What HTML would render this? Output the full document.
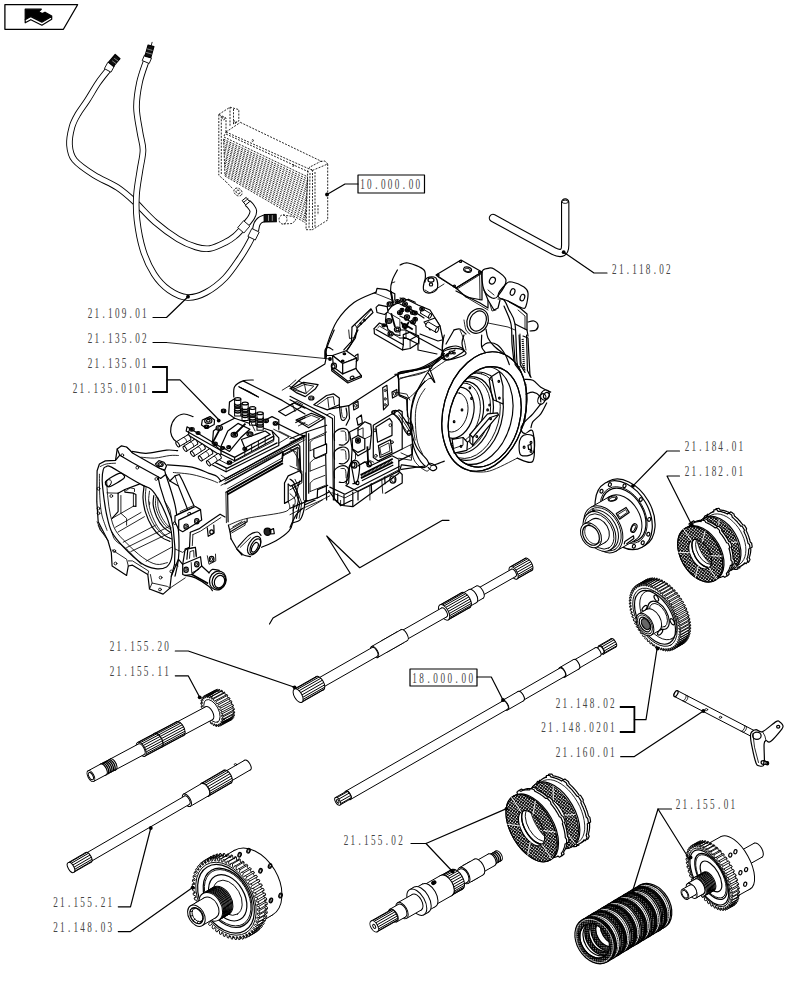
<!DOCTYPE html>
<html><head><meta charset="utf-8"><title>Transmission parts diagram</title>
<style>
html,body{margin:0;padding:0;background:#fff;}
body{width:812px;height:1000px;overflow:hidden;}
svg{display:block;}
.l{fill:none;stroke:#000;stroke-width:1.2;stroke-linecap:round;stroke-linejoin:round;}
.t{fill:none;stroke:#000;stroke-width:0.85;stroke-linecap:round;stroke-linejoin:round;}
.w{fill:#fff;stroke:#000;stroke-width:1.2;stroke-linecap:round;stroke-linejoin:round;}
.wt{fill:#fff;stroke:#000;stroke-width:0.7;stroke-linejoin:round;}
.b{fill:none;stroke:#000;stroke-width:1.8;stroke-linecap:square;stroke-linejoin:miter;}
.d{fill:none;stroke:#111;stroke-width:0.9;stroke-dasharray:2 1.3;}
.lab{font-family:"Liberation Serif","DejaVu Serif",serif;font-size:14.8px;fill:#444;}
</style></head><body>
<svg width="812" height="1000" viewBox="0 0 812 1000">
<rect width="812" height="1000" fill="#fff"/>
<g id="badge">
<polygon class="l" points="4.9,4.7 77.6,4.7 63.4,29.3 4.9,29.3" style="stroke-width:1.3"/>
<polygon class="l" points="25.2,9.2 41.3,9.2 38.6,11.8 42.3,13.6 45,12.2 51.7,16 41.9,21.6 30.8,16 25.2,19.7" style="fill:#000"/>
<polygon class="w" points="25.2,19.7 30.8,16.6 41.9,22.2 51.7,16.6 51.7,19.3 41.9,25.2 30.8,19.7 25.2,22.8" />
</g>
<g id="hoses">
<path d="M108 70C106.3 72.2 101.4 78 98 83C94.6 88 90.8 94.8 87.5 100C84.2 105.2 80.6 109.5 78 114C75.4 118.5 73.4 121.8 72 127C70.6 132.2 69.1 139.5 69.5 145C69.9 150.5 70.4 155 74.5 160C78.6 165 86.8 170.4 94 175C101.2 179.6 110.7 183 117.5 187.5C124.3 192 128.8 196.2 135 202C141.2 207.8 147.8 215.8 155 222C162.2 228.2 171.2 234.8 178 239C184.8 243.2 190.7 245.4 196 247C201.3 248.6 205 249.3 210 248.5C215 247.7 221.8 244.1 226 242C230.2 239.9 232.5 238 235 236C237.5 234 240 231 241 230" fill="none" stroke="#000" stroke-width="6.6" stroke-linecap="butt"/><path d="M108 70C106.3 72.2 101.4 78 98 83C94.6 88 90.8 94.8 87.5 100C84.2 105.2 80.6 109.5 78 114C75.4 118.5 73.4 121.8 72 127C70.6 132.2 69.1 139.5 69.5 145C69.9 150.5 70.4 155 74.5 160C78.6 165 86.8 170.4 94 175C101.2 179.6 110.7 183 117.5 187.5C124.3 192 128.8 196.2 135 202C141.2 207.8 147.8 215.8 155 222C162.2 228.2 171.2 234.8 178 239C184.8 243.2 190.7 245.4 196 247C201.3 248.6 205 249.3 210 248.5C215 247.7 221.8 244.1 226 242C230.2 239.9 232.5 238 235 236C237.5 234 240 231 241 230" fill="none" stroke="#fff" stroke-width="4.8" stroke-linecap="butt"/>
<path d="M145.9 62C144.8 65.4 141.1 74.9 139.5 82.5C137.9 90.1 136.4 99.2 136.5 107.5C136.6 115.8 138.9 125.4 140 132.5C141.1 139.6 143 143.8 143 150C143 156.2 141.1 162.5 140 170C138.9 177.5 137 186.7 136.5 195C136 203.3 135.9 210.8 137 220C138.1 229.2 140.2 241 143 250C145.8 259 149.7 267.3 154 274C158.3 280.7 163.4 286.1 169 290C174.6 293.9 181.3 297.1 187.5 297.5C193.7 297.9 199.8 295.8 206 292.5C212.2 289.2 219.3 283.8 225 278C230.7 272.2 236.2 263.5 240 258C243.8 252.5 246.1 248.3 248 245C249.9 241.7 251 239.3 251.6 238.2" fill="none" stroke="#000" stroke-width="6.6" stroke-linecap="butt"/><path d="M145.9 62C144.8 65.4 141.1 74.9 139.5 82.5C137.9 90.1 136.4 99.2 136.5 107.5C136.6 115.8 138.9 125.4 140 132.5C141.1 139.6 143 143.8 143 150C143 156.2 141.1 162.5 140 170C138.9 177.5 137 186.7 136.5 195C136 203.3 135.9 210.8 137 220C138.1 229.2 140.2 241 143 250C145.8 259 149.7 267.3 154 274C158.3 280.7 163.4 286.1 169 290C174.6 293.9 181.3 297.1 187.5 297.5C193.7 297.9 199.8 295.8 206 292.5C212.2 289.2 219.3 283.8 225 278C230.7 272.2 236.2 263.5 240 258C243.8 252.5 246.1 248.3 248 245C249.9 241.7 251 239.3 251.6 238.2" fill="none" stroke="#fff" stroke-width="4.8" stroke-linecap="butt"/>
<polygon points="111,72.2 114.5,65.8 107.9,62.2 104.4,68.6" fill="#fff" stroke="#000" stroke-width="0.9" stroke-linejoin="round"/>
<polygon points="113.4,66.4 120,58.7 115.2,54.5 108.6,62.2" fill="#111" stroke="#000" stroke-width="1.2" stroke-linejoin="round"/>
<line class="t" x1="112.5" y1="61" x2="116" y2="63.5" style="stroke:#999"/>
<line class="t" x1="114.5" y1="58.5" x2="118" y2="61" style="stroke:#999"/>
<polygon points="149.2,63.5 151.5,58.1 144.5,55.1 142.2,60.5" fill="#fff" stroke="#000" stroke-width="0.9" stroke-linejoin="round"/>
<polygon points="150.8,57.7 153.9,46.6 148.1,45 145,56.1" fill="#111" stroke="#000" stroke-width="1.2" stroke-linejoin="round"/>
<line class="t" x1="146.5" y1="52.5" x2="151.5" y2="54" style="stroke:#999"/>
<line class="t" x1="147.5" y1="49" x2="152" y2="50.3" style="stroke:#999"/>
<line class="t" x1="151.2" y1="45.5" x2="152.1" y2="42.3" />
<path d="M246.7 223.4C247.5 222.3 250.4 219.1 251.5 217C252.6 214.9 253.5 212.8 253.3 211C253.1 209.2 251.5 207.4 250.5 206C249.5 204.6 247.8 203.3 247.2 202.8" fill="none" stroke="#000" stroke-width="7.6" stroke-linecap="butt"/><path d="M246.7 223.4C247.5 222.3 250.4 219.1 251.5 217C252.6 214.9 253.5 212.8 253.3 211C253.1 209.2 251.5 207.4 250.5 206C249.5 204.6 247.8 203.3 247.2 202.8" fill="none" stroke="#fff" stroke-width="5.6" stroke-linecap="butt"/>
<polygon points="243.9,233 249.8,226.1 243.6,220.7 237.7,227.6" fill="#fff" stroke="#000" stroke-width="0.9" stroke-linejoin="round"/>
<polygon points="249.6,201.7 246.2,197.4 242.2,200.6 245.6,204.9" fill="#fff" stroke="#000" stroke-width="1.0" stroke-linejoin="round"/>
<line class="t" x1="243.6" y1="202.3" x2="248" y2="198.8" />
<path d="M255.5 230.3C255.8 229.2 256.2 225.7 257 224C257.8 222.3 258.7 221.2 260 220.2C261.3 219.2 264.2 218.4 265 218" fill="none" stroke="#000" stroke-width="7.2" stroke-linecap="butt"/><path d="M255.5 230.3C255.8 229.2 256.2 225.7 257 224C257.8 222.3 258.7 221.2 260 220.2C261.3 219.2 264.2 218.4 265 218" fill="none" stroke="#fff" stroke-width="5.2" stroke-linecap="butt"/>
<polygon points="255.3,240 259.2,232.1 251.8,228.5 247.9,236.4" fill="#fff" stroke="#000" stroke-width="0.9" stroke-linejoin="round"/>
<polygon points="264.3,221.9 276.3,221.7 276.1,214.3 264.1,214.5" fill="#111" stroke="#000" stroke-width="1.2" stroke-linejoin="round"/>
<line class="t" x1="268.5" y1="215.5" x2="268.5" y2="220.5" style="stroke:#aaa"/>
<line class="t" x1="272.3" y1="215.5" x2="272.3" y2="220.5" style="stroke:#aaa"/>
</g>
<g id="cooler">
<polyline class="d" points="218.8,114.4 230,107.2 238.8,109.6 238.8,121 233,124" />
<polyline class="d" points="218.8,114.4 218.8,175.2 226,181.7" />
<polyline class="d" points="221.3,116 221.3,174" />
<polyline class="d" points="230,107.2 230,126" />
<polyline class="d" points="233.5,109 233.5,124" />
<polyline class="d" points="226,132 226,118 218.8,114.4" />
<circle class="d" cx="223.5" cy="118.5" r="1.3" />
<circle class="d" cx="235" cy="122" r="1.3" />
<polyline class="d" points="226,132 312.5,170.4" />
<polyline class="d" points="226,134 310,172.5" />
<polyline class="d" points="240.4,122.4 322,161.6" />
<polyline class="d" points="226,132 240.4,122.4" />
<polyline class="d" points="224,136 226,132" />
<circle class="d" cx="252.5" cy="140.5" r="0.9" />
<circle class="d" cx="293" cy="165.5" r="0.9" />
<line class="d" x1="223.6" y1="139.2" x2="307.7" y2="179.2" stroke-dashoffset="0.00"/>
<line class="d" x1="223.7" y1="141" x2="307.6" y2="181.4" stroke-dashoffset="0.50"/>
<line class="d" x1="223.7" y1="142.9" x2="307.4" y2="183.5" stroke-dashoffset="1.00"/>
<line class="d" x1="223.8" y1="144.7" x2="307.3" y2="185.7" stroke-dashoffset="1.50"/>
<line class="d" x1="223.9" y1="146.6" x2="307.2" y2="187.9" stroke-dashoffset="2.00"/>
<line class="d" x1="223.9" y1="148.4" x2="307" y2="190" stroke-dashoffset="2.50"/>
<line class="d" x1="224" y1="150.2" x2="306.9" y2="192.2" stroke-dashoffset="3.00"/>
<line class="d" x1="224.1" y1="152.1" x2="306.8" y2="194.4" stroke-dashoffset="0.25"/>
<line class="d" x1="224.2" y1="153.9" x2="306.6" y2="196.5" stroke-dashoffset="0.75"/>
<line class="d" x1="224.2" y1="155.8" x2="306.5" y2="198.7" stroke-dashoffset="1.25"/>
<line class="d" x1="224.3" y1="157.6" x2="306.4" y2="200.8" stroke-dashoffset="1.75"/>
<line class="d" x1="224.4" y1="159.4" x2="306.2" y2="203" stroke-dashoffset="2.25"/>
<line class="d" x1="224.4" y1="161.3" x2="306.1" y2="205.2" stroke-dashoffset="2.75"/>
<line class="d" x1="224.5" y1="163.1" x2="305.9" y2="207.3" stroke-dashoffset="0.00"/>
<line class="d" x1="224.6" y1="165" x2="305.8" y2="209.5" stroke-dashoffset="0.50"/>
<line class="d" x1="224.7" y1="166.8" x2="305.7" y2="211.7" stroke-dashoffset="1.00"/>
<line class="d" x1="224.7" y1="168.6" x2="305.5" y2="213.8" stroke-dashoffset="1.50"/>
<line class="d" x1="224.8" y1="170.5" x2="305.4" y2="216" stroke-dashoffset="2.00"/>
<line class="d" x1="224.9" y1="172.3" x2="305.3" y2="218.2" stroke-dashoffset="2.50"/>
<line class="d" x1="224.9" y1="174.2" x2="305.1" y2="220.3" stroke-dashoffset="3.00"/>
<line class="d" x1="225" y1="176" x2="305" y2="222.5" stroke-dashoffset="0.25"/>
<polyline class="d" points="223.6,139.2 225,176" />
<polyline class="d" points="307.7,179.2 305,222.5" />
<polyline class="d" points="224,137 308,177" />
<polyline class="d" points="312.5,170.4 327.7,164 327.7,220 312.5,229.7 312.5,170.4" />
<polyline class="d" points="307.7,170.4 306,229.7 312.5,229.7" />
<polyline class="d" points="310,173 309,228" />
<polyline class="d" points="315,172 315,227" />
<polyline class="d" points="320.5,161.5 325,161 327.7,164" />
<polyline class="d" points="312.5,170.4 309,167.5 320.5,161.5" />
<polyline class="d" points="318,205 318,215" />
<ellipse class="d" cx="238" cy="192" rx="4.5" ry="3.5" transform="rotate(40 238 192)" />
<ellipse class="d" cx="238" cy="192" rx="2.2" ry="1.7" transform="rotate(40 238 192)" />
<polyline class="d" points="226,181.7 233,189" />
<ellipse class="d" cx="283" cy="219.5" rx="4" ry="4.6" />
<polyline class="d" points="283,215 293,216.5 296,220 292,223.5 283,224" />
</g>
<g id="tube">
<path d="M493 218 L553.5 251 Q565.2 257 565.2 245 L565.2 202.5" fill="none" stroke="#000" stroke-width="8.4" stroke-linecap="round"/>
<path d="M493 218 L553.5 251 Q565.2 257 565.2 245 L565.2 202.5" fill="none" stroke="#fff" stroke-width="6.2" stroke-linecap="round"/>
<ellipse class="t" cx="565.2" cy="201.8" rx="3.2" ry="1.6" />
</g>
<g id="housing">
<polyline class="l" points="225,479 304.9,435.4" />
<polyline class="t" points="225,481 304.9,437.7" />
<polyline class="l" points="225,484.1 282.8,452.1 283.7,455.5" />
<polyline class="b" points="227.6,491.5 282,460.9" />
<polyline class="t" points="227.6,488.7 282,458.1" />
<polyline class="l" points="227.6,491.5 228.1,521.8" />
<polyline class="t" points="225.9,492.1 226.4,522.7" />
<polyline class="l" points="282,458.1 282.8,452.1 298.1,444.5 299.8,446.2 300.7,472.5" />
<polyline class="t" points="283.7,455.5 297.3,448.4 298.1,470.8" />
<polyline class="t" points="293,450.4 298.4,458.9 299.1,469.1" />
<polyline class="l" points="284.5,483 288.2,475.9 299.8,470.8 301.8,474.5 301.5,481 290.5,486.1 288.2,484.1" />
<polyline class="l" points="284.5,483 284.5,503.4 288.2,501.4 288.2,484.1" />
<polyline class="t" points="288.2,501.4 295,497.2 299.8,481" />
<polyline class="l" points="292.2,486.1 296.4,494.6 299.8,503.1 296.4,518.4" />
<polyline class="t" points="293.9,485.3 298.4,494.3 301.8,503.1 299.1,518.4" />
<polyline class="t" points="295,479.3 298.1,486.1 299.8,481" />
<path class="t" d="M228.4 525.2C231.5 524.1 237.5 520.7 247.1 518.4C256.7 516.1 279.3 514.1 286.2 511.3C293.1 508.4 287.9 503 288.2 501.4" />
<path class="l" d="M261.6 547.3C264 546.2 271.5 543.5 276 540.8C280.5 538.2 286 534.2 288.8 531.2C291.5 528.1 291.9 527 292.7 522.7C293.4 518.3 293.2 507.8 293.3 504.8" />
<path class="l" d="M293.3 522.7C294.4 522.2 298.1 521.9 299.8 520.1C301.5 518.3 302.7 514.7 303.5 511.6C304.4 508.5 304.7 503.1 304.9 501.4" />
<polyline class="l" points="230.1,532 247.1,521.8 247.1,518.7" />
<polyline class="t" points="230.1,529.5 245.1,521 245.1,525.2 231.8,532.9" />
<polyline class="t" points="232.7,526.9 242,521.5" />
<polyline class="l" points="228.4,525.2 230.1,532 231,538.8" />
<polyline class="l" points="231,538.8 236.9,549 242,555" />
<ellipse class="w" cx="254.2" cy="545.6" rx="5.5" ry="10" transform="rotate(28 254.2 545.6)" />
<ellipse class="l" cx="255.3" cy="546.3" rx="4.2" ry="8.2" transform="rotate(28 255.3 546.3)" />
<ellipse class="l" cx="254.9" cy="547.3" rx="2.6" ry="5.2" transform="rotate(28 254.9 547.3)" />
<path class="l" d="M237.8 547.3C239.6 545.3 245.5 538 248.8 535.4C252.1 532.9 255.3 532 257.3 532C259.3 532 260.4 534.8 261 535.4" />
<path class="l" d="M236.9 549C238 550 241.4 553.7 243.7 555C246 556.2 249.4 556.4 250.5 556.7" />
<polyline class="t" points="240.3,547.3 250.5,537.4" />
<ellipse class="l" cx="267.5" cy="531.7" rx="3.4" ry="3.6" style="fill:#222"/>
<polygon class="l" points="269.5,530.3 273.5,528.6 274.3,533.7 270.9,534" />
<clipPath id="c2r"><rect x="290" y="500" width="200" height="120"/></clipPath><g clip-path="url(#c2r)">
<polyline class="l" points="304.9,435.4 304.9,501.4 313.4,497.2 327,489.5 327,430" />
<polyline class="l" points="308.3,438.5 308.3,494.6 316.8,489.8 316.8,495.5" />
<polyline class="t" points="310,440.2 310,492.1 325.3,484.1 325.3,433.4" />
<polyline class="l" points="329.6,430 329.6,489.5 327,489.5" />
<path class="l" d="M304.9 504.8C307.5 503.5 316.5 499.7 320.2 497.2C323.9 494.6 325.9 490.8 327 489.5" />
<polyline class="t" points="305.8,509.9 320.2,501.4 325.3,498" />
<polyline class="t" points="310,448.7 325.3,440.2 325.3,444.5 310,453.5" />
<polyline class="t" points="314.3,447 314.3,450.7 325.3,444.5" />
<polyline class="t" points="310,466.6 325.3,458.1 325.3,462.3 310,471.3" />
<polyline class="t" points="314.3,464.9 314.3,468.6 325.3,462.3" />
<polyline class="t" points="310,483.6 325.3,475.1 325.3,479.3 310,488.3" />
<polyline class="t" points="314.3,481.9 314.3,485.6 325.3,479.3" />
<polygon class="l" points="313.4,450.4 320.2,447 327,447 327,452.1 320.2,455.5 313.4,455.5" />
<polyline class="l" points="329.6,489.5 337.2,484.4 344,482.7 360,474.2" />
<polyline class="l" points="327,494.6 337.2,501.4 340.6,505.7 360,496.3" />
<polyline class="t" points="337.2,486.1 337.2,501.4" />
<polyline class="t" points="340.6,498 340.6,505.7" />
<polyline class="t" points="344,482.7 344.9,497.2 350.8,494.6 350.8,486.1" />
<polyline class="b" points="329.6,486.1 338.1,481" />
<polyline class="t" points="333.8,440.2 344,435.1 344,479.3 333.8,484.4" />
<polygon class="l" points="336.4,443.6 342.3,440.5 342.3,452.1 336.4,455.5" />
<polygon class="l" points="336.4,460.6 342.3,457.5 342.3,469.1 336.4,472.5" />
<polyline class="l" points="350,455.5 355.9,458.9 356.8,481 351.7,482.7" />
<polyline class="t" points="351.7,460.6 354.2,472.5 352.5,481" />
<ellipse class="l" cx="355.1" cy="464" rx="2.5" ry="3" />
</g>
<path class="l" d="M193 416.6C191.4 416.1 186.6 413.7 183.6 414C180.6 414.3 177.2 416 175.1 418.3C173 420.5 171.4 424.6 170.9 427.6C170.3 430.6 170.7 433.7 171.7 436.1C172.7 438.5 174.7 440.8 176.8 442.1C178.9 443.3 183.2 443.5 184.5 443.8" />
<path class="l" d="M233.8 397C233.9 395.3 233 389.5 234.6 386.8C236.2 384.1 240 382 243.1 380.9C246.2 379.7 251.6 380.1 253.3 380" />
<polyline class="t" points="238.9,386.8 258.4,397 249.9,391.9 240.6,387.7" />
<polyline class="l" points="243.1,380.9 282.2,400.4 305,414" />
<polyline class="l" points="258.4,397 238.9,386.8" />
<polyline class="l" points="278.8,411.5 294.1,403 305,408.1" />
<polyline class="l" points="278.8,411.5 285.6,415.7 300.9,407.2" />
<polyline class="t" points="292.4,403.8 295,411.5" />
<polyline class="t" points="282.2,390.2 289,386 305,393.6" />
<polyline class="t" points="289,386 295.8,380" />
<polyline class="l" points="295.8,422.5 305,417.7" />
<polyline class="t" points="298.4,425.9 305,422.5" />
<polyline class="l" points="219.3,482 305,436.1" />
<polyline class="t" points="221,485.4 305,439.8" />
<polyline class="l" points="226.1,492.2 282.2,460.8 283.1,454.8 297.5,447.2 299.2,448.9 300.1,471.8" />
<polyline class="b" points="227.8,494.2 282.2,463.6" />
<polyline class="l" points="275.4,422.5 299.2,434.4 305,436.1" />
<polyline class="t" points="273.7,429.3 289,437 278.8,443.2" />
<polyline class="t" points="278.8,431 295.8,439.5" />
<polyline class="l" points="212.5,465 226.1,471.8 278.8,445.5 278.8,437.8 272,431" />
<polyline class="l" points="213.4,461.6 227,468.4 277.1,442.9" />
<polyline class="t" points="219.3,459.9 228.7,464.7 273.7,441.2 273.7,436.1" />
<polyline class="t" points="226.1,468.4 226.1,471.8" />
<polyline class="t" points="221,475.2 227.8,479.5 282.2,451.4" />
<polygon class="w" points="221,425.1 234.6,418.3 272,431 273.7,436.1 234.6,457.4 221,450.6 212.5,442.9 213.4,431" />
<polygon class="l" points="227.8,431 238,423.4 249.9,429.3 240.6,437.8 229.5,451.4 221,446.3" />
<polyline class="l" points="234.6,457.4 234.6,460.8 273.7,439.5 273.7,436.1" />
<polyline class="l" points="221,450.6 221,454 234.6,460.8" />
<polygon class="l" points="241.4,439.5 265.2,431 270.3,434.4 244.8,448" />
<polyline class="t" points="244.8,448 244.8,454.8" />
<polyline class="t" points="251.6,444.6 251.6,451.4" />
<polyline class="t" points="258.4,440.9 258.4,447.7" />
<polyline class="t" points="265.2,437.1 265.2,443.9" />
<ellipse class="w" cx="208.3" cy="420.8" rx="3.6" ry="2.7" />
<ellipse class="l" cx="208.3" cy="420.8" rx="1.8" ry="1.4" />
<ellipse class="w" cx="219.3" cy="427.9" rx="3.2" ry="2.4" />
<ellipse class="l" cx="219.3" cy="427.9" rx="1.6" ry="1.3" />
<ellipse class="w" cx="234.3" cy="434.7" rx="3.2" ry="2.4" />
<ellipse class="l" cx="234.3" cy="434.7" rx="1.6" ry="1.3" />
<ellipse class="w" cx="249.9" cy="434.1" rx="3" ry="2.2" />
<ellipse class="l" cx="249.9" cy="434.1" rx="1.5" ry="1.2" />
<ellipse class="w" cx="206.6" cy="426.8" rx="2.2" ry="1.7" />
<ellipse class="l" cx="206.6" cy="426.8" rx="1.1" ry="0.9" />
<ellipse class="w" cx="228.7" cy="447.2" rx="2" ry="1.5" />
<ellipse class="l" cx="228.7" cy="447.2" rx="1" ry="0.8" />
<ellipse class="w" cx="244.8" cy="448.9" rx="2" ry="1.5" />
<ellipse class="l" cx="244.8" cy="448.9" rx="1" ry="0.8" />
<ellipse class="w" cx="191.8" cy="429.3" rx="2.4" ry="1.8" />
<ellipse class="l" cx="191.8" cy="429.3" rx="1.2" ry="1" />
<ellipse class="w" cx="198.1" cy="433" rx="2" ry="1.5" />
<ellipse class="l" cx="198.1" cy="433" rx="1" ry="0.8" />
<ellipse class="w" cx="215.1" cy="443.8" rx="2.2" ry="1.7" />
<ellipse class="l" cx="215.1" cy="443.8" rx="1.1" ry="0.9" />
<ellipse class="w" cx="222.7" cy="448" rx="2" ry="1.5" />
<ellipse class="l" cx="222.7" cy="448" rx="1" ry="0.8" />
<ellipse class="w" cx="229.5" cy="462.5" rx="2.2" ry="1.7" />
<ellipse class="l" cx="229.5" cy="462.5" rx="1.1" ry="0.9" />
<ellipse class="w" cx="266.1" cy="420.8" rx="2.4" ry="1.8" />
<ellipse class="l" cx="266.1" cy="420.8" rx="1.2" ry="1" />
<ellipse class="w" cx="275.4" cy="423.4" rx="2.2" ry="1.7" />
<ellipse class="l" cx="275.4" cy="423.4" rx="1.1" ry="0.9" />
<ellipse class="w" cx="223.6" cy="410.9" rx="2.2" ry="1.7" />
<ellipse class="l" cx="223.6" cy="410.9" rx="1.1" ry="0.9" />
<polyline class="b" points="219.3,430.2 212.5,442.9" />
<polyline class="b" points="234.3,434.7 244.8,424.2" />
<polygon class="l" points="202.3,420 201.5,425.1 206.6,428.5 214.2,424.5 214.5,420 210,416.6" />
<polygon class="l" points="187,426.8 221,447.2 221,450.6 186.2,431" />
<polyline class="l" points="188.7,431 188.7,435.3 219.3,454.8 221,454" />
<ellipse cx="189" cy="437.5" rx="2.9" ry="1.3" transform="rotate(59.2 189 437.5)" fill="#fff" stroke="#000" stroke-width="1.0" stroke-linejoin="round" stroke-linecap="round"/>
<polygon points="179.1,446.7 190.5,439.9 187.6,435 176.2,441.8" fill="#fff" stroke="none"/>
<line x1="179.1" y1="446.7" x2="190.5" y2="439.9" stroke="#000" stroke-width="1.0" stroke-linejoin="round" stroke-linecap="round"/>
<line x1="176.2" y1="441.8" x2="187.6" y2="435" stroke="#000" stroke-width="1.0" stroke-linejoin="round" stroke-linecap="round"/>
<ellipse cx="177.7" cy="444.3" rx="2.9" ry="1.3" transform="rotate(59.2 177.7 444.3)" fill="#fff" stroke="#000" stroke-width="1.0" stroke-linejoin="round" stroke-linecap="round"/>
<polyline class="t" points="186.2,442.5 186.5,442 186.6,441.3 186.3,440.3 185.8,439.3 185.2,438.4 184.4,437.8 183.7,437.5 183.2,437.5" />
<ellipse cx="195.8" cy="441.9" rx="2.9" ry="1.3" transform="rotate(57.4 195.8 441.9)" fill="#fff" stroke="#000" stroke-width="1.0" stroke-linejoin="round" stroke-linecap="round"/>
<polygon points="186.5,451.3 197.4,444.3 194.3,439.5 183.4,446.4" fill="#fff" stroke="none"/>
<line x1="186.5" y1="451.3" x2="197.4" y2="444.3" stroke="#000" stroke-width="1.0" stroke-linejoin="round" stroke-linecap="round"/>
<line x1="183.4" y1="446.4" x2="194.3" y2="439.5" stroke="#000" stroke-width="1.0" stroke-linejoin="round" stroke-linecap="round"/>
<ellipse cx="185" cy="448.9" rx="2.9" ry="1.3" transform="rotate(57.4 185 448.9)" fill="#fff" stroke="#000" stroke-width="1.0" stroke-linejoin="round" stroke-linecap="round"/>
<polyline class="t" points="193.3,447 193.6,446.5 193.6,445.8 193.4,444.8 192.9,443.8 192.2,442.9 191.5,442.3 190.8,442 190.2,442" />
<ellipse cx="203.3" cy="446.6" rx="2.9" ry="1.3" transform="rotate(56.7 203.3 446.6)" fill="#fff" stroke="#000" stroke-width="1.0" stroke-linejoin="round" stroke-linecap="round"/>
<polygon points="194,456.2 204.9,449.1 201.7,444.2 190.9,451.4" fill="#fff" stroke="none"/>
<line x1="194" y1="456.2" x2="204.9" y2="449.1" stroke="#000" stroke-width="1.0" stroke-linejoin="round" stroke-linecap="round"/>
<line x1="190.9" y1="451.4" x2="201.7" y2="444.2" stroke="#000" stroke-width="1.0" stroke-linejoin="round" stroke-linecap="round"/>
<ellipse cx="192.4" cy="453.8" rx="2.9" ry="1.3" transform="rotate(56.7 192.4 453.8)" fill="#fff" stroke="#000" stroke-width="1.0" stroke-linejoin="round" stroke-linecap="round"/>
<polyline class="t" points="200.8,451.8 201.1,451.4 201.1,450.6 200.8,449.7 200.4,448.7 199.7,447.8 199,447.1 198.3,446.8 197.7,446.9" />
<ellipse cx="210.8" cy="451.4" rx="2.9" ry="1.3" transform="rotate(55.9 210.8 451.4)" fill="#fff" stroke="#000" stroke-width="1.0" stroke-linejoin="round" stroke-linecap="round"/>
<polygon points="201.9,460.9 212.4,453.8 209.2,449 198.6,456.2" fill="#fff" stroke="none"/>
<line x1="201.9" y1="460.9" x2="212.4" y2="453.8" stroke="#000" stroke-width="1.0" stroke-linejoin="round" stroke-linecap="round"/>
<line x1="198.6" y1="456.2" x2="209.2" y2="449" stroke="#000" stroke-width="1.0" stroke-linejoin="round" stroke-linecap="round"/>
<ellipse cx="200.3" cy="458.5" rx="2.9" ry="1.3" transform="rotate(55.9 200.3 458.5)" fill="#fff" stroke="#000" stroke-width="1.0" stroke-linejoin="round" stroke-linecap="round"/>
<polyline class="t" points="208.4,456.6 208.7,456.1 208.7,455.4 208.5,454.4 208,453.4 207.3,452.5 206.6,451.9 205.9,451.6 205.4,451.7" />
<ellipse cx="219.3" cy="456.2" rx="2.9" ry="1.3" transform="rotate(56.7 219.3 456.2)" fill="#fff" stroke="#000" stroke-width="1.0" stroke-linejoin="round" stroke-linecap="round"/>
<polygon points="210,465.7 220.9,458.6 217.7,453.7 206.8,460.9" fill="#fff" stroke="none"/>
<line x1="210" y1="465.7" x2="220.9" y2="458.6" stroke="#000" stroke-width="1.0" stroke-linejoin="round" stroke-linecap="round"/>
<line x1="206.8" y1="460.9" x2="217.7" y2="453.7" stroke="#000" stroke-width="1.0" stroke-linejoin="round" stroke-linecap="round"/>
<ellipse cx="208.4" cy="463.3" rx="2.9" ry="1.3" transform="rotate(56.7 208.4 463.3)" fill="#fff" stroke="#000" stroke-width="1.0" stroke-linejoin="round" stroke-linecap="round"/>
<polyline class="t" points="216.7,461.4 217,460.9 217.1,460.2 216.8,459.2 216.3,458.2 215.7,457.3 214.9,456.7 214.3,456.3 213.7,456.4" />
<rect x="234.6" y="399" width="6.2" height="17" fill="#fff" stroke="#000" stroke-width="1"/>
<ellipse class="w" cx="237.7" cy="399" rx="3.1" ry="1.4" />
<path d="M234.6 403.8 A3.1 1.4 0 0 0 240.8 403.8" class="l" style="stroke-width:1.5"/>
<path d="M234.6 405.8 A3.1 1.4 0 0 0 240.8 405.8" class="l" style="stroke-width:1.5"/>
<path d="M234.6 409.6 A3.1 1.4 0 0 0 240.8 409.6" class="l" style="stroke-width:1.5"/>
<path d="M234.6 411.6 A3.1 1.4 0 0 0 240.8 411.6" class="l" style="stroke-width:1.5"/>
<rect x="234.6" y="406.5" width="6.2" height="2.6" fill="#111"/>
<rect x="242" y="403.5" width="6.2" height="17" fill="#fff" stroke="#000" stroke-width="1"/>
<ellipse class="w" cx="245.1" cy="403.5" rx="3.1" ry="1.4" />
<path d="M242 408.2 A3.1 1.4 0 0 0 248.2 408.2" class="l" style="stroke-width:1.5"/>
<path d="M242 410.3 A3.1 1.4 0 0 0 248.2 410.3" class="l" style="stroke-width:1.5"/>
<path d="M242 414 A3.1 1.4 0 0 0 248.2 414" class="l" style="stroke-width:1.5"/>
<path d="M242 416 A3.1 1.4 0 0 0 248.2 416" class="l" style="stroke-width:1.5"/>
<rect x="242" y="410.9" width="6.2" height="2.6" fill="#111"/>
<rect x="249.5" y="408.1" width="6.2" height="17" fill="#fff" stroke="#000" stroke-width="1"/>
<ellipse class="w" cx="252.6" cy="408.1" rx="3.1" ry="1.4" />
<path d="M249.5 412.8 A3.1 1.4 0 0 0 255.7 412.8" class="l" style="stroke-width:1.5"/>
<path d="M249.5 414.9 A3.1 1.4 0 0 0 255.7 414.9" class="l" style="stroke-width:1.5"/>
<path d="M249.5 418.6 A3.1 1.4 0 0 0 255.7 418.6" class="l" style="stroke-width:1.5"/>
<path d="M249.5 420.6 A3.1 1.4 0 0 0 255.7 420.6" class="l" style="stroke-width:1.5"/>
<rect x="249.5" y="415.5" width="6.2" height="2.6" fill="#111"/>
<rect x="257" y="413.2" width="6.2" height="17" fill="#fff" stroke="#000" stroke-width="1"/>
<ellipse class="w" cx="260.1" cy="413.2" rx="3.1" ry="1.4" />
<path d="M257 417.9 A3.1 1.4 0 0 0 263.2 417.9" class="l" style="stroke-width:1.5"/>
<path d="M257 420 A3.1 1.4 0 0 0 263.2 420" class="l" style="stroke-width:1.5"/>
<path d="M257 423.7 A3.1 1.4 0 0 0 263.2 423.7" class="l" style="stroke-width:1.5"/>
<path d="M257 425.7 A3.1 1.4 0 0 0 263.2 425.7" class="l" style="stroke-width:1.5"/>
<rect x="257" y="420.6" width="6.2" height="2.6" fill="#111"/>
<polyline class="l" points="229.5,402.1 228.7,414 234.6,418.3" />
<polyline class="l" points="229.5,402.1 234.6,398.7" />
<polyline class="l" points="265.2,420 272,416.6 278.8,420 278.8,429.3" />
<polyline class="t" points="249.9,420 255,431" />
<polyline class="l" points="290,388.7 298.5,381 301.9,377.9 324.9,364 326.6,355.5 332.5,355.5" />
<polyline class="t" points="298.5,381 306.2,384.7" />
<polyline class="l" points="329.1,409.1 348.7,405.7 397.1,374.5 425,367.7" />
<polyline class="l" points="348.7,405.7 349.5,418.4 346.1,425.2" />
<polyline class="l" points="397.1,374.5 398.8,379.3 398.8,394.6 407.3,398 407.3,409.9" />
<polyline class="t" points="398.8,379.3 409,375.9 425,371.7" />
<path class="l" d="M326.6 355.5C326.6 354.4 325.3 353 326.6 348.7C327.8 344.5 332.9 333.1 334.2 330" />
<path class="l" d="M346.1 351.3C346.8 350.3 348.4 348.8 350.4 345.3C352.3 341.8 356.7 332.6 358 330" />
<polyline class="t" points="348.7,330 349.5,338.5 353.8,337.7 357.2,330" />
<polygon class="w" points="332.5,355.5 346.1,350.7 356.6,358.1 342.7,363.5" />
<polygon class="w" points="332.5,355.5 342.7,363.5 342.7,373.9 333.4,367.1" />
<polygon class="w" points="342.7,363.5 356.6,358.1 356,368.4 342.7,373.9" />
<ellipse class="l" cx="344.4" cy="353.8" rx="1.3" ry="0.9" style="fill:#000"/>
<ellipse class="l" cx="342.7" cy="360.9" rx="1.3" ry="0.9" style="fill:#000"/>
<ellipse class="w" cx="333.9" cy="366" rx="2.6" ry="2.8" />
<ellipse class="l" cx="333.4" cy="366.4" rx="1.6" ry="1.8" />
<polyline class="l" points="355.5,355.5 358,354.1 358,359.8 356.3,361.5" />
<polyline class="l" points="331.7,368.8 347.8,381.3 361.4,375.6 357.2,370.5 356,368.4" />
<polyline class="l" points="331.7,368.8 331.7,370.8 347.8,383 361.4,377.3 361.4,375.6" />
<ellipse class="l" cx="352.1" cy="377.6" rx="2" ry="1.4" transform="rotate(-20 352.1 377.6)" />
<polygon class="l" points="290.9,388.7 303.6,382.4 318.1,384.7 315.5,388.7 305.3,396.6 296.8,392.9" />
<polygon class="t" points="293.4,389.5 304.5,384.4 313.8,386.1 306.2,393.2" />
<polyline class="t" points="304.5,384.4 306.2,393.2" />
<polygon class="l" points="313.8,404.8 326.6,395.5 333.4,393.8 339.3,398 339.3,404.8 327.4,409.9" />
<polyline class="t" points="317.2,405.1 327.7,397.7 333.4,396.6 334.5,404.8" />
<polyline class="t" points="327.7,397.7 328.8,407.4" />
<ellipse class="l" cx="311.3" cy="398" rx="2.6" ry="2" />
<ellipse class="t" cx="311.3" cy="398" rx="1.4" ry="1" />
<path class="l" d="M339.3 404.8C339.6 407.1 340.2 415.9 341 418.4C341.9 421 343.4 420.7 344.4 420.1C345.4 419.5 346.7 417 347 415C347.2 413 346.2 409.3 346.1 408.2" />
<path class="t" d="M341 406.5C341.2 408.2 341.7 414.9 342.4 416.7C343 418.5 344.3 417.4 344.7 417.6" />
<polyline class="l" points="290,396.3 326.6,415 332.5,418.4 333.4,500" />
<polyline class="l" points="290,399.7 324.9,417.6 326.6,500" />
<polyline class="t" points="326.6,415 330,413.3 334.5,415.9 334.5,500" />
<polyline class="l" points="290,438.8 306.2,432 326.6,425.2" />
<polyline class="l" points="306.2,432 306.2,500" />
<polyline class="l" points="308.7,433.7 308.7,493.2" />
<polyline class="t" points="290,442.2 303.6,436.3 303.6,500" />
<polygon class="l" points="296,420.1 311.3,413.3 324,418.4 308.7,427.8" />
<polygon class="t" points="298.5,420.4 311.3,415.3 319.8,418.7 308.7,425.2" />
<polyline class="t" points="290,404.8 296.8,401.4 302.8,404.8" />
<polyline class="t" points="308.7,440.5 326.6,432" />
<polyline class="t" points="310.1,450.7 310.1,442.2 313.8,438.8 324.9,434.6" />
<polyline class="t" points="310.1,450.7 324.9,444.8" />
<polyline class="t" points="310.1,471.1 310.1,462.6 313.8,459.2 324.9,455" />
<polyline class="t" points="310.1,471.1 324.9,465.2" />
<polyline class="t" points="310.1,491.5 310.1,483 313.8,479.6 324.9,475.4" />
<polyline class="t" points="310.1,491.5 324.9,485.6" />
<polygon class="w" points="313.8,449 326.6,443.9 326.6,453.3 315.5,458.4 313.8,456.7" />
<polyline class="t" points="290,466 301.9,471.1 301.9,483 290,489.8" />
<polyline class="t" points="290,449 296.8,452.4 296.8,466" />
<path class="l" d="M334.5 440.5C334.5 439.2 333.5 434.8 334.5 432.9C335.6 430.9 338.9 429.2 341 428.6C343.1 428 345.7 428.7 347 429.5C348.2 430.2 348.4 431 348.7 432.9C348.9 434.7 349.4 438.5 348.7 440.5C347.9 442.5 346 444 344.4 444.8C342.8 445.5 340.2 444.8 339.3 444.8" />
<path class="t" d="M341 431.2C341.7 431.3 344.4 430.4 345.3 432C346.1 433.6 346 439.1 346.1 440.5" />
<path class="l" d="M334.5 459.2C334.5 457.9 333.5 453.5 334.5 451.6C335.6 449.6 338.9 447.9 341 447.3C343.1 446.7 345.7 447.4 347 448.2C348.2 448.9 348.4 449.7 348.7 451.6C348.9 453.4 349.4 457.2 348.7 459.2C347.9 461.2 346 462.7 344.4 463.5C342.8 464.2 340.2 463.5 339.3 463.5" />
<path class="t" d="M341 449.9C341.7 450 344.4 449.1 345.3 450.7C346.1 452.3 346 457.8 346.1 459.2" />
<path class="l" d="M334.5 477.9C334.5 476.6 333.5 472.2 334.5 470.3C335.6 468.3 338.9 466.6 341 466C343.1 465.4 345.7 466.1 347 466.9C348.2 467.6 348.4 468.4 348.7 470.3C348.9 472.1 349.4 475.9 348.7 477.9C347.9 479.9 346 481.5 344.4 482.2C342.8 482.9 340.2 482.2 339.3 482.2" />
<path class="t" d="M341 468.6C341.7 468.7 344.4 467.8 345.3 469.4C346.1 471 346 476.5 346.1 477.9" />
<polygon class="l" points="353.2,404 358,401.4 358.3,407.4 353.8,409.9" />
<ellipse class="t" cx="355.8" cy="405.7" rx="1.2" ry="1.5" />
<polygon class="l" points="382.7,387.8 386.9,385.3 388.3,404.8 383.5,409.9" />
<ellipse class="t" cx="385.2" cy="390.4" rx="1" ry="1.3" />
<ellipse class="t" cx="385.2" cy="398.9" rx="1" ry="1.3" />
<ellipse class="t" cx="385.2" cy="404.8" rx="1" ry="1.3" />
<polygon class="l" points="392,392.1 396.8,389.5 397.1,395.5 392.5,398" />
<ellipse class="t" cx="394.6" cy="393.8" rx="1.2" ry="1.5" />
<polygon class="l" points="356.6,418.4 361.4,415 362.3,422.7 358,425.2" />
<polygon class="l" points="349.5,432 358,427.8 364.8,421.8 370.8,424.4 371.6,432 369.9,449 358,455.8 352.1,449" />
<polygon class="l" points="352.1,438.8 358,435.4 364.8,438.8 364.8,449 358,452.4 352.6,449" />
<polyline class="l" points="358,427.8 358,435.4" />
<polyline class="t" points="358,430.3 363.1,427.8 363.1,437.1" />
<ellipse class="l" cx="358" cy="440.5" rx="2.4" ry="2.6" />
<ellipse class="l" cx="358" cy="440.5" rx="1.2" ry="1.3" style="fill:#000"/>
<polyline class="t" points="364.8,438.8 371.6,435.4" />
<polyline class="b" points="367.4,447.3 368.2,464.3" />
<polyline class="l" points="352.1,449 351.2,464.3 354.6,483 358,484.7" />
<polyline class="t" points="355.5,452.4 355.5,459.2 352.1,461.8" />
<ellipse class="l" cx="354.3" cy="465.2" rx="2.6" ry="3" />
<ellipse class="l" cx="369.1" cy="464.3" rx="2.2" ry="2.6" />
<polyline class="l" points="358,466 364.8,461.8 369.9,466 392,455.8 398.8,459.2" />
<polyline class="l" points="349.5,466 348.7,483 346.1,485.6" />
<polygon class="l" points="373.3,425.2 388.6,415.9 398.8,409.9 402.2,411.6 402.2,449 378.4,460.9 373.3,457.5" />
<polygon class="l" points="375.9,426.9 389.5,418.4 392,421.8 392,435.4 377.6,442.2" />
<polygon class="l" points="378.4,445.6 390.3,439.7 392,452.4 380.1,457.5" />
<polygon class="t" points="380.1,447.3 388.9,442.9 390,451 381.5,455" />
<ellipse class="t" cx="375" cy="430.3" rx="1.3" ry="1.5" />
<ellipse class="t" cx="375.9" cy="455.8" rx="1.3" ry="1.5" />
<ellipse class="t" cx="392" cy="442.2" rx="1.3" ry="1.5" />
<ellipse class="t" cx="390.3" cy="425.2" rx="1.3" ry="1.5" />
<path class="l" d="M392 412.5C392.3 413.7 396.5 415.1 398.8 418.4C401.1 421.7 403.9 429.5 405.6 432C407.3 434.6 408.2 434 409 433.7C409.9 433.4 411.6 432.9 410.7 430.3C409.9 427.8 406.2 421.7 403.9 418.4C401.6 415.1 399.1 411.7 397.1 410.8C395.1 409.8 391.7 411.2 392 412.5Z" />
<polyline class="t" points="394.6,415 400.5,421.8 406.5,431.2" />
<polyline class="t" points="398.8,415 404.2,422.7 409,430.3" />
<ellipse class="l" cx="393.4" cy="412.5" rx="1.6" ry="1.6" />
<ellipse class="l" cx="409" cy="432.9" rx="1.8" ry="2.2" />
<path class="l" d="M405.6 421.8C406.7 422.4 411.4 423.5 412.4 425.2C413.4 426.9 411.7 430.9 411.6 432" />
<polyline class="b" points="361.4,474.5 392,459.2" />
<polyline class="b" points="361.7,477.9 392.3,462.6" />
<polyline class="l" points="362.3,480.5 392.9,465.2" />
<line x1="361.4" y1="476.5" x2="392.3" y2="461.2" stroke="#000" stroke-width="3.2" stroke-dasharray="0.8 0.7"/>
<polyline class="l" points="346.1,485.6 358,491.5 398.8,471.1 398.8,460.9" />
<polyline class="l" points="358,491.5 358,500" />
<polyline class="t" points="369.9,486.1 369.9,500" />
<polyline class="t" points="381.8,479.9 382.7,493.2" />
<polyline class="l" points="398.8,471.1 402.2,474.5 402.2,483 385.2,493.2" />
<ellipse class="l" cx="392.9" cy="479.6" rx="3" ry="3.6" />
<ellipse class="t" cx="393.4" cy="479.9" rx="1.8" ry="2.2" />
<polyline class="l" points="398.8,460.9 412.4,454.1 412.4,438.8" />
<polyline class="t" points="402.2,449 412.4,443.9" />
<polyline class="l" points="401.4,469.4 425,466" />
<polyline class="t" points="407.3,409.9 409,425.2" />
<path class="l" d="M425 381C423.5 383 418 388.7 415.8 392.9C413.6 397.2 412.4 401.1 411.6 406.5C410.8 411.9 410.8 418.7 411 425.2C411.3 431.7 411.9 439.9 413.3 445.6C414.6 451.3 417.3 455.8 419.2 459.2C421.2 462.6 424 464.9 425 466" />
<path class="t" d="M425 388.7C424 390.2 420.7 394.5 419.2 398C417.7 401.5 416.4 405.4 415.8 409.9C415.2 414.4 415.2 419.8 415.5 425.2C415.8 430.6 416.3 437.4 417.5 442.2C418.7 447 421.8 452.1 422.6 454.1" />
<path class="l" d="M325.1 358.4C325.4 356.1 325.2 351 327.1 344.8C329.1 338.6 332.5 328 337 321C341.5 314 347.5 307.5 354 302.6C360.5 297.8 372.4 293.9 376.1 292.1" />
<polyline class="l" points="376.1,292.1 377,288.4 386.3,289.6 394.8,293.8 394.8,299.8" />
<polyline class="t" points="374.4,293 391.4,299.8" />
<path class="l" d="M325.1 358.4C325.1 357 324.5 351.7 325.1 349.9C325.7 348.1 327.2 347.4 328.5 347.4C329.8 347.4 332 349.5 332.8 349.9" />
<path class="l" d="M393.4 302.3C393 300.3 390.8 294.1 390.6 290.4C390.4 286.7 391.1 283.6 392.3 280.2C393.4 276.8 396.5 271.7 397.4 270" />
<polyline class="b" points="391.1,292.1 392.8,304" />
<polyline class="t" points="392.3,282.8 394.8,281.9" />
<polyline class="l" points="343.8,349.9 351.5,341.4 352,327 371,308.8 373,312.5 357.1,328.1 355.4,338 347.2,349.9" />
<polyline class="t" points="352,327 354.9,324.4 357.1,328.1" />
<ellipse class="l" cx="364.5" cy="320.2" rx="0.8" ry="0.8" />
<ellipse class="l" cx="360.8" cy="323.6" rx="0.8" ry="0.8" />
<polyline class="t" points="356.6,327 371,310" />
<polyline class="l" points="374.1,328.7 379.5,323 387.2,326.4" />
<polyline class="l" points="374.1,328.7 374.4,333.8 402.5,349.9 403.3,344.8 376.1,329.5" />
<polyline class="l" points="402.5,349.9 410.1,348.5 418.6,343.1 418.6,335.5" />
<polyline class="l" points="403.3,344.8 403.3,334.6 410.1,332.1 417.8,335.5 410.1,339.7 403.3,337.2" />
<polyline class="t" points="410.1,339.7 410.1,348.5" />
<polyline class="t" points="377.8,327.8 379.5,326.1 399.9,338" />
<polyline class="l" points="385.5,321 386.3,312.5 391.4,306.6 395.7,304 408.4,299.2 415.2,302.3" />
<polygon class="w" points="376.1,307.4 378.7,304.9 387.2,306.6 388,311.7 384.6,314.5 377,312.5" />
<polyline class="t" points="387.2,306.6 394.8,304" />
<polyline class="l" points="385.5,321 388,329.5 394.8,334.6 399.9,335.5" />
<polyline class="t" points="388,312.5 399.9,319.3 399.9,335.5" />
<ellipse class="w" cx="389.7" cy="304" rx="2.6" ry="2.2" />
<ellipse class="l" cx="389.7" cy="304" rx="1.3" ry="1.1" />
<ellipse class="w" cx="397.4" cy="301.5" rx="2.4" ry="2" />
<ellipse class="l" cx="397.4" cy="301.5" rx="1.2" ry="1" style="fill:#000"/>
<ellipse class="w" cx="405" cy="304" rx="2.4" ry="2" />
<ellipse class="l" cx="405" cy="304" rx="1.2" ry="1" style="fill:#000"/>
<ellipse class="w" cx="399.9" cy="312.5" rx="2.4" ry="2" />
<ellipse class="l" cx="399.9" cy="312.5" rx="1.2" ry="1" style="fill:#000"/>
<ellipse class="w" cx="407.6" cy="310" rx="2.2" ry="1.9" />
<ellipse class="l" cx="407.6" cy="310" rx="1.1" ry="0.9" style="fill:#000"/>
<ellipse class="w" cx="388.9" cy="321" rx="2.8" ry="2.4" />
<ellipse class="l" cx="388.9" cy="321" rx="1.4" ry="1.2" />
<ellipse class="w" cx="390.6" cy="333.8" rx="2.6" ry="2.2" />
<ellipse class="l" cx="390.6" cy="333.8" rx="1.3" ry="1.1" />
<ellipse class="w" cx="397.4" cy="329.5" rx="3" ry="2.5" />
<ellipse class="l" cx="397.4" cy="329.5" rx="1.5" ry="1.3" />
<ellipse class="w" cx="405" cy="326.1" rx="2.6" ry="2.2" />
<ellipse class="l" cx="405" cy="326.1" rx="1.3" ry="1.1" />
<ellipse class="w" cx="412.7" cy="312.5" rx="2.2" ry="1.9" />
<ellipse class="l" cx="412.7" cy="312.5" rx="1.1" ry="0.9" style="fill:#000"/>
<ellipse class="w" cx="415.2" cy="319.3" rx="2.2" ry="1.9" />
<ellipse class="l" cx="415.2" cy="319.3" rx="1.1" ry="0.9" style="fill:#000"/>
<ellipse class="w" cx="406.7" cy="318.5" rx="2" ry="1.7" />
<ellipse class="l" cx="406.7" cy="318.5" rx="1" ry="0.8" style="fill:#000"/>
<ellipse class="w" cx="383.8" cy="325.3" rx="1.8" ry="1.5" />
<ellipse class="l" cx="383.8" cy="325.3" rx="0.9" ry="0.8" style="fill:#000"/>
<polyline class="b" points="401.6,322.7 405,328.7 408.4,322.7" />
<polyline class="b" points="391.4,314.2 394.8,326.1" />
<path class="l" d="M398.2 372.9C403.3 371.9 420.9 369.9 428.8 366.9C436.7 363.9 441.4 357.8 445.8 355C450.2 352.2 453.5 350.8 455 349.9" />
<polyline class="l" points="428.8,366.9 432.2,375.4 434.8,382.2" />
<path class="t" d="M430.5 371.2C431.9 370.2 435.9 367.3 439 365.2C442.1 363.1 447.5 359.5 449.2 358.4" />
<polyline class="l" points="398.2,372.9 399.1,395.8 406.7,399.2 407.6,416.2" />
<path class="t" d="M407.6 399.2C408.8 398.1 411.7 395.8 415.2 392.4C418.7 389 425.5 380.5 428.8 378.8C432.1 377.1 433.8 381.6 434.8 382.2" />
<path class="t" d="M407.6 416.2C408.3 417.3 410.5 419 411.8 423C413.1 427 414.6 437.2 415.2 440" />
<path class="l" d="M400 265C401.3 264.7 404 262.2 408 263C412 263.8 421.2 266.8 424 270C426.8 273.2 424.8 280 425 282" />
<polygon class="w" points="436,275 461,260 482,272 456,288" />
<polyline class="t" points="438,277 457,289 481,274" />
<ellipse class="l" cx="467.6" cy="269.6" rx="4" ry="2.6" transform="rotate(15 467.6 269.6)" />
<ellipse class="t" cx="467.6" cy="270" rx="2.8" ry="1.7" transform="rotate(15 467.6 270)" />
<ellipse class="l" cx="438" cy="275" rx="1.1" ry="0.9" />
<ellipse class="l" cx="460.6" cy="261.6" rx="1.1" ry="0.9" />
<ellipse class="l" cx="454.4" cy="286" rx="1.1" ry="0.9" />
<ellipse class="l" cx="479.6" cy="272" rx="1.1" ry="0.9" />
<path class="l" d="M424 283C424.5 280.8 425.3 279 427 278C428.7 277 432.3 276.7 434 277C435.7 277.3 436.5 278 437 280C437.5 282 438.2 286.8 437 289C435.8 291.2 432.2 292.7 430 293C427.8 293.3 425 292.7 424 291C423 289.3 423.5 285.2 424 283Z" />
<ellipse class="l" cx="431" cy="280" rx="3" ry="2.2" />
<ellipse class="l" cx="431" cy="284.4" rx="1.6" ry="1.6" />
<polyline class="t" points="425,290 430,293 444,284" />
<polygon class="l" points="456,288 482,272 482,300 466,297" />
<polyline class="l" points="456,291 480,303 488,308 488,300" />
<polyline class="t" points="466,297 488,310" />
<polyline class="t" points="479.6,274 480,300" />
<path class="l" d="M482 272C482.7 268.4 486 268.9 488 268.4C490 267.9 491 267.1 494 269C497 270.9 505.3 275.5 506 280C506.7 284.5 500.3 293 498 296C495.7 299 494.3 299 492 298C489.7 297 485.7 294.3 484 290C482.3 285.7 481.3 275.6 482 272Z" />
<ellipse class="l" cx="492.4" cy="280.6" rx="2.8" ry="3.6" transform="rotate(25 492.4 280.6)" />
<path class="l" d="M498 296C497.7 293.2 503.7 286.3 506 284C508.3 281.7 509 281.5 512 282C515 282.5 521.3 285.2 524 287C526.7 288.8 527.7 289.8 528 293C528.3 296.2 527 303.5 526 306C525 308.5 525 308.8 522 308C519 307.2 512 303 508 301C504 299 498.3 298.8 498 296Z" />
<ellipse class="l" cx="512.6" cy="292" rx="2.2" ry="3.4" transform="rotate(20 512.6 292)" />
<ellipse class="l" cx="522.4" cy="297.6" rx="2.2" ry="3.4" transform="rotate(20 522.4 297.6)" />
<polyline class="l" points="484,290 488,300 494,310 498,308 500,300" />
<polyline class="t" points="490,304 492,311 496,310" />
<polyline class="t" points="488,290 494,295" />
<path class="l" d="M498 299C499 299.2 502.2 298.2 504 300C505.8 301.8 507.2 306 509 310C510.8 314 513.7 315.3 515 324C516.3 332.7 516.2 354.8 517 362C517.8 369.2 519.5 366.2 520 367" />
<path class="l" d="M504 306C505.2 309 509.7 317.7 511 324C512.3 330.3 511.5 337.7 512 344C512.5 350.3 513.7 359 514 362" />
<polyline class="l" points="508,301 520,308 527,314 527,330" />
<polyline class="l" points="515,324 527,330 528,336" />
<polyline class="t" points="518,310 525,316 525,329" />
<polyline class="t" points="520,334 521,362 525,370" />
<polyline class="l" points="523,336 528,338 530,376" />
<path class="l" d="M528 322C529 321.8 532.3 320.5 534 321C535.7 321.5 537.7 323.5 538 325C538.3 326.5 537.3 329 536 330C534.7 331 531 330.8 530 331" />
<ellipse class="w" cx="477.6" cy="321" rx="10.4" ry="12.6" transform="rotate(25 477.6 321)" />
<ellipse class="l" cx="478" cy="321" rx="8" ry="10.4" transform="rotate(25 478 321)" />
<path class="t" d="M464 320C464.3 321.7 465 327.7 466 330C467 332.3 469.3 333.3 470 334" />
<path class="l" d="M486 329C486.3 330.5 486.7 335.2 488 338C489.3 340.8 491.3 343.3 494 346C496.7 348.7 502.3 352.7 504 354" />
<polyline class="t" points="488,323 508,327 515,330" />
<path class="l" d="M454 330C455 329.8 458 328.3 460 329C462 329.7 465 333.2 466 334" />
<path class="t" d="M460 330C460.7 331.7 463 336.7 464 340C465 343.3 465.7 348.3 466 350" />
<polyline class="l" points="446,344 454,330" />
<path class="l" d="M400 372C403.3 371.3 414.7 369.7 420 368C425.3 366.3 428.2 364.2 432 362C435.8 359.8 441.2 356.2 443 355" />
<path class="t" d="M400 378C403.3 377.3 414.7 375.7 420 374C425.3 372.3 430 369 432 368" />
<polyline class="l" points="400,298 408,300 418,305 430,310 440,326 443,340 442,354" />
<polyline class="l" points="400,330 406,330 419,338 443,351" />
<polyline class="l" points="400,338 406,338 418,344 418,350 437,354" />
<polyline class="t" points="419,338 419,344" />
<polyline class="t" points="406,330 406,338" />
<polyline class="l" points="420,334 438,341 442,340" />
<polygon class="w" points="424,322 435,318 440,326 430,330" />
<ellipse cx="427.5" cy="324.4" rx="2.6" ry="1.3" transform="rotate(-59.5 427.5 324.4)" fill="#fff" stroke="#000" stroke-width="1.0" stroke-linejoin="round" stroke-linecap="round"/>
<polygon points="438.3,327.8 428.8,322.2 426.2,326.7 435.7,332.2" fill="#fff" stroke="none"/>
<line x1="438.3" y1="327.8" x2="428.8" y2="322.2" stroke="#000" stroke-width="1.0" stroke-linejoin="round" stroke-linecap="round"/>
<line x1="435.7" y1="332.2" x2="426.2" y2="326.7" stroke="#000" stroke-width="1.0" stroke-linejoin="round" stroke-linecap="round"/>
<ellipse cx="437" cy="330" rx="2.6" ry="1.3" transform="rotate(-59.5 437 330)" fill="#fff" stroke="#000" stroke-width="1.0" stroke-linejoin="round" stroke-linecap="round"/>
<ellipse cx="422.2" cy="311.4" rx="2.4" ry="1.2" transform="rotate(-59.5 422.2 311.4)" fill="#fff" stroke="#000" stroke-width="1.0" stroke-linejoin="round" stroke-linecap="round"/>
<polygon points="431.2,313.9 423.5,309.4 421,313.5 428.8,318.1" fill="#fff" stroke="none"/>
<line x1="431.2" y1="313.9" x2="423.5" y2="309.4" stroke="#000" stroke-width="1.0" stroke-linejoin="round" stroke-linecap="round"/>
<line x1="428.8" y1="318.1" x2="421" y2="313.5" stroke="#000" stroke-width="1.0" stroke-linejoin="round" stroke-linecap="round"/>
<ellipse cx="430" cy="316" rx="2.4" ry="1.2" transform="rotate(-59.5 430 316)" fill="#fff" stroke="#000" stroke-width="1.0" stroke-linejoin="round" stroke-linecap="round"/>
<ellipse class="w" cx="403" cy="300" rx="2.4" ry="1.9" />
<ellipse class="l" cx="403" cy="300" rx="1.1" ry="1" style="fill:#000"/>
<ellipse class="w" cx="409" cy="308" rx="2.2" ry="1.8" />
<ellipse class="l" cx="409" cy="308" rx="1" ry="0.9" style="fill:#000"/>
<ellipse class="w" cx="415" cy="313" rx="2.2" ry="1.8" />
<ellipse class="l" cx="415" cy="313" rx="1" ry="0.9" style="fill:#000"/>
<ellipse class="w" cx="422" cy="309" rx="2.2" ry="1.8" />
<ellipse class="l" cx="422" cy="309" rx="1" ry="0.9" style="fill:#000"/>
<ellipse class="w" cx="407" cy="317" rx="2.6" ry="2.1" />
<ellipse class="l" cx="407" cy="317" rx="1.2" ry="1" style="fill:#000"/>
<ellipse class="w" cx="402" cy="310" rx="2" ry="1.6" />
<ellipse class="l" cx="402" cy="310" rx="0.9" ry="0.8" style="fill:#000"/>
<ellipse class="w" cx="413" cy="322" rx="2.4" ry="1.9" />
<ellipse class="l" cx="413" cy="322" rx="1.1" ry="1" style="fill:#000"/>
<polyline class="l" points="400,304 412,310 424,318" />
<polyline class="l" points="400,316 408,320 416,326 416,334" />
<polyline class="b" points="404,324 412,329" />
<ellipse class="l" cx="451" cy="352.4" rx="2" ry="1.4" />
<ellipse class="l" cx="447" cy="356" rx="1.2" ry="1" />
<path class="l" d="M443 355C442.5 353.2 442.8 350.5 445 349C447.2 347.5 452.8 345.8 456 346C459.2 346.2 463.3 348.7 464 350C464.7 351.3 462.7 352.3 460 354C457.3 355.7 450.8 359.8 448 360C445.2 360.2 443.5 356.8 443 355Z" />
<path class="l" d="M444.3 353.7C442 356.2 435.1 362.1 430.5 368.5C425.9 374.9 420 384.6 416.7 392.1C413.4 399.7 411.7 407.6 410.8 413.8C409.8 420.1 410.2 424 411.2 429.6C412.1 435.2 414.1 442.4 416.7 447.3C419.2 452.2 424.1 456.1 426.5 459.1C429 462.2 428.5 465.1 431.5 465.4C434.4 465.8 442.1 461.8 444.3 461.1" />
<polyline class="l" points="428.5,373.4 434.4,382.3" />
<path class="l" d="M395 374.4C398.3 373.8 408.8 372.1 414.7 370.5C420.6 368.8 425.5 367.3 430.5 364.6C435.4 361.8 442 355.5 444.3 353.7" />
<polyline class="t" points="395,392.1 406.8,394.1 409.8,400" />
<path class="t" d="M431.5 465.4C430.6 466.4 429.3 471.7 426.5 471C423.7 470.2 417.3 465.4 414.7 461.1C412.1 456.8 411.4 448 410.8 445.3" />
<ellipse class="w" cx="484.3" cy="411.5" rx="60.8" ry="40.8" transform="rotate(-75 484.3 411.5)" />
<ellipse class="w" cx="484.7" cy="416.8" rx="51.1" ry="35.2" transform="rotate(-75 484.7 416.8)" />
<clipPath id="cring"><ellipse cx="484.7" cy="416.8" rx="51.1" ry="35.2" transform="rotate(-75 484.7 416.8)"/></clipPath><g clip-path="url(#cring)">
<ellipse class="l" cx="477.7" cy="415.3" rx="50" ry="34" transform="rotate(-75 477.7 415.3)" />
<ellipse class="l" cx="472.3" cy="416.2" rx="45" ry="29.7" transform="rotate(-75 472.3 416.2)" />
<ellipse class="t" cx="470.4" cy="415.8" rx="43.5" ry="28.7" transform="rotate(-75 470.4 415.8)" />
<ellipse class="l" cx="466.6" cy="415" rx="39" ry="25.7" transform="rotate(-75 466.6 415)" />
<ellipse class="t" cx="464.8" cy="414.6" rx="37.5" ry="24.8" transform="rotate(-75 464.8 414.6)" />
<ellipse class="l" cx="460.9" cy="413.8" rx="33" ry="21.8" transform="rotate(-75 460.9 413.8)" />
<ellipse class="t" cx="459.1" cy="413.4" rx="31" ry="20.5" transform="rotate(-75 459.1 413.4)" />
<ellipse class="l" cx="456.2" cy="412.8" rx="26" ry="17.2" transform="rotate(-75 456.2 412.8)" />
<ellipse class="t" cx="454.3" cy="412.4" rx="20" ry="13.2" transform="rotate(-75 454.3 412.4)" />
</g>
<polygon class="w" points="491.6,376.4 499.4,371.5 503,386.2 503,404 496.5,401 493.5,386.2" />
<polyline class="l" points="491.6,376.4 489.2,379.3 491.2,392.1 493.5,400 496.5,401" />
<ellipse class="l" cx="498.8" cy="381.3" rx="0.8" ry="1" />
<ellipse class="l" cx="499.4" cy="398.1" rx="0.8" ry="1" />
<polygon class="w" points="469.9,434.5 487.6,413.8 497.5,412.8 498.4,414.8 487.6,427.6 472.8,445.3 469.9,442.4" />
<polyline class="l" points="469.9,434.5 472.8,437.5 472.8,445.3" />
<polyline class="l" points="472.8,437.5 489.6,417.8 498.4,414.8" />
<ellipse class="l" cx="476.8" cy="436.5" rx="0.8" ry="1" />
<ellipse class="l" cx="490.6" cy="418.7" rx="0.8" ry="1" />
<polygon class="w" points="452.1,439.4 463,437.5 467.5,442.4 466.9,450.3 454.1,453.2" />
<polyline class="t" points="463,437.5 463,445.3 454.1,448.3" />
<ellipse class="l" cx="461" cy="446.3" rx="0.8" ry="1" />
<ellipse class="l" cx="469.9" cy="387.8" rx="0.8" ry="1" />
<ellipse class="l" cx="471.5" cy="398.4" rx="0.8" ry="1" />
<ellipse class="l" cx="462" cy="409.9" rx="0.8" ry="1" />
<ellipse class="l" cx="454.1" cy="421.7" rx="0.8" ry="1" />
<ellipse class="l" cx="489.6" cy="405" rx="0.8" ry="1" />
<ellipse class="l" cx="487.6" cy="409.9" rx="0.8" ry="1" />
<ellipse class="l" cx="484.3" cy="411.5" rx="60.8" ry="40.8" transform="rotate(-75 484.3 411.5)" />
<ellipse class="l" cx="484.7" cy="416.8" rx="51.1" ry="35.2" transform="rotate(-75 484.7 416.8)" />
<path class="l" d="M441.3 354.7C441.8 353.1 444.1 350.8 447.2 349.8C450.3 348.8 456.9 348.1 460 348.8C463.1 349.4 466.9 352.1 465.9 353.7C465 355.4 457.7 357.7 454.1 358.6C450.5 359.6 446.4 360.3 444.3 359.6C442.1 359 440.8 356.3 441.3 354.7Z" />
<ellipse class="l" cx="454.1" cy="353.1" rx="1.2" ry="0.9" />
<ellipse class="l" cx="447.8" cy="354.7" rx="1" ry="0.8" />
<path class="l" d="M444.3 359.6C443.9 357.5 442.3 350.9 442.3 346.8C442.3 342.7 443.9 337 444.3 335" />
<path class="l" d="M464 351.7C463.6 350.3 462 345.7 462 342.9C462 340.1 463.6 336.3 464 335" />
<path class="l" d="M481.7 346.8C482.7 346.2 485 343.2 487.6 342.9C490.2 342.6 494.5 342.9 497.5 344.9C500.4 346.8 503.4 351.4 505.3 354.7C507.3 358 508.6 362.9 509.3 364.6" />
<path class="l" d="M481.7 335C481.7 337 481 343.9 481.7 346.8C482.4 349.8 485 351.7 485.6 352.7" />
<polyline class="l" points="513.2,335 515.2,364.6 521.1,372.4" />
<polyline class="l" points="519.1,335 520.3,364.6 525,372.4" />
<line x1="522.7" y1="338.9" x2="524.1" y2="369.5" stroke="#000" stroke-width="2.2" stroke-dasharray="1 1"/>
<polyline class="l" points="526.6,335 527.4,370.5 531,377.4" />
<path class="l" d="M525 379.3C526.4 379.5 530.3 379 532.9 380.3C535.6 381.6 537.9 385.2 540.8 387.2C543.8 389.2 549 391.3 550.7 392.1" />
<path class="l" d="M526 394.1C527.2 393.8 530.6 391.8 532.9 392.1C535.2 392.5 538.5 394.4 539.8 396.1C541.1 397.7 540.6 401 540.8 402" />
<ellipse class="w" cx="545.1" cy="395.1" rx="4.2" ry="5.2" transform="rotate(25 545.1 395.1)" />
<ellipse class="l" cx="546.3" cy="395.7" rx="2.6" ry="3.4" transform="rotate(25 546.3 395.7)" />
<ellipse class="l" cx="541.8" cy="399" rx="3.6" ry="5.6" transform="rotate(25 541.8 399)" />
<path class="l" d="M540.8 404C539.5 405.6 535.9 410.5 532.9 413.8C530 417.1 525 421 523.1 423.7C521.1 426.3 520.8 427.9 521.1 429.6C521.4 431.2 523.1 433.2 525 433.5C527 433.9 531.6 427 532.9 431.6C534.2 436.1 535.6 456.7 532.9 461.1C530.3 465.5 519.8 458.6 517.2 458.2" />
<path class="l" d="M546.7 403C545.7 404.8 543.1 410.7 540.8 413.8C538.5 416.9 534.6 419.4 532.9 421.7C531.3 424 531.3 426.6 531 427.6" />
<path class="l" d="M521.1 437.5C522.4 435.7 524.9 434.5 527 434.5C529.2 434.5 532.9 434.3 533.9 437.5C534.9 440.6 535.1 450.3 532.9 453.2C530.8 456.2 523.4 456.5 521.1 455.2C518.8 453.9 519.1 448.3 519.1 445.3C519.1 442.4 519.8 439.3 521.1 437.5Z" />
<ellipse class="l" cx="531" cy="442.4" rx="0.9" ry="1.1" />
<ellipse class="l" cx="531" cy="451.3" rx="0.9" ry="1.1" />
<ellipse class="l" cx="524.1" cy="447.3" rx="0.9" ry="1.1" />
<polygon class="l" points="528,445.3 531,444.4 531.4,449.3 528.6,449.3" />
<path class="t" d="M526 384.3C525.9 389.8 526.3 410.2 525.4 417.8C524.6 425.3 521.8 427.6 521.1 429.6" />
<path class="t" d="M517.2 458.2C512.6 460.3 497.5 468.8 489.6 471C481.7 473.2 473.2 471.3 469.9 471.4" />
<polyline class="l" points="328.7,490.6 337.1,502.1 342.3,505.5 352.8,506.7 398.9,473.2 401.4,464.9" />
<polyline class="l" points="329.8,487.1 344.9,494.2 399.3,466.5" />
<polyline class="t" points="331.9,492.7 344.9,497.9 398.9,469.7" />
<polyline class="l" points="337.7,493.8 337.7,502.5" />
<polyline class="l" points="344,494.8 344,505.5" />
<polyline class="l" points="352.8,492.1 352.8,506.3" />
<polyline class="l" points="371.2,483.7 371.7,493.3" />
<polyline class="l" points="384.6,477 385.1,483.7" />
<path class="l" d="M346.1 483.7C346.7 480.7 348.3 469.4 349.7 465.5C351.1 461.6 352.8 460.4 354.5 460.3C356.1 460.1 359 461.4 359.5 464.9C360 468.3 358.5 478 357.4 481.2C356.3 484.3 353.6 483.3 352.8 483.7" />
<ellipse class="l" cx="352.8" cy="464.9" rx="2.2" ry="2.4" />
<ellipse class="l" cx="357.4" cy="482.9" rx="1.6" ry="1.8" />
<polyline class="t" points="359.1,464.9 369.6,460.3 373.8,462.3" />
<path class="l" d="M290 508.4C292.4 507.4 300.1 503.9 304.7 502.1C309.2 500.4 313.2 499.6 317.2 497.9C321.2 496.3 326.8 493.1 328.7 492.1" />
<path class="t" d="M290 514.7C292.1 513.6 298 510.5 302.6 508.4C307.1 506.3 312.7 504.2 317.2 502.1C321.8 500 327.7 496.9 329.8 495.8" />
<polyline class="t" points="305.7,502.1 305.7,472.8" />
<polyline class="l" points="317.2,497.9 317.6,489.6 327.7,485.4" />
<path class="l" d="M290 527.3C291 525.2 294.2 517.8 296.3 514.7C298.4 511.5 301.5 509.5 302.6 508.4" />
<path class="l" d="M290 479.1C290.7 479.8 292.8 480.1 294.2 483.3C295.6 486.4 298 493.8 298.4 497.9C298.7 502.1 296.6 506.7 296.3 508.4" />
<path class="t" d="M290 493.8C290.9 494.8 294.7 497.2 295.2 500C295.8 502.8 293.5 508.8 293.1 510.5" />
<path class="l" d="M402 464.9C405.7 465.3 419.5 467.8 424 467.6C428.5 467.3 427.5 463.8 429.2 463.4C431 462.9 433.3 464 434.5 464.9C435.7 465.7 436.9 467.6 436.6 468.6C436.2 469.6 433.8 470.9 432.4 470.7C431 470.5 428.9 468.1 428.2 467.6" />
<polyline class="t" points="398.9,458.2 411.4,460.3 412.5,443.5" />
<polyline class="t" points="401,452.9 410.4,457.1" />
<polygon class="w" points="117.2,449 121.5,445.8 126.6,447 130,450.1 132.5,453 158,467.4 164.8,470.8 165.7,474.5 160.6,478.5 158,476.8 160,486.1 164.8,501.4 171.3,518.4 173.3,528.6 175,549 174.5,564.3 171.3,576.2 169.9,588.1 163.1,594.1 149.5,589 147.8,574.5 132.5,565.2 128.3,566 126.6,575.4 112.1,566 111.3,552.4 107.9,540.5 98.2,521.8 96.8,501.4 97.1,470.8 99.4,464 105.3,460.9 115.5,460.3" />
<polyline class="l" points="115.5,460.3 119.8,455.2 131.7,462.3 158,476.8" />
<polyline class="l" points="119.8,455.2 117.2,449" />
<polyline class="t" points="126.6,447 132.5,453" />
<path class="l" d="M103.3 469.4C102.6 471.9 102.1 476.2 102.2 481C102.4 485.8 103.2 492.3 103.9 498C104.7 503.7 105.4 509.3 106.7 515C108 520.7 109 526.7 111.8 532C114.6 537.3 118.6 541.8 123.5 547C128.4 552.1 135.7 559.3 141 562.9C146.3 566.5 151.2 567.9 155.5 568.6C159.7 569.2 163.9 568.4 166.5 566.9C169.1 565.3 170.3 562.5 171.3 559.2C172.3 555.9 172.5 551.8 172.5 547.3C172.5 542.8 172.1 536.8 171.3 532C170.4 527.2 169 522.9 167.4 518.4C165.7 513.9 163.4 508.8 161.4 504.8C159.4 500.8 157.3 497.3 155.5 494.6C153.6 491.9 152.8 490.4 150.4 488.7C147.9 487 145.4 486.8 141 484.4C136.6 482.1 129.1 477.5 124 474.5C118.9 471.6 113.4 467.9 110.4 466.6C107.4 465.2 107.3 466.1 106.2 466.6C105 467 103.9 467 103.3 469.4Z" />
<path class="t" d="M106.7 481C106.9 483.8 107.2 492.3 107.9 498C108.5 503.7 109.1 509.6 110.4 515C111.7 520.4 112.8 525.6 115.5 530.3C118.2 535 122 538.5 126.6 543.1C131.1 547.6 137.7 554 142.7 557.5C147.7 561 152.2 563.5 156.3 564.3C160.4 565.2 165.5 562.9 167.4 562.6" />
<path class="l" d="M106.2 481C108.2 479 116.1 474.4 118.9 473.4C121.7 472.3 122.4 473.7 123.2 474.5C123.9 475.4 125.8 476.5 123.7 478.5C121.5 480.4 113.2 485.3 110.4 486.4C107.6 487.6 107.4 486.2 106.7 485.3C106 484.3 104.1 483 106.2 481Z" />
<ellipse class="t" cx="108.4" cy="483" rx="2.6" ry="3.6" transform="rotate(30 108.4 483)" />
<circle class="t" cx="122.3" cy="455.2" r="1.4" />
<circle class="t" cx="137.3" cy="467.7" r="1.4" />
<circle class="t" cx="156.3" cy="479" r="1.4" />
<circle class="t" cx="98.5" cy="488.7" r="1.4" />
<circle class="t" cx="98.5" cy="508.5" r="1.4" />
<circle class="t" cx="98.5" cy="513.3" r="1.4" />
<circle class="t" cx="111.3" cy="496" r="1.4" />
<circle class="t" cx="114.3" cy="551" r="1.4" />
<circle class="t" cx="115.5" cy="563.5" r="1.4" />
<circle class="t" cx="160.6" cy="577.6" r="1.4" />
<circle class="t" cx="160" cy="589.5" r="1.4" />
<circle class="t" cx="174.7" cy="523.2" r="1.4" />
<circle class="t" cx="171.3" cy="571.4" r="1.4" />
<polyline class="t" points="112.1,518.4 133.4,506.2" />
<polyline class="t" points="115.5,527.2 141,512.5" />
<polyline class="t" points="118.1,532 144.4,516.7" />
<polyline class="t" points="123.2,542.2 155.5,525.2" />
<polyline class="t" points="126.6,547.6 169.9,526.1" />
<polyline class="t" points="130.8,551.6 171.6,532" />
<polyline class="t" points="146.1,561.2 171.6,547.3" />
<polyline class="l" points="118.1,493.2 118.1,511.6 112.1,518.4" />
<polyline class="l" points="118.1,493.2 124.9,489.5 139.3,484.1" />
<polyline class="t" points="120.9,495.5 120.9,513.3 126.6,518.4 126.6,525.2" />
<polyline class="l" points="124.9,489.5 124.9,492.1 133.4,493.2 135.9,494.6 135.9,506.5 133.4,506.2" />
<polyline class="t" points="133.4,493.2 133.4,506.2" />
<polyline class="t" points="126.6,490.4 130,487.8 134.5,488.7 134.5,491.5" />
<path class="l" d="M144.1 486.1C143.9 488.1 142.8 493.8 143 498C143.2 502.3 143.8 506.8 145.3 511.6C146.8 516.4 149.4 522.7 152.1 526.9C154.7 531.2 158.4 534.7 161.4 537.1C164.4 539.5 168.5 540.6 169.9 541.4" />
<path class="t" d="M146.1 487C146 488.8 145.1 494 145.4 498C145.7 502 146.3 506.2 147.8 510.8C149.3 515.3 151.7 521.2 154.3 525.2C156.8 529.2 160.3 532.3 163.1 534.6C165.9 536.8 169.9 538.1 171.3 538.8" />
<path class="l" d="M153.8 495.5C153.7 497 152.8 501.3 153.2 504.8C153.7 508.3 155 513 156.6 516.7C158.3 520.4 160.9 524.4 163.1 526.9C165.3 529.5 168.8 531.2 169.9 532" />
<path class="t" d="M156 497.2C155.9 498.6 155.1 502.5 155.6 505.7C156.1 508.8 157.3 512.6 158.9 515.9C160.4 519.1 162.8 522.9 164.8 525.2C166.8 527.5 169.8 528.7 170.8 529.5" />
<polyline class="t" points="148.7,501.4 149.8,502.3 149.5,504.8" />
<path class="l" d="M165.7 474.5C166.4 476.6 168.3 481.9 169.9 487C171.5 492 173.7 499 175 504.8C176.3 510.6 176.9 516.1 177.6 521.8C178.2 527.5 178.8 532.6 178.9 538.8C179.1 545 179.1 553 178.4 559.2C177.8 565.4 175.6 573.4 175 576.2" />
<polyline class="t" points="175,521.8 178.4,522.7" />
<polyline class="t" points="174.5,564.3 178.1,566" />
<path class="t" d="M149.5 491.2C149.4 492.9 148.4 497.7 148.7 501.4C148.9 505.1 149.7 509.1 151.2 513.3C152.7 517.6 155.3 523.2 157.7 526.9C160.1 530.6 163.3 533.8 165.7 535.7C168 537.7 170.6 538.3 171.6 538.8" />
<path class="t" d="M158 498C158 499.4 157.5 503.5 158 506.5C158.5 509.5 159.6 512.9 161.1 515.9C162.5 518.8 164.8 522.4 166.5 524.4C168.2 526.3 170.5 527.2 171.3 527.8" />
<path class="t" d="M100.2 466.6C101.2 466.1 103.6 464.6 106.2 464C108.7 463.4 113.9 463.3 115.5 463.2" />
<path class="t" d="M99.4 474.2C99.4 478.2 99.4 491.2 99.9 498C100.3 504.8 100.7 509.6 101.9 515C103.1 520.4 106.2 527.8 107 530.3" />
<path class="t" d="M111.8 532C112.4 533.4 113 537.7 115.5 540.5C118 543.3 122.3 545 126.6 549C130.8 553 138.6 561.8 141 564.3" />
<polyline class="t" points="107,492.9 118.1,493.2" />
<polyline class="l" points="142.7,485.3 144.1,486.1" />
<polyline class="t" points="128.3,566 126.6,559.2 112.1,549.9" />
<polyline class="t" points="147.8,574.5 148.7,571.1 132.5,560.9 128.3,560.9" />
<polyline class="t" points="149.5,589 152.1,583 167.4,586.4 169.9,588.1" />
<polyline class="t" points="152.1,583 150.4,574.5" />
<polyline class="t" points="97.1,521.8 101.9,532 107.9,540.5" />
<polyline class="t" points="98.2,525.2 100.2,530.3 103.6,533.7" />
<path class="l" d="M132.5 451.3C134.8 451.6 140.4 453.5 146.1 453.3C151.8 453.1 161.3 450.5 166.5 450.1C171.7 449.6 175.7 450.6 177.6 450.7" />
<path class="t" d="M141 457.2C143.3 457.3 149.8 458.3 154.6 458.1C159.4 457.8 165.9 455.9 169.9 455.5C173.9 455.1 177 455.5 178.4 455.5" />
<path class="l" d="M167.4 464.9C171.5 465.2 185.1 465.6 192 467.1C198.9 468.5 204.9 471.8 209 473.4C213.1 474.9 214.7 475 216.7 476.2C218.6 477.5 220.2 480.2 220.9 481" />
<path class="t" d="M173.3 472.5C176.4 472.8 186.1 473.4 192 474.5C198 475.7 204.8 477.9 209 479.3C213.3 480.7 216.1 482.1 217.5 482.7" />
<polygon class="w" points="155.5,464 158.9,460.6 164,462.3 166.5,465.7 164.8,470 159.7,468.3" />
<ellipse class="l" cx="160.6" cy="464.5" rx="2.6" ry="2" />
<ellipse class="t" cx="160.6" cy="464.5" rx="1.4" ry="1" />
<polyline class="l" points="165.7,474.5 169.9,481 175,475.9 179.3,474.5 182.7,481 194,505.7" />
<polyline class="l" points="169.9,481 178.4,486.1 187.8,509.9" />
<polyline class="t" points="175,475.9 178.4,486.1" />
<polyline class="t" points="164.8,501.4 169.9,509.9 171.6,518.4" />
<polygon class="w" points="175,515.9 195.4,506.5 200.5,509.6 201.7,520.1 182.7,531.7 178.7,529.5 175,521.8" />
<polyline class="l" points="178.7,529.5 178.7,520.1 200.5,509.6" />
<polyline class="t" points="177.6,514.2 193.7,506.8" />
<polyline class="t" points="180.1,511.6 192,506.2 194,505.7" />
<ellipse class="l" cx="186.1" cy="526.6" rx="2.2" ry="2.6" />
<ellipse class="l" cx="196.8" cy="521.3" rx="2.2" ry="2.6" />
<ellipse class="t" cx="186.1" cy="526.6" rx="1.1" ry="1.3" />
<ellipse class="t" cx="196.8" cy="521.3" rx="1.1" ry="1.3" />
<ellipse class="t" cx="189.1" cy="513.6" rx="1.6" ry="1" transform="rotate(-25 189.1 513.6)" />
<polyline class="l" points="190.3,532.3 198.8,528.9 209,521.8 220.1,514.2 225,517" />
<polyline class="l" points="190.3,532.3 189.5,547.3 185.2,549 182.7,564.3" />
<polyline class="t" points="192.9,534.6 200.5,531.2 210.7,524.4 220.9,517.6" />
<polyline class="t" points="192.9,534.6 192.3,545.6" />
<polyline class="l" points="207.3,527.8 208.2,536.3 214.1,532.9 213.8,525.2" />
<ellipse class="l" cx="211.6" cy="532" rx="1.8" ry="2.2" />
<ellipse class="l" cx="211.6" cy="559.2" rx="2.4" ry="2.8" />
<ellipse class="t" cx="211.6" cy="559.2" rx="1.2" ry="1.5" />
<polyline class="t" points="207.3,555.8 209,564.3 215.8,560.9 215.5,554.1" />
<polyline class="t" points="175,549 182.7,552.4 189.5,547.3" />
<polyline class="t" points="185.2,549 195.4,547.3 196.3,555.8" />
<polygon class="w" points="182.7,564.3 200.5,556.7 201.7,566 192,574.5 185.2,575.4 182.7,574.5" />
<polyline class="l" points="186.9,559.2 187.8,549 195.4,547.3 196.3,556.7" />
<polyline class="t" points="189.5,558.4 190,551.6 193.7,550.4 194,557.2" />
<ellipse class="l" cx="186.1" cy="569.7" rx="2.2" ry="2.6" />
<ellipse class="l" cx="196.8" cy="564.3" rx="2.2" ry="2.6" />
<ellipse class="t" cx="186.1" cy="569.7" rx="1.1" ry="1.3" />
<ellipse class="t" cx="196.8" cy="564.3" rx="1.1" ry="1.3" />
<polyline class="t" points="191.2,562.6 191.7,572.8 198.8,569.4" />
<polyline class="l" points="171.3,576.2 178.4,559.2 182.7,564.3" />
<polyline class="t" points="169.9,588.1 185.2,577.9" />
<path class="l" d="M185.2 575.4C186.9 575.8 191.4 576.1 195.4 577.9C199.4 579.8 206.2 584.3 209 586.4C211.8 588.5 211.8 590 212.4 590.7" />
<polyline class="b" points="192,574.5 207.3,583" />
<ellipse class="w" cx="217.8" cy="580.5" rx="8.2" ry="9.6" transform="rotate(20 217.8 580.5)" />
<ellipse class="l" cx="218.9" cy="581" rx="6.6" ry="8" transform="rotate(20 218.9 581)" />
<ellipse class="l" cx="219.5" cy="581.6" rx="5" ry="6.4" transform="rotate(20 219.5 581.6)" />
<path class="l" d="M209 572.8C209.6 572.2 210.7 569.8 212.4 569.4C214.1 569 218.1 570.1 219.2 570.3" />
<polyline class="l" points="201.7,566 209,572.8" />
<path class="l" d="M269.5 624 L273 618 L350.2 573.2 L326.7 536 L359.7 567.7 L442.4 520.3 L449 520.3" />
</g>
<g id="diff">
<ellipse class="w" cx="626.5" cy="513.5" rx="37" ry="25.2" transform="rotate(60.1 626.5 513.5)" />
<ellipse class="w" cx="623.7" cy="515.1" rx="37" ry="25.2" transform="rotate(60.1 623.7 515.1)" />
<ellipse class="t" cx="623.7" cy="515.1" rx="30.5" ry="20.7" transform="rotate(60.1 623.7 515.1)" />
<ellipse class="l" cx="623.7" cy="515.1" rx="28.8" ry="19.6" transform="rotate(60.1 623.7 515.1)" />
<ellipse class="l" cx="633.9" cy="546.3" rx="1.5" ry="1.9" transform="rotate(20 633.9 546.3)" />
<ellipse class="l" cx="642.7" cy="542.7" rx="1.5" ry="1.9" transform="rotate(20 642.7 542.7)" />
<ellipse class="l" cx="648.3" cy="534.2" rx="1.5" ry="1.9" transform="rotate(20 648.3 534.2)" />
<ellipse class="l" cx="649.2" cy="519.4" rx="1.5" ry="1.9" transform="rotate(20 649.2 519.4)" />
<ellipse class="l" cx="640.8" cy="499.5" rx="1.5" ry="1.9" transform="rotate(20 640.8 499.5)" />
<ellipse class="l" cx="624.5" cy="485.8" rx="1.5" ry="1.9" transform="rotate(20 624.5 485.8)" />
<ellipse class="l" cx="609.9" cy="484.6" rx="1.5" ry="1.9" transform="rotate(20 609.9 484.6)" />
<ellipse class="l" cx="601.5" cy="491.2" rx="1.5" ry="1.9" transform="rotate(20 601.5 491.2)" />
<ellipse cx="622.4" cy="518.3" rx="25.3" ry="17.2" transform="rotate(60.1 622.4 518.3)" fill="#fff" stroke="#000" stroke-width="1.0" stroke-linejoin="round" stroke-linecap="round"/>
<polygon points="615.9,551.2 635,540.3 609.8,496.4 590.7,507.4" fill="#fff" stroke="none"/>
<line x1="615.9" y1="551.2" x2="635" y2="540.3" stroke="#000" stroke-width="1.0" stroke-linejoin="round" stroke-linecap="round"/>
<line x1="590.7" y1="507.4" x2="609.8" y2="496.4" stroke="#000" stroke-width="1.0" stroke-linejoin="round" stroke-linecap="round"/>
<ellipse cx="603.3" cy="529.3" rx="25.3" ry="17.2" transform="rotate(60.1 603.3 529.3)" fill="#fff" stroke="#000" stroke-width="1.0" stroke-linejoin="round" stroke-linecap="round"/>
<ellipse class="t" cx="603.3" cy="529.3" rx="23.3" ry="15.8" transform="rotate(60.1 603.3 529.3)" />
<ellipse cx="602" cy="530" rx="21.3" ry="14.5" transform="rotate(60.1 602 530)" fill="#fff" stroke="#000" stroke-width="1.0" stroke-linejoin="round" stroke-linecap="round"/>
<polygon points="610,550 612.6,548.5 591.4,511.6 588.8,513.1" fill="#fff" stroke="none"/>
<line x1="610" y1="550" x2="612.6" y2="548.5" stroke="#000" stroke-width="1.0" stroke-linejoin="round" stroke-linecap="round"/>
<line x1="588.8" y1="513.1" x2="591.4" y2="511.6" stroke="#000" stroke-width="1.0" stroke-linejoin="round" stroke-linecap="round"/>
<ellipse cx="599.4" cy="531.5" rx="21.3" ry="14.5" transform="rotate(60.1 599.4 531.5)" fill="#fff" stroke="#000" stroke-width="1.0" stroke-linejoin="round" stroke-linecap="round"/>
<ellipse class="t" cx="599.4" cy="531.5" rx="19" ry="12.9" transform="rotate(60.1 599.4 531.5)" />
<ellipse cx="598.8" cy="530.8" rx="13.2" ry="9.5" transform="rotate(60.1 598.8 530.8)" fill="#fff" stroke="#000" stroke-width="1.0" stroke-linejoin="round" stroke-linecap="round"/>
<polygon points="597.6,546.7 605.4,542.3 592.2,519.4 584.4,523.9" fill="#fff" stroke="none"/>
<line x1="597.6" y1="546.7" x2="605.4" y2="542.3" stroke="#000" stroke-width="1.0" stroke-linejoin="round" stroke-linecap="round"/>
<line x1="584.4" y1="523.9" x2="592.2" y2="519.4" stroke="#000" stroke-width="1.0" stroke-linejoin="round" stroke-linecap="round"/>
<ellipse cx="591" cy="535.3" rx="13.2" ry="9.5" transform="rotate(60.1 591 535.3)" fill="#fff" stroke="#000" stroke-width="1.0" stroke-linejoin="round" stroke-linecap="round"/>
<ellipse class="l" cx="591" cy="535.3" rx="10.6" ry="7.6" transform="rotate(60.1 591 535.3)" />
<polyline class="t" points="590.2,524.1 589,524.4 587.9,524.9 586.9,525.6 586.1,526.5 585.5,527.6 585,528.9 584.8,530.2 584.7,531.7 584.9,533.3 585.2,534.8 585.8,536.4 586.6,537.9 587.5,539.2 588.5,540.5 589.7,541.6 590.9,542.5 592.2,543.2 593.6,543.7 594.9,544 596.1,544 597.3,543.7 598.4,543.2 599.4,542.5 600.2,541.6" />
<ellipse class="l" cx="612.6" cy="498.5" rx="4.6" ry="2.4" transform="rotate(-15 612.6 498.5)" />
<ellipse class="t" cx="612.6" cy="499" rx="3.6" ry="1.6" transform="rotate(-15 612.6 499)" />
<polygon class="l" points="616.3,513.6 626.1,507.5 629.2,512.4 619.6,519.2" />
<polygon class="t" points="618.3,514.3 625.7,509.6 627.3,512.4 620.3,517.3" />
<ellipse class="l" cx="633.9" cy="528.1" rx="2.6" ry="4.6" transform="rotate(25 633.9 528.1)" />
<ellipse class="t" cx="633.4" cy="528.3" rx="1.7" ry="3.6" transform="rotate(25 633.4 528.3)" />
<polyline class="l" points="624.3,543.8 624.9,541.4 633.5,535.8 633.9,538.6 626.7,543.8" />
<ellipse class="t" cx="593.2" cy="510.3" rx="0.9" ry="1.4" />
</g>
<g id="clutch">
<defs><pattern id="xh" width="2.3" height="2.3" patternUnits="userSpaceOnUse" patternTransform="rotate(38)"><rect width="2.3" height="2.3" fill="#fff"/><path d="M0 0.5H2.3M0.5 0V2.3" stroke="#000" stroke-width="1.0"/></pattern></defs>
<polygon class="w" points="743.1,564.7 743.7,564.3 744.3,563.9 744.8,563.5 745.4,563.1 745.9,562.6 746.4,562.1 746.8,561.5 748.4,562.3 748.9,561.7 749.3,561 749.7,560.3 750,559.6 749.1,557.7 749.4,557 749.7,556.2 749.9,555.5 750.1,554.7 750.3,553.9 750.5,553 750.6,552.2 750.7,551.3 750.8,550.4 750.8,549.6 750.8,548.6 750.8,547.7 752.1,547.3 752.1,546.3 752,545.3 751.8,544.3 751.7,543.2 750.2,542 750,541 749.8,540 749.5,539 749.2,538.1 748.9,537.1 748.6,536.1 748.2,535.1 747.8,534.1 747.4,533.2 747,532.2 746.5,531.2 746.1,530.3 746.6,528.8 746.1,527.8 745.5,526.9 744.9,525.9 744.3,525 742.8,524.8 742.2,524 741.5,523.1 740.9,522.3 740.2,521.5 739.5,520.7 738.8,520 738.1,519.2 737.4,518.5 736.7,517.8 735.9,517.2 735.2,516.5 734.4,515.9 734,514 733.1,513.4 732.3,512.8 731.5,512.3 730.6,511.8 729.7,512.8 728.9,512.4 728.1,512 727.3,511.7 726.5,511.4 725.7,511.1 724.9,510.8 724.1,510.6 723.3,510.4 722.6,510.3 721.8,510.2 721,510.1 720.3,510.1 719,508.4 718.2,508.4 717.5,508.5 716.7,508.6 716,508.7 715.9,510.5 715.3,510.7 714.6,510.9 714,511.2 713.4,511.5 712.7,511.8 712.2,512.2 711.6,512.6 711,513 710.5,513.4 710,513.9 709.5,514.4 709.1,515 707.5,514.2 707,514.8 706.6,515.5 706.2,516.2 705.9,516.9 706.8,518.8 706.5,519.5 706.2,520.3 706,521 705.8,521.8 705.6,522.6 705.4,523.5 705.3,524.3 705.2,525.2 705.1,526.1 705.1,527 705.1,527.9 705.1,528.8 703.8,529.2 703.8,530.2 703.9,531.2 704,532.2 704.2,533.3 705.7,534.5 705.9,535.5 706.1,536.5 706.4,537.5 706.7,538.5 707,539.4 707.3,540.4 707.7,541.4 708,542.4 708.5,543.3 708.9,544.3 709.3,545.3 709.8,546.2 709.3,547.7 709.8,548.7 710.4,549.6 711,550.6 711.6,551.5 713.1,551.7 713.7,552.5 714.4,553.4 715,554.2 715.7,555 716.4,555.8 717.1,556.5 717.8,557.3 718.5,558 719.2,558.7 720,559.4 720.7,560 721.5,560.6 721.9,562.5 722.7,563.1 723.6,563.7 724.4,564.2 725.2,564.7 726.2,563.7 727,564.1 727.8,564.5 728.6,564.8 729.4,565.1 730.2,565.4 731,565.7 731.8,565.9 732.6,566.1 733.3,566.2 734.1,566.3 734.9,566.4 735.6,566.5 736.9,568.1 737.7,568.1 738.4,568 739.2,567.9 739.9,567.8 739.9,566 740.6,565.8 741.3,565.6 741.9,565.3 742.5,565" />
<polygon class="w" points="741,565.9 741.6,565.6 742.1,565.2 742.7,564.8 743.2,564.3 743.7,563.8 744.2,563.3 744.7,562.8 746.2,563.6 746.7,562.9 747.1,562.3 747.5,561.6 747.8,560.8 746.9,559 747.2,558.2 747.5,557.5 747.7,556.7 747.9,555.9 748.1,555.1 748.3,554.3 748.4,553.4 748.5,552.6 748.6,551.7 748.6,550.8 748.7,549.9 748.7,549 750,548.5 749.9,547.5 749.8,546.5 749.7,545.5 749.5,544.5 748,543.2 747.8,542.3 747.6,541.3 747.3,540.3 747.1,539.3 746.7,538.3 746.4,537.3 746.1,536.4 745.7,535.4 745.3,534.4 744.8,533.4 744.4,532.5 743.9,531.5 744.4,530.1 743.9,529.1 743.3,528.1 742.7,527.2 742.1,526.2 740.6,526.1 740,525.2 739.4,524.4 738.7,523.6 738,522.8 737.4,522 736.7,521.2 735.9,520.5 735.2,519.8 734.5,519.1 733.7,518.4 733,517.8 732.2,517.1 731.8,515.2 731,514.6 730.1,514.1 729.3,513.5 728.5,513 727.5,514.1 726.7,513.6 725.9,513.3 725.1,512.9 724.3,512.6 723.5,512.3 722.7,512.1 722,511.9 721.2,511.7 720.4,511.5 719.6,511.4 718.9,511.3 718.1,511.3 716.9,509.6 716.1,509.6 715.3,509.7 714.5,509.8 713.8,509.9 713.8,511.8 713.1,511.9 712.5,512.2 711.8,512.4 711.2,512.7 710.6,513.1 710,513.4 709.4,513.8 708.9,514.2 708.3,514.7 707.8,515.2 707.4,515.7 706.9,516.2 705.3,515.5 704.9,516.1 704.5,516.7 704.1,517.4 703.7,518.2 704.6,520 704.3,520.8 704.1,521.5 703.8,522.3 703.6,523.1 703.4,523.9 703.3,524.7 703.1,525.6 703,526.4 703,527.3 702.9,528.2 702.9,529.1 702.9,530 701.6,530.5 701.7,531.5 701.8,532.5 701.9,533.5 702,534.5 703.5,535.8 703.7,536.7 704,537.7 704.2,538.7 704.5,539.7 704.8,540.7 705.1,541.7 705.5,542.6 705.9,543.6 706.3,544.6 706.7,545.6 707.2,546.5 707.6,547.5 707.1,548.9 707.7,549.9 708.2,550.9 708.8,551.8 709.4,552.8 710.9,552.9 711.6,553.8 712.2,554.6 712.9,555.4 713.5,556.2 714.2,557 714.9,557.8 715.6,558.5 716.3,559.2 717.1,559.9 717.8,560.6 718.6,561.2 719.3,561.9 719.8,563.8 720.6,564.4 721.4,564.9 722.2,565.5 723.1,566 724,564.9 724.8,565.4 725.6,565.7 726.4,566.1 727.2,566.4 728,566.7 728.8,566.9 729.6,567.1 730.4,567.3 731.2,567.5 731.9,567.6 732.7,567.7 733.5,567.7 734.7,569.4 735.5,569.4 736.3,569.3 737,569.2 737.8,569.1 737.8,567.3 738.4,567.1 739.1,566.8 739.7,566.6 740.4,566.3" />
<polyline class="t" points="735.2,566.3 737.8,565.4 740.1,564 742.1,562 743.7,559.6 744.9,556.8 745.6,553.6 745.9,550.1 745.7,546.4 745,542.5 743.9,538.6 742.4,534.8 740.5,531.1 738.2,527.5 735.6,524.3 732.8,521.4 729.9,518.9 726.8,516.8 723.6,515.3 720.5,514.3 717.4,513.9 714.5,514.1 711.9,514.8 709.5,516.1 707.4,517.9" />
<ellipse class="w" cx="718.8" cy="543.5" rx="29.5" ry="19.1" transform="rotate(60.1 718.8 543.5)" />
<path d="M732.2 569.8 L733.6 568.9 L734.9 567.8 L736 566.5 L737 565 L737.9 563.4 L738.5 561.6 L739.1 559.7 L739.4 557.7 L739.6 555.6 L739.7 553.4 L739.5 551.1 L739.2 548.8 L738.8 546.4 L738.1 544 L737.3 541.7 L736.4 539.3 L735.3 537 L734.1 534.7 L732.7 532.5 L731.3 530.4 L729.7 528.4 L728.1 526.5 L726.3 524.8 L724.5 523.2 L722.7 521.8 L720.8 520.5 L718.8 519.4 L716.9 518.5 L715 517.8 L713.1 517.3 L711.2 517 L709.4 516.9 L707.6 517.1 L705.9 517.4 L704.3 517.9 L702.8 518.7 L701.5 519.6 L700.2 520.7 L699.1 522 L698.1 523.5 L697.2 525.1 L696.5 526.8 L696 528.7 L695.6 530.8 L695.4 532.9 L695.4 535.1 L695.6 537.4 L695.9 539.7 L696.3 542 L697 544.4 L697.8 546.8 L698.7 549.2 L699.8 551.5 L701 553.7 L702.3 555.9 L703.8 558 L705.4 560 L707 561.9 L708.8 563.7 L710.6 565.3 L712.4 566.7 L714.3 568 L716.2 569 L718.2 569.9 L720.1 570.6 L722 571.1 L723.9 571.4 L725.7 571.5 L727.5 571.4 L729.1 571.1 L730.7 570.5Z M725.6 558.3 L726.3 557.8 L726.9 557.3 L727.4 556.6 L727.9 555.8 L728.3 555 L728.6 554.1 L728.8 553.1 L729 552 L729 550.9 L729 549.7 L728.8 548.5 L728.6 547.2 L728.3 545.9 L728 544.6 L727.5 543.3 L727 542.1 L726.4 540.8 L725.7 539.6 L725 538.3 L724.2 537.2 L723.3 536.1 L722.4 535 L721.5 534.1 L720.6 533.2 L719.6 532.3 L718.6 531.6 L717.6 531 L716.6 530.5 L715.6 530 L714.6 529.7 L713.7 529.5 L712.7 529.4 L711.9 529.5 L711 529.6 L710.2 529.8 L709.5 530.2 L708.8 530.7 L708.2 531.2 L707.6 531.9 L707.2 532.6 L706.8 533.5 L706.5 534.4 L706.3 535.4 L706.1 536.5 L706.1 537.6 L706.1 538.8 L706.2 540 L706.4 541.3 L706.7 542.5 L707.1 543.8 L707.6 545.1 L708.1 546.4 L708.7 547.7 L709.4 548.9 L710.1 550.1 L710.9 551.3 L711.8 552.4 L712.6 553.4 L713.6 554.4 L714.5 555.3 L715.5 556.1 L716.5 556.8 L717.5 557.5 L718.5 558 L719.5 558.4 L720.5 558.7 L721.4 558.9 L722.3 559 L723.2 559 L724.1 558.9 L724.9 558.6Z" fill="url(#xh)" fill-rule="evenodd" stroke="#000" stroke-width="1"/>
<line class="t" x1="735.9" y1="566.7" x2="727.6" y2="556.6" style="stroke:#fff;stroke-width:0.9"/>
<line class="t" x1="737.4" y1="542" x2="728.5" y2="543" style="stroke:#fff;stroke-width:0.9"/>
<line class="t" x1="719.1" y1="519.6" x2="718.4" y2="530.7" style="stroke:#fff;stroke-width:0.9"/>
<line class="t" x1="699.2" y1="521.8" x2="707.5" y2="531.9" style="stroke:#fff;stroke-width:0.9"/>
<line class="t" x1="697.6" y1="546.5" x2="706.6" y2="545.5" style="stroke:#fff;stroke-width:0.9"/>
<line class="t" x1="716" y1="568.9" x2="716.7" y2="557.8" style="stroke:#fff;stroke-width:0.9"/>
<polygon class="w" points="725.4,574.9 726.9,576.1 727.5,575.7 728.1,575.2 728.6,574.8 729.2,574.2 728.6,572.3 729.1,571.7 729.5,571.2 729.9,570.6 730.3,570 730.7,569.3 731,568.6 731.3,567.9 731.6,567.2 731.9,566.5 732.1,565.7 732.3,564.9 732.5,564.1 734,564.1 734.1,563.2 734.3,562.3 734.3,561.4 734.4,560.4 733.1,558.9 733,557.9 733,557 732.9,556.1 732.9,555.1 732.7,554.1 732.6,553.2 732.4,552.2 732.2,551.2 732,550.2 731.7,549.3 731.4,548.3 731.1,547.3 732,546.2 731.6,545.1 731.2,544.1 730.8,543.1 730.4,542.1 728.8,541.5 728.3,540.5 727.8,539.6 727.3,538.6 726.7,537.7 726.2,536.8 725.6,535.9 725,535.1 724.4,534.2 723.7,533.4 723.1,532.5 722.4,531.7 721.7,530.9 721.7,529.1 720.9,528.3 720.2,527.6 719.4,526.8 718.6,526.1 717.4,526.7 716.6,526.1 715.9,525.5 715.1,525 714.3,524.4 713.5,523.9 712.7,523.5 711.9,523 711.1,522.6 710.3,522.2 709.5,521.9 708.7,521.6 707.9,521.3 707,519.4 706.1,519.2 705.3,519 704.5,518.9 703.6,518.7 703.2,520.3 702.5,520.3 701.7,520.3 701,520.3 700.3,520.3 699.6,520.4 698.9,520.6 698.2,520.7 697.5,520.9 696.8,521.1 696.2,521.4 695.6,521.7 695,522 693.5,520.8 692.9,521.3 692.3,521.7 691.7,522.2 691.2,522.7 691.7,524.6 691.3,525.2 690.8,525.8 690.4,526.4 690,527 689.7,527.6 689.3,528.3 689,529 688.7,529.7 688.5,530.5 688.2,531.3 688,532 687.8,532.9 686.3,532.8 686.2,533.7 686.1,534.6 686,535.6 686,536.5 687.3,538.1 687.3,539 687.3,539.9 687.4,540.9 687.5,541.8 687.6,542.8 687.8,543.8 687.9,544.7 688.1,545.7 688.4,546.7 688.6,547.7 688.9,548.7 689.2,549.6 688.3,550.8 688.7,551.8 689.1,552.8 689.5,553.9 690,554.9 691.6,555.5 692,556.4 692.5,557.4 693.1,558.3 693.6,559.2 694.2,560.1 694.7,561 695.3,561.9 696,562.7 696.6,563.6 697.2,564.4 697.9,565.2 698.6,566 698.6,567.8 699.4,568.6 700.2,569.4 700.9,570.1 701.7,570.8 703,570.2 703.7,570.8 704.5,571.4 705.3,572 706,572.5 706.8,573 707.6,573.5 708.4,573.9 709.2,574.3 710,574.7 710.8,575 711.6,575.4 712.4,575.6 713.4,577.5 714.2,577.7 715,577.9 715.9,578.1 716.7,578.2 717.1,576.6 717.9,576.7 718.6,576.7 719.3,576.7 720.1,576.6 720.8,576.5 721.5,576.4 722.2,576.2 722.8,576 723.5,575.8 724.1,575.5 724.8,575.2" />
<polygon class="w" points="723.2,576.2 724.7,577.3 725.3,576.9 725.9,576.5 726.5,576 727,575.5 726.4,573.5 726.9,573 727.3,572.4 727.7,571.8 728.1,571.2 728.5,570.6 728.8,569.9 729.2,569.2 729.5,568.4 729.7,567.7 730,566.9 730.2,566.1 730.4,565.3 731.8,565.4 732,564.5 732.1,563.6 732.2,562.6 732.2,561.7 730.9,560.1 730.9,559.2 730.8,558.2 730.8,557.3 730.7,556.4 730.6,555.4 730.4,554.4 730.2,553.4 730,552.5 729.8,551.5 729.6,550.5 729.3,549.5 729,548.5 729.9,547.4 729.5,546.4 729.1,545.4 728.6,544.3 728.2,543.3 726.6,542.7 726.1,541.8 725.6,540.8 725.1,539.9 724.6,539 724,538.1 723.4,537.2 722.8,536.3 722.2,535.4 721.6,534.6 720.9,533.8 720.3,533 719.6,532.2 719.5,530.4 718.8,529.6 718,528.8 717.2,528.1 716.4,527.4 715.2,528 714.5,527.4 713.7,526.8 712.9,526.2 712.1,525.7 711.3,525.2 710.5,524.7 709.8,524.3 709,523.9 708.2,523.5 707.4,523.1 706.6,522.8 705.8,522.5 704.8,520.7 704,520.4 703.1,520.3 702.3,520.1 701.5,520 701.1,521.6 700.3,521.5 699.6,521.5 698.8,521.5 698.1,521.6 697.4,521.7 696.7,521.8 696,522 695.3,522.2 694.7,522.4 694,522.7 693.4,522.9 692.8,523.3 691.3,522.1 690.7,522.5 690.1,523 689.5,523.4 689,523.9 689.6,525.9 689.1,526.4 688.7,527 688.3,527.6 687.9,528.2 687.5,528.9 687.2,529.6 686.8,530.3 686.6,531 686.3,531.7 686,532.5 685.8,533.3 685.7,534.1 684.2,534.1 684,535 683.9,535.9 683.8,536.8 683.8,537.8 685.1,539.3 685.1,540.3 685.2,541.2 685.2,542.1 685.3,543.1 685.4,544 685.6,545 685.8,546 686,547 686.2,547.9 686.4,548.9 686.7,549.9 687,550.9 686.1,552 686.5,553 686.9,554.1 687.4,555.1 687.8,556.1 689.4,556.7 689.9,557.7 690.4,558.6 690.9,559.5 691.4,560.5 692,561.4 692.6,562.3 693.2,563.1 693.8,564 694.4,564.8 695.1,565.7 695.7,566.5 696.4,567.2 696.5,569.1 697.2,569.9 698,570.6 698.8,571.4 699.6,572.1 700.8,571.5 701.5,572.1 702.3,572.7 703.1,573.2 703.9,573.7 704.7,574.2 705.5,574.7 706.3,575.2 707.1,575.6 707.8,575.9 708.6,576.3 709.4,576.6 710.2,576.9 711.2,578.8 712.1,579 712.9,579.2 713.7,579.3 714.5,579.5 714.9,577.9 715.7,577.9 716.4,577.9 717.2,577.9 717.9,577.8 718.6,577.8 719.3,577.6 720,577.5 720.7,577.3 721.3,577 722,576.8 722.6,576.5" />
<ellipse class="w" cx="701.5" cy="553.5" rx="30" ry="19.4" transform="rotate(60.1 701.5 553.5)" />
<ellipse class="w" cx="700.2" cy="554.2" rx="30" ry="19.4" transform="rotate(60.1 700.2 554.2)" />
<clipPath id="cp700"><path d="M708.3 568.2 L709.3 567.5 L710.1 566.6 L710.8 565.4 L711.3 564 L711.6 562.5 L711.7 560.8 L711.6 559 L711.3 557.2 L710.8 555.2 L710.2 553.3 L709.3 551.4 L708.3 549.5 L707.2 547.7 L706 546 L704.6 544.5 L703.2 543.1 L701.7 541.9 L700.3 541 L698.8 540.2 L697.3 539.7 L695.9 539.4 L694.5 539.4 L693.3 539.7 L692.1 540.2 L691.1 540.9 L690.3 541.8 L689.6 543 L689.1 544.4 L688.8 545.9 L688.7 547.6 L688.8 549.4 L689.1 551.2 L689.6 553.2 L690.2 555.1 L691.1 557 L692.1 558.9 L693.2 560.7 L694.4 562.4 L695.8 563.9 L697.2 565.3 L698.7 566.5 L700.1 567.4 L701.6 568.2 L703.1 568.7 L704.5 569 L705.9 569 L707.1 568.7Z"/></clipPath>
<g clip-path="url(#cp700)"><ellipse class="l" cx="703.7" cy="552.2" rx="16.7" ry="9.7" transform="rotate(60.1 703.7 552.2)" /><ellipse class="t" cx="706.3" cy="550.7" rx="15.2" ry="8.8" transform="rotate(60.1 706.3 550.7)" /><path d="M731.5 568.5 L732.8 567.6 L734 566.6 L735.1 565.3 L736 564 L736.8 562.4 L737.5 560.7 L738 558.9 L738.3 557 L738.5 555 L738.5 552.9 L738.4 550.8 L738.1 548.6 L737.7 546.3 L737.1 544.1 L736.3 541.8 L735.4 539.6 L734.4 537.4 L733.2 535.2 L732 533.1 L730.6 531.1 L729.1 529.2 L727.5 527.4 L725.9 525.8 L724.2 524.3 L722.4 522.9 L720.6 521.7 L718.8 520.7 L716.9 519.8 L715.1 519.2 L713.3 518.7 L711.5 518.4 L709.8 518.3 L708.1 518.4 L706.5 518.8 L705 519.3 L703.6 520 L702.3 520.8 L701.1 521.9 L700 523.1 L699.1 524.5 L698.3 526 L697.6 527.7 L697.1 529.5 L696.8 531.4 L696.6 533.5 L696.5 535.5 L696.7 537.7 L697 539.9 L697.4 542.2 L698 544.4 L698.8 546.7 L699.6 548.9 L700.7 551.1 L701.8 553.3 L703.1 555.3 L704.5 557.3 L706 559.2 L707.6 561 L709.2 562.7 L710.9 564.2 L712.7 565.6 L714.5 566.8 L716.3 567.8 L718.1 568.6 L720 569.3 L721.8 569.8 L723.5 570.1 L725.3 570.1 L727 570 L728.6 569.7 L730.1 569.2Z M724.1 555.7 L724.7 555.3 L725.2 554.8 L725.6 554.3 L726 553.7 L726.3 553 L726.6 552.2 L726.7 551.4 L726.8 550.5 L726.9 549.6 L726.9 548.7 L726.8 547.7 L726.6 546.7 L726.3 545.6 L726 544.6 L725.7 543.5 L725.2 542.5 L724.7 541.4 L724.2 540.4 L723.6 539.4 L722.9 538.5 L722.2 537.6 L721.5 536.7 L720.8 535.9 L720 535.2 L719.2 534.5 L718.4 534 L717.6 533.4 L716.8 533 L716 532.7 L715.2 532.4 L714.4 532.2 L713.6 532.2 L712.9 532.2 L712.2 532.3 L711.6 532.5 L711 532.8 L710.4 533.2 L709.9 533.6 L709.5 534.2 L709.1 534.8 L708.8 535.5 L708.5 536.2 L708.3 537 L708.2 537.9 L708.2 538.8 L708.2 539.8 L708.3 540.8 L708.5 541.8 L708.7 542.9 L709.1 543.9 L709.4 545 L709.9 546 L710.4 547 L710.9 548 L711.5 549 L712.1 550 L712.8 550.9 L713.6 551.7 L714.3 552.5 L715.1 553.3 L715.9 553.9 L716.7 554.5 L717.5 555 L718.3 555.5 L719.1 555.8 L719.9 556.1 L720.7 556.2 L721.5 556.3 L722.2 556.3 L722.9 556.2 L723.5 556Z" fill="url(#xh)" fill-rule="evenodd" stroke="#000" stroke-width="0.8"/><ellipse class="l" cx="703.7" cy="552.2" rx="16.7" ry="9.7" transform="rotate(60.1 703.7 552.2)" /></g>
<path d="M715.1 580.2 L716.6 579.3 L717.8 578.1 L719 576.8 L720 575.3 L720.9 573.7 L721.6 571.9 L722.1 570 L722.5 567.9 L722.7 565.8 L722.7 563.5 L722.6 561.2 L722.2 558.8 L721.8 556.4 L721.1 554 L720.3 551.6 L719.4 549.2 L718.3 546.8 L717 544.5 L715.7 542.3 L714.2 540.2 L712.6 538.1 L710.9 536.2 L709.1 534.4 L707.3 532.8 L705.4 531.4 L703.5 530.1 L701.5 529 L699.6 528.1 L697.6 527.3 L695.7 526.8 L693.8 526.5 L691.9 526.5 L690.1 526.6 L688.4 526.9 L686.8 527.4 L685.3 528.2 L683.8 529.1 L682.6 530.3 L681.4 531.6 L680.4 533.1 L679.5 534.7 L678.8 536.5 L678.3 538.4 L677.9 540.5 L677.7 542.6 L677.7 544.9 L677.8 547.2 L678.2 549.6 L678.6 552 L679.3 554.4 L680.1 556.8 L681 559.2 L682.1 561.6 L683.4 563.9 L684.7 566.1 L686.2 568.2 L687.8 570.3 L689.5 572.2 L691.3 574 L693.1 575.6 L695 577 L696.9 578.3 L698.9 579.4 L700.8 580.3 L702.8 581.1 L704.7 581.6 L706.6 581.9 L708.5 581.9 L710.3 581.8 L712 581.5 L713.6 581Z M708.3 568.2 L709 567.8 L709.6 567.2 L710.1 566.6 L710.6 565.8 L711 565 L711.3 564 L711.5 563 L711.6 562 L711.7 560.8 L711.6 559.6 L711.5 558.4 L711.3 557.2 L711 555.9 L710.6 554.6 L710.2 553.3 L709.6 552 L709 550.8 L708.3 549.5 L707.6 548.3 L706.8 547.2 L706 546 L705.1 545 L704.2 544 L703.2 543.1 L702.2 542.3 L701.3 541.6 L700.3 541 L699.3 540.4 L698.3 540 L697.3 539.7 L696.3 539.5 L695.4 539.4 L694.5 539.4 L693.7 539.6 L692.9 539.8 L692.1 540.2 L691.4 540.6 L690.8 541.2 L690.3 541.8 L689.8 542.6 L689.4 543.4 L689.1 544.4 L688.9 545.4 L688.8 546.4 L688.7 547.6 L688.8 548.8 L688.9 550 L689.1 551.2 L689.4 552.5 L689.8 553.8 L690.2 555.1 L690.8 556.4 L691.4 557.6 L692.1 558.9 L692.8 560.1 L693.6 561.2 L694.4 562.4 L695.3 563.4 L696.2 564.4 L697.2 565.3 L698.2 566.1 L699.1 566.8 L700.1 567.4 L701.1 568 L702.1 568.4 L703.1 568.7 L704.1 568.9 L705 569 L705.9 569 L706.7 568.8 L707.5 568.6Z" fill="url(#xh)" fill-rule="evenodd" stroke="#000" stroke-width="1.1"/>
<line class="t" x1="716.8" y1="579.1" x2="709" y2="567.7" style="stroke:#fff;stroke-width:0.9"/>
<line class="t" x1="721.7" y1="556.1" x2="710.9" y2="555.7" style="stroke:#fff;stroke-width:0.9"/>
<line class="t" x1="705.1" y1="531.2" x2="702.1" y2="542.2" style="stroke:#fff;stroke-width:0.9"/>
<line class="t" x1="683.6" y1="529.3" x2="691.4" y2="540.7" style="stroke:#fff;stroke-width:0.9"/>
<line class="t" x1="678.7" y1="552.3" x2="689.5" y2="552.7" style="stroke:#fff;stroke-width:0.9"/>
<line class="t" x1="695.3" y1="577.2" x2="698.3" y2="566.2" style="stroke:#fff;stroke-width:0.9"/>
<polygon class="w" points="582.3,842.1 582.9,841.7 583.5,841.3 584.1,840.8 584.6,840.3 585.1,839.8 585.6,839.2 586.1,838.6 587.6,839.3 588.1,838.6 588.5,837.9 588.9,837.1 589.2,836.3 588.3,834.3 588.6,833.4 588.8,832.6 589,831.7 589.2,830.8 589.4,829.8 589.5,828.8 589.6,827.8 589.6,826.8 589.6,825.8 589.6,824.7 589.6,823.7 589.5,822.6 590.6,822 590.5,820.9 590.3,819.7 590.1,818.5 589.9,817.3 588.4,815.8 588.1,814.6 587.8,813.4 587.4,812.2 587.1,811 586.6,809.9 586.2,808.7 585.7,807.5 585.3,806.3 584.7,805.1 584.2,804 583.6,802.8 583,801.6 583.3,800 582.7,798.9 582,797.7 581.3,796.5 580.5,795.4 579,795 578.3,793.9 577.5,792.9 576.8,791.8 576,790.8 575.2,789.9 574.3,788.9 573.5,788 572.7,787.1 571.8,786.2 570.9,785.4 570.1,784.6 569.2,783.8 568.5,781.8 567.6,781 566.6,780.3 565.7,779.6 564.8,779 563.8,779.8 562.9,779.3 562,778.8 561.1,778.3 560.2,777.9 559.3,777.5 558.4,777.1 557.5,776.8 556.6,776.6 555.8,776.3 554.9,776.1 554.1,776 553.2,775.9 551.9,774.2 551,774.2 550.2,774.2 549.4,774.2 548.6,774.3 548.5,776.1 547.8,776.3 547.1,776.5 546.4,776.8 545.7,777.1 545.1,777.4 544.5,777.8 543.9,778.2 543.3,778.7 542.8,779.2 542.2,779.7 541.7,780.3 541.3,780.9 539.7,780.2 539.3,780.9 538.9,781.6 538.5,782.4 538.2,783.2 539,785.3 538.8,786.1 538.5,787 538.3,787.9 538.1,788.8 538,789.7 537.9,790.7 537.8,791.7 537.7,792.7 537.7,793.7 537.7,794.8 537.8,795.9 537.9,796.9 536.7,797.5 536.9,798.7 537,799.9 537.3,801.1 537.5,802.3 539,803.8 539.3,804.9 539.6,806.1 539.9,807.3 540.3,808.5 540.7,809.7 541.1,810.9 541.6,812 542.1,813.2 542.6,814.4 543.2,815.6 543.7,816.7 544.3,817.9 544,819.5 544.7,820.7 545.4,821.9 546.1,823 546.8,824.2 548.3,824.6 549.1,825.6 549.8,826.7 550.6,827.7 551.4,828.7 552.2,829.7 553,830.6 553.9,831.5 554.7,832.4 555.5,833.3 556.4,834.1 557.3,834.9 558.2,835.7 558.8,837.8 559.8,838.5 560.7,839.2 561.7,839.9 562.6,840.6 563.6,839.7 564.5,840.3 565.4,840.8 566.3,841.2 567.2,841.7 568.1,842 569,842.4 569.8,842.7 570.7,843 571.6,843.2 572.4,843.4 573.3,843.5 574.1,843.6 575.5,845.4 576.3,845.4 577.2,845.4 578,845.3 578.8,845.2 578.8,843.4 579.6,843.2 580.3,843 581,842.8 581.6,842.4" />
<polygon class="w" points="580.1,843.3 580.7,843 581.3,842.5 581.9,842.1 582.4,841.6 583,841.1 583.5,840.5 583.9,839.9 585.5,840.6 585.9,839.9 586.3,839.1 586.7,838.4 587,837.5 586.2,835.5 586.4,834.7 586.7,833.8 586.9,832.9 587,832 587.2,831.1 587.3,830.1 587.4,829.1 587.4,828.1 587.5,827 587.5,826 587.4,824.9 587.3,823.8 588.5,823.3 588.3,822.1 588.1,820.9 587.9,819.7 587.7,818.5 586.2,817 585.9,815.8 585.6,814.7 585.3,813.5 584.9,812.3 584.5,811.1 584,809.9 583.6,808.7 583.1,807.6 582.6,806.4 582,805.2 581.5,804 580.9,802.9 581.2,801.3 580.5,800.1 579.8,798.9 579.1,797.8 578.4,796.6 576.9,796.2 576.1,795.1 575.4,794.1 574.6,793.1 573.8,792.1 573,791.1 572.2,790.2 571.3,789.2 570.5,788.3 569.6,787.5 568.8,786.6 567.9,785.8 567,785 566.4,783 565.4,782.3 564.5,781.5 563.5,780.9 562.6,780.2 561.6,781.1 560.7,780.5 559.8,780 558.9,779.5 558,779.1 557.1,778.7 556.2,778.4 555.3,778.1 554.5,777.8 553.6,777.6 552.7,777.4 551.9,777.2 551.1,777.1 549.7,775.4 548.8,775.4 548,775.4 547.2,775.5 546.4,775.6 546.4,777.4 545.6,777.5 544.9,777.8 544.2,778 543.6,778.3 542.9,778.7 542.3,779.1 541.7,779.5 541.1,779.9 540.6,780.4 540.1,781 539.6,781.5 539.1,782.1 537.6,781.4 537.1,782.1 536.7,782.9 536.3,783.7 536,784.5 536.9,786.5 536.6,787.3 536.4,788.2 536.2,789.1 536,790 535.8,791 535.7,791.9 535.6,792.9 535.6,793.9 535.6,795 535.6,796 535.6,797.1 535.7,798.2 534.6,798.7 534.7,799.9 534.9,801.1 535.1,802.3 535.3,803.5 536.8,805 537.1,806.2 537.4,807.4 537.8,808.5 538.1,809.7 538.5,810.9 539,812.1 539.4,813.3 539.9,814.5 540.4,815.6 541,816.8 541.6,818 542.1,819.1 541.9,820.7 542.5,821.9 543.2,823.1 543.9,824.3 544.7,825.4 546.2,825.8 546.9,826.9 547.7,827.9 548.4,828.9 549.2,829.9 550,830.9 550.9,831.9 551.7,832.8 552.5,833.7 553.4,834.5 554.2,835.4 555.1,836.2 556,837 556.7,839 557.6,839.8 558.5,840.5 559.5,841.2 560.4,841.8 561.4,841 562.3,841.5 563.2,842 564.1,842.5 565,842.9 565.9,843.3 566.8,843.6 567.7,844 568.6,844.2 569.4,844.4 570.3,844.6 571.1,844.8 572,844.9 573.3,846.6 574.2,846.6 575,846.6 575.8,846.5 576.6,846.4 576.7,844.7 577.4,844.5 578.1,844.3 578.8,844 579.5,843.7" />
<polyline class="t" points="574,843.7 576.9,842.8 579.3,841.3 581.4,839.1 583,836.3 584.1,833 584.7,829.2 584.7,825.1 584.2,820.6 583.2,816 581.7,811.2 579.8,806.5 577.4,801.9 574.6,797.5 571.5,793.4 568.2,789.7 564.7,786.5 561.1,783.9 557.4,781.8 553.9,780.4 550.5,779.7 547.3,779.7 544.3,780.4 541.7,781.7 539.6,783.7" />
<ellipse class="w" cx="554.6" cy="815" rx="36.3" ry="20.3" transform="rotate(60.1 554.6 815)" />
<path d="M571.4 847.2 L572.8 846.2 L574.1 845 L575.3 843.5 L576.3 841.9 L577.1 840 L577.8 837.9 L578.2 835.7 L578.5 833.3 L578.5 830.8 L578.4 828.2 L578.1 825.5 L577.6 822.7 L576.9 819.9 L576 817 L575 814.1 L573.8 811.2 L572.4 808.4 L570.9 805.6 L569.3 802.9 L567.5 800.3 L565.6 797.8 L563.7 795.5 L561.6 793.3 L559.5 791.2 L557.3 789.4 L555.2 787.8 L552.9 786.3 L550.7 785.1 L548.6 784.2 L546.4 783.4 L544.3 782.9 L542.3 782.7 L540.4 782.7 L538.5 783 L536.8 783.5 L535.2 784.3 L533.7 785.3 L532.4 786.5 L531.2 788 L530.3 789.6 L529.4 791.5 L528.8 793.6 L528.3 795.8 L528.1 798.1 L528 800.7 L528.1 803.3 L528.5 806 L529 808.8 L529.7 811.6 L530.5 814.5 L531.6 817.4 L532.8 820.3 L534.1 823.1 L535.7 825.9 L537.3 828.6 L539.1 831.2 L540.9 833.7 L542.9 836 L544.9 838.2 L547.1 840.3 L549.2 842.1 L551.4 843.7 L553.6 845.2 L555.8 846.4 L558 847.3 L560.1 848.1 L562.2 848.5 L564.2 848.8 L566.2 848.8 L568 848.5 L569.8 848Z M563 832.6 L563.7 832.1 L564.4 831.5 L564.9 830.8 L565.4 829.9 L565.8 828.9 L566.1 827.9 L566.3 826.7 L566.4 825.4 L566.4 824.1 L566.3 822.7 L566.1 821.3 L565.7 819.8 L565.3 818.3 L564.9 816.8 L564.3 815.2 L563.6 813.7 L562.9 812.2 L562.1 810.7 L561.2 809.2 L560.2 807.8 L559.3 806.5 L558.2 805.2 L557.1 804 L556 802.9 L554.9 801.9 L553.8 801 L552.6 800.2 L551.5 799.5 L550.4 799 L549.3 798.6 L548.2 798.3 L547.2 798.1 L546.2 798.1 L545.2 798.2 L544.4 798.5 L543.6 798.8 L542.8 799.3 L542.2 800 L541.6 800.7 L541.1 801.6 L540.8 802.6 L540.5 803.6 L540.3 804.8 L540.2 806 L540.2 807.4 L540.3 808.7 L540.5 810.2 L540.8 811.7 L541.2 813.2 L541.7 814.7 L542.3 816.2 L542.9 817.8 L543.7 819.3 L544.5 820.8 L545.4 822.2 L546.3 823.7 L547.3 825 L548.3 826.3 L549.4 827.5 L550.5 828.6 L551.6 829.6 L552.8 830.5 L553.9 831.3 L555.1 831.9 L556.2 832.5 L557.3 832.9 L558.4 833.2 L559.4 833.4 L560.4 833.4 L561.3 833.3 L562.2 833Z" fill="url(#xh)" fill-rule="evenodd" stroke="#000" stroke-width="1"/>
<line class="t" x1="575.2" y1="843.7" x2="565" y2="830.8" style="stroke:#fff;stroke-width:0.9"/>
<line class="t" x1="575.1" y1="814.5" x2="565" y2="815.1" style="stroke:#fff;stroke-width:0.9"/>
<line class="t" x1="553.2" y1="786.5" x2="553.3" y2="800" style="stroke:#fff;stroke-width:0.9"/>
<line class="t" x1="531.4" y1="787.8" x2="541.5" y2="800.7" style="stroke:#fff;stroke-width:0.9"/>
<line class="t" x1="531.4" y1="817" x2="541.5" y2="816.4" style="stroke:#fff;stroke-width:0.9"/>
<line class="t" x1="553.3" y1="845" x2="553.3" y2="831.4" style="stroke:#fff;stroke-width:0.9"/>
<polygon class="w" points="560.2,854.8 561.7,856 562.3,855.5 562.9,855 563.5,854.5 564.1,854 563.5,851.9 564,851.3 564.4,850.7 564.8,850 565.2,849.3 565.6,848.6 565.9,847.8 566.2,847 566.5,846.1 566.7,845.3 566.9,844.4 567.1,843.5 567.3,842.5 568.6,842.5 568.7,841.4 568.8,840.4 568.8,839.3 568.8,838.2 567.5,836.4 567.4,835.3 567.3,834.2 567.1,833.1 567,831.9 566.8,830.8 566.5,829.6 566.3,828.5 566,827.3 565.7,826.1 565.3,824.9 564.9,823.8 564.5,822.6 565.2,821.3 564.7,820.1 564.2,818.8 563.6,817.6 563.1,816.4 561.5,815.5 560.9,814.3 560.3,813.2 559.7,812.1 559,810.9 558.3,809.8 557.6,808.7 556.9,807.7 556.2,806.6 555.4,805.6 554.6,804.5 553.9,803.6 553.1,802.6 552.7,800.6 551.9,799.7 551,798.7 550.1,797.8 549.2,796.9 548,797.3 547.1,796.5 546.2,795.8 545.3,795 544.4,794.4 543.5,793.7 542.6,793.1 541.7,792.5 540.8,792 539.9,791.5 539,791 538.1,790.6 537.2,790.2 536,788.3 535.1,787.9 534.2,787.7 533.3,787.4 532.4,787.2 532,788.7 531.1,788.6 530.3,788.5 529.5,788.5 528.7,788.5 527.9,788.6 527.2,788.7 526.4,788.8 525.7,789 525,789.2 524.3,789.5 523.6,789.8 523,790.1 521.4,789 520.8,789.4 520.2,789.9 519.6,790.4 519.1,791 519.6,793 519.2,793.6 518.7,794.3 518.3,794.9 517.9,795.6 517.6,796.4 517.2,797.2 516.9,798 516.7,798.8 516.4,799.7 516.2,800.6 516,801.5 515.9,802.4 514.5,802.5 514.4,803.5 514.4,804.6 514.4,805.7 514.4,806.8 515.7,808.6 515.8,809.7 515.9,810.8 516,811.9 516.2,813 516.4,814.2 516.6,815.3 516.9,816.5 517.1,817.6 517.5,818.8 517.8,820 518.2,821.2 518.6,822.4 518,823.6 518.4,824.9 519,826.1 519.5,827.3 520.1,828.6 521.6,829.4 522.2,830.6 522.8,831.7 523.5,832.9 524.1,834 524.8,835.1 525.5,836.2 526.2,837.3 527,838.3 527.7,839.4 528.5,840.4 529.3,841.4 530.1,842.4 530.4,844.3 531.3,845.3 532.2,846.2 533,847.1 534,848 535.2,847.7 536.1,848.4 536.9,849.2 537.8,849.9 538.7,850.6 539.6,851.2 540.5,851.8 541.5,852.4 542.4,853 543.3,853.5 544.2,853.9 545.1,854.4 546,854.8 547.1,856.7 548,857 549,857.3 549.9,857.5 550.8,857.7 551.2,856.2 552,856.4 552.8,856.4 553.7,856.4 554.4,856.4 555.2,856.4 556,856.3 556.7,856.1 557.5,855.9 558.2,855.7 558.8,855.5 559.5,855.2" />
<polygon class="w" points="558,856.1 559.5,857.2 560.2,856.8 560.8,856.3 561.3,855.8 561.9,855.2 561.3,853.2 561.8,852.6 562.3,851.9 562.7,851.3 563.1,850.5 563.4,849.8 563.7,849 564,848.2 564.3,847.4 564.6,846.5 564.8,845.6 564.9,844.7 565.1,843.8 566.4,843.7 566.5,842.7 566.6,841.6 566.6,840.5 566.6,839.4 565.3,837.6 565.2,836.5 565.1,835.4 565,834.3 564.8,833.2 564.6,832 564.4,830.9 564.1,829.7 563.8,828.5 563.5,827.4 563.2,826.2 562.8,825 562.4,823.8 563,822.6 562.5,821.3 562,820.1 561.5,818.9 560.9,817.6 559.4,816.7 558.8,815.6 558.2,814.4 557.5,813.3 556.9,812.2 556.2,811.1 555.5,810 554.8,808.9 554,807.8 553.3,806.8 552.5,805.8 551.7,804.8 550.9,803.8 550.6,801.9 549.7,800.9 548.8,800 547.9,799 547,798.2 545.8,798.5 544.9,797.8 544,797 543.1,796.3 542.2,795.6 541.3,795 540.4,794.3 539.5,793.8 538.6,793.2 537.7,792.7 536.8,792.3 535.9,791.8 535,791.4 533.9,789.5 532.9,789.2 532,788.9 531.1,788.7 530.2,788.5 529.8,789.9 529,789.8 528.1,789.8 527.3,789.7 526.5,789.8 525.8,789.8 525,789.9 524.2,790.1 523.5,790.2 522.8,790.5 522.1,790.7 521.5,791 520.8,791.4 519.3,790.2 518.6,790.7 518,791.1 517.5,791.7 516.9,792.2 517.5,794.2 517,794.9 516.5,795.5 516.1,796.2 515.7,796.9 515.4,797.6 515.1,798.4 514.8,799.2 514.5,800 514.3,800.9 514,801.8 513.9,802.7 513.7,803.7 512.4,803.7 512.3,804.8 512.2,805.8 512.2,806.9 512.2,808 513.5,809.8 513.6,810.9 513.7,812 513.8,813.1 514,814.3 514.2,815.4 514.4,816.6 514.7,817.7 515,818.9 515.3,820.1 515.6,821.3 516,822.4 516.4,823.6 515.8,824.9 516.3,826.1 516.8,827.3 517.3,828.6 517.9,829.8 519.4,830.7 520,831.8 520.7,833 521.3,834.1 522,835.2 522.6,836.4 523.3,837.4 524.1,838.5 524.8,839.6 525.6,840.6 526.3,841.6 527.1,842.6 527.9,843.6 528.2,845.6 529.1,846.5 530,847.5 530.9,848.4 531.8,849.3 533,848.9 533.9,849.7 534.8,850.4 535.7,851.1 536.6,851.8 537.5,852.5 538.4,853.1 539.3,853.7 540.2,854.2 541.1,854.7 542,855.2 542.9,855.6 543.8,856 544.9,857.9 545.9,858.2 546.8,858.5 547.7,858.8 548.6,859 549,857.5 549.9,857.6 550.7,857.7 551.5,857.7 552.3,857.7 553.1,857.6 553.8,857.5 554.6,857.4 555.3,857.2 556,857 556.7,856.7 557.3,856.4" />
<ellipse class="w" cx="532.9" cy="827.5" rx="36.8" ry="20.6" transform="rotate(60.1 532.9 827.5)" />
<ellipse class="w" cx="531.6" cy="828.2" rx="36.8" ry="20.6" transform="rotate(60.1 531.6 828.2)" />
<clipPath id="cp531"><path d="M541.3 845.1 L542.4 844.3 L543.3 843.2 L543.9 841.9 L544.4 840.3 L544.7 838.5 L544.7 836.6 L544.5 834.5 L544.1 832.3 L543.4 830 L542.6 827.7 L541.6 825.4 L540.4 823.1 L539 821 L537.6 818.9 L536 817.1 L534.4 815.4 L532.7 813.9 L530.9 812.7 L529.2 811.7 L527.6 811 L526 810.6 L524.5 810.6 L523.1 810.8 L521.9 811.3 L520.8 812.1 L519.9 813.2 L519.3 814.5 L518.8 816.1 L518.5 817.9 L518.5 819.8 L518.7 821.9 L519.1 824.1 L519.8 826.4 L520.6 828.7 L521.6 831 L522.8 833.3 L524.2 835.4 L525.6 837.5 L527.2 839.3 L528.8 841 L530.5 842.5 L532.3 843.7 L534 844.7 L535.6 845.4 L537.2 845.8 L538.7 845.8 L540.1 845.6Z"/></clipPath>
<g clip-path="url(#cp531)"><ellipse class="l" cx="535.1" cy="826.2" rx="20" ry="10.4" transform="rotate(60.1 535.1 826.2)" /><ellipse class="t" cx="537.7" cy="824.7" rx="18.5" ry="9.6" transform="rotate(60.1 537.7 824.7)" /><path d="M570.6 845.9 L572 845 L573.3 843.8 L574.4 842.4 L575.3 840.8 L576.1 839 L576.7 837 L577.2 834.9 L577.4 832.6 L577.5 830.2 L577.4 827.7 L577.1 825.1 L576.6 822.4 L575.9 819.7 L575.1 816.9 L574.1 814.2 L572.9 811.4 L571.6 808.7 L570.2 806 L568.6 803.4 L566.9 800.9 L565.1 798.6 L563.2 796.3 L561.3 794.2 L559.2 792.2 L557.2 790.5 L555.1 788.9 L553 787.5 L550.9 786.4 L548.8 785.5 L546.7 784.8 L544.7 784.3 L542.8 784.1 L540.9 784.1 L539.1 784.3 L537.5 784.8 L535.9 785.6 L534.5 786.5 L533.3 787.7 L532.2 789.1 L531.2 790.7 L530.4 792.5 L529.8 794.5 L529.4 796.6 L529.1 798.9 L529.1 801.3 L529.2 803.8 L529.5 806.4 L530 809.1 L530.6 811.8 L531.5 814.5 L532.5 817.3 L533.6 820.1 L534.9 822.8 L536.4 825.5 L538 828 L539.6 830.5 L541.4 832.9 L543.3 835.2 L545.3 837.3 L547.3 839.2 L549.4 841 L551.5 842.6 L553.6 843.9 L555.7 845.1 L557.8 846 L559.8 846.7 L561.9 847.2 L563.8 847.4 L565.7 847.4 L567.4 847.1 L569.1 846.6Z M561.5 830 L562.1 829.6 L562.7 829.1 L563.1 828.5 L563.5 827.7 L563.9 826.9 L564.1 826 L564.3 825 L564.4 824 L564.3 822.8 L564.3 821.7 L564.1 820.4 L563.8 819.2 L563.5 817.9 L563.1 816.6 L562.6 815.3 L562 814 L561.4 812.7 L560.7 811.5 L560 810.2 L559.2 809 L558.3 807.9 L557.5 806.8 L556.5 805.8 L555.6 804.9 L554.7 804 L553.7 803.3 L552.7 802.6 L551.8 802 L550.8 801.6 L549.9 801.2 L549 801 L548.1 800.8 L547.3 800.8 L546.5 800.9 L545.7 801.1 L545.1 801.4 L544.4 801.9 L543.9 802.4 L543.4 803 L543 803.8 L542.7 804.6 L542.4 805.5 L542.3 806.5 L542.2 807.5 L542.2 808.7 L542.3 809.8 L542.5 811 L542.7 812.3 L543.1 813.6 L543.5 814.9 L544 816.2 L544.5 817.5 L545.1 818.8 L545.8 820 L546.6 821.2 L547.4 822.4 L548.2 823.6 L549.1 824.7 L550 825.7 L550.9 826.6 L551.9 827.5 L552.9 828.2 L553.8 828.9 L554.8 829.4 L555.7 829.9 L556.7 830.3 L557.6 830.5 L558.5 830.6 L559.3 830.7 L560.1 830.6 L560.8 830.4Z" fill="url(#xh)" fill-rule="evenodd" stroke="#000" stroke-width="0.8"/><ellipse class="l" cx="535.1" cy="826.2" rx="20" ry="10.4" transform="rotate(60.1 535.1 826.2)" /></g>
<path d="M549.9 860.1 L551.4 859.1 L552.8 857.8 L553.9 856.4 L554.9 854.7 L555.8 852.8 L556.4 850.7 L556.9 848.4 L557.1 846 L557.2 843.5 L557.1 840.8 L556.8 838.1 L556.2 835.3 L555.5 832.4 L554.7 829.5 L553.6 826.5 L552.4 823.6 L551 820.8 L549.5 817.9 L547.8 815.2 L546 812.5 L544.1 810 L542.1 807.6 L540 805.4 L537.9 803.4 L535.7 801.5 L533.5 799.8 L531.3 798.4 L529 797.2 L526.8 796.2 L524.7 795.4 L522.5 794.9 L520.5 794.7 L518.5 794.7 L516.6 795 L514.9 795.5 L513.3 796.3 L511.8 797.3 L510.4 798.6 L509.3 800 L508.3 801.7 L507.4 803.6 L506.8 805.7 L506.3 808 L506.1 810.4 L506 812.9 L506.1 815.6 L506.4 818.3 L507 821.1 L507.7 824 L508.5 826.9 L509.6 829.9 L510.8 832.8 L512.2 835.6 L513.7 838.5 L515.4 841.2 L517.2 843.9 L519.1 846.4 L521.1 848.8 L523.2 851 L525.3 853 L527.5 854.9 L529.7 856.6 L531.9 858 L534.2 859.2 L536.4 860.2 L538.5 861 L540.7 861.5 L542.7 861.7 L544.7 861.7 L546.6 861.4 L548.3 860.9Z M541.3 845.1 L542 844.6 L542.7 844 L543.3 843.2 L543.7 842.4 L544.1 841.4 L544.4 840.3 L544.6 839.2 L544.7 837.9 L544.7 836.6 L544.6 835.2 L544.4 833.8 L544.1 832.3 L543.7 830.8 L543.2 829.2 L542.6 827.7 L541.9 826.2 L541.2 824.6 L540.4 823.1 L539.5 821.7 L538.6 820.3 L537.6 818.9 L536.5 817.7 L535.5 816.5 L534.4 815.4 L533.2 814.4 L532.1 813.5 L530.9 812.7 L529.8 812 L528.7 811.5 L527.6 811 L526.5 810.7 L525.5 810.6 L524.5 810.6 L523.6 810.7 L522.7 810.9 L521.9 811.3 L521.2 811.8 L520.5 812.4 L519.9 813.2 L519.5 814 L519.1 815 L518.8 816.1 L518.6 817.2 L518.5 818.5 L518.5 819.8 L518.6 821.2 L518.8 822.6 L519.1 824.1 L519.5 825.6 L520 827.2 L520.6 828.7 L521.3 830.2 L522 831.8 L522.8 833.3 L523.7 834.7 L524.6 836.1 L525.6 837.5 L526.7 838.7 L527.7 839.9 L528.8 841 L530 842 L531.1 842.9 L532.3 843.7 L533.4 844.4 L534.5 844.9 L535.6 845.4 L536.7 845.7 L537.7 845.8 L538.7 845.8 L539.6 845.7 L540.5 845.5Z" fill="url(#xh)" fill-rule="evenodd" stroke="#000" stroke-width="1.1"/>
<line class="t" x1="551.6" y1="858.9" x2="542.1" y2="844.5" style="stroke:#fff;stroke-width:0.9"/>
<line class="t" x1="555.4" y1="832" x2="543.6" y2="830.5" style="stroke:#fff;stroke-width:0.9"/>
<line class="t" x1="535.4" y1="801.2" x2="533.1" y2="814.2" style="stroke:#fff;stroke-width:0.9"/>
<line class="t" x1="511.6" y1="797.5" x2="521.1" y2="811.9" style="stroke:#fff;stroke-width:0.9"/>
<line class="t" x1="507.8" y1="824.4" x2="519.6" y2="825.9" style="stroke:#fff;stroke-width:0.9"/>
<line class="t" x1="527.8" y1="855.2" x2="530.1" y2="842.2" style="stroke:#fff;stroke-width:0.9"/>
</g>
<g id="gears">
<defs><pattern id="xd" width="2.2" height="2.2" patternUnits="userSpaceOnUse" patternTransform="rotate(35)"><rect width="2.2" height="2.2" fill="#000"/><rect x="0.2" y="0.2" width="0.9" height="0.9" fill="#fff"/></pattern></defs>
<polygon points="230.4,718 231.7,719.8 232.3,719.3 231.4,717.3 231.9,716.7 233.3,718.2 233.7,717.5 232.5,715.6 232.8,714.8 234.3,715.9 234.5,714.9 233.1,713.3 233.2,712.3 234.6,713 234.6,711.7 233.1,710.5 233,709.3 234.4,709.6 234.1,708.2 232.6,707.4 232.3,706.1 233.5,705.9 233,704.5 231.6,704.1 231.1,702.9 232,702.1 231.3,700.7 230.1,700.9 229.4,699.7 230,698.5 229.1,697.3 228.2,697.9 227.4,696.9 227.6,695.3 226.7,694.2 226,695.3 225.1,694.5 225,692.7 224,691.8 223.7,693.3 222.8,692.7 222.3,690.7 221.3,690.2 221.3,692 220.5,691.6 219.7,689.6 218.8,689.4 219.1,691.4 218.3,691.3 217.3,689.3 216.5,689.5 217.2,691.6 216.5,691.8 215.3,690 214.6,690.5 215.6,692.5 215.1,693.1 213.7,691.5 213.2,692.3 214.5,694.2 214.2,695 212.7,693.8 212.5,694.9 213.8,696.5 213.8,697.5 212.3,696.8 212.3,698 213.8,699.3 213.9,700.4 212.6,700.2 212.9,701.6 214.3,702.4 214.7,703.6 213.5,703.9 214,705.3 215.4,705.7 215.9,706.9 215,707.7 215.7,709 216.9,708.9 217.6,710.1 217,711.2 217.8,712.5 218.8,711.9 219.6,712.9 219.3,714.5 220.3,715.5 221,714.4 221.8,715.3 221.9,717.1 222.9,718 223.3,716.5 224.2,717.1 224.6,719.1 225.6,719.6 225.6,717.8 226.5,718.1 227.2,720.2 228.2,720.4 227.8,718.4 228.6,718.4 229.6,720.4 230.5,720.3 229.8,718.2" fill="#fff" stroke="#000" stroke-width="0.9" stroke-linejoin="round"/>
<polygon points="219,724.1 230.4,718 216.5,691.8 205,697.9" fill="#fff" stroke="none"/>
<line x1="220.2" y1="725.9" x2="231.7" y2="719.8" stroke="#000" stroke-width="0.9"/>
<line x1="220.4" y1="724.4" x2="231.9" y2="718.3" stroke="#000" stroke-width="0.9"/>
<line x1="221.8" y1="724.3" x2="233.3" y2="718.2" stroke="#000" stroke-width="0.9"/>
<line x1="221.6" y1="722.6" x2="233.1" y2="716.5" stroke="#000" stroke-width="0.9"/>
<line x1="222.8" y1="722" x2="234.3" y2="715.9" stroke="#000" stroke-width="0.9"/>
<line x1="222.3" y1="720.2" x2="233.8" y2="714.1" stroke="#000" stroke-width="0.9"/>
<line x1="223.2" y1="719.1" x2="234.6" y2="713" stroke="#000" stroke-width="0.9"/>
<line x1="222.4" y1="717.2" x2="233.9" y2="711.1" stroke="#000" stroke-width="0.9"/>
<line x1="222.9" y1="715.7" x2="234.4" y2="709.6" stroke="#000" stroke-width="0.9"/>
<line x1="221.9" y1="713.9" x2="233.4" y2="707.8" stroke="#000" stroke-width="0.9"/>
<line x1="222" y1="712" x2="233.5" y2="705.9" stroke="#000" stroke-width="0.9"/>
<line x1="220.8" y1="710.4" x2="232.3" y2="704.3" stroke="#000" stroke-width="0.9"/>
<line x1="220.5" y1="708.2" x2="232" y2="702.1" stroke="#000" stroke-width="0.9"/>
<line x1="219.2" y1="706.9" x2="230.7" y2="700.8" stroke="#000" stroke-width="0.9"/>
<line x1="218.5" y1="704.7" x2="230" y2="698.5" stroke="#000" stroke-width="0.9"/>
<line x1="217.2" y1="703.7" x2="228.6" y2="697.6" stroke="#000" stroke-width="0.9"/>
<line x1="216.2" y1="701.4" x2="227.6" y2="695.3" stroke="#000" stroke-width="0.9"/>
<line x1="214.8" y1="700.9" x2="226.3" y2="694.8" stroke="#000" stroke-width="0.9"/>
<line x1="213.6" y1="698.8" x2="225" y2="692.7" stroke="#000" stroke-width="0.9"/>
<line x1="212.4" y1="698.7" x2="223.8" y2="692.6" stroke="#000" stroke-width="0.9"/>
<line x1="210.9" y1="696.8" x2="222.3" y2="690.7" stroke="#000" stroke-width="0.9"/>
<line x1="209.8" y1="697.2" x2="221.3" y2="691.1" stroke="#000" stroke-width="0.9"/>
<line x1="208.2" y1="695.7" x2="219.7" y2="689.6" stroke="#000" stroke-width="0.9"/>
<line x1="207.5" y1="696.5" x2="218.9" y2="690.4" stroke="#000" stroke-width="0.9"/>
<line x1="205.8" y1="695.5" x2="217.3" y2="689.3" stroke="#000" stroke-width="0.9"/>
<line x1="205.3" y1="696.6" x2="216.8" y2="690.5" stroke="#000" stroke-width="0.9"/>
<line x1="203.8" y1="696.1" x2="215.3" y2="690" stroke="#000" stroke-width="0.9"/>
<line x1="203.6" y1="697.6" x2="215.1" y2="691.5" stroke="#000" stroke-width="0.9"/>
<line x1="202.2" y1="697.7" x2="213.7" y2="691.5" stroke="#000" stroke-width="0.9"/>
<line x1="202.4" y1="699.4" x2="213.8" y2="693.3" stroke="#000" stroke-width="0.9"/>
<line x1="201.2" y1="700" x2="212.7" y2="693.8" stroke="#000" stroke-width="0.9"/>
<line x1="201.7" y1="701.8" x2="213.2" y2="695.7" stroke="#000" stroke-width="0.9"/>
<line x1="200.8" y1="702.9" x2="212.3" y2="696.8" stroke="#000" stroke-width="0.9"/>
<line x1="201.6" y1="704.8" x2="213.1" y2="698.7" stroke="#000" stroke-width="0.9"/>
<line x1="201.1" y1="706.3" x2="212.6" y2="700.2" stroke="#000" stroke-width="0.9"/>
<line x1="202.1" y1="708.1" x2="213.6" y2="702" stroke="#000" stroke-width="0.9"/>
<line x1="202" y1="710" x2="213.5" y2="703.9" stroke="#000" stroke-width="0.9"/>
<line x1="203.2" y1="711.6" x2="214.7" y2="705.5" stroke="#000" stroke-width="0.9"/>
<line x1="203.5" y1="713.8" x2="215" y2="707.7" stroke="#000" stroke-width="0.9"/>
<line x1="204.8" y1="715.1" x2="216.3" y2="709" stroke="#000" stroke-width="0.9"/>
<line x1="205.5" y1="717.3" x2="217" y2="711.2" stroke="#000" stroke-width="0.9"/>
<line x1="206.8" y1="718.3" x2="218.3" y2="712.2" stroke="#000" stroke-width="0.9"/>
<line x1="207.8" y1="720.6" x2="219.3" y2="714.5" stroke="#000" stroke-width="0.9"/>
<line x1="209.2" y1="721.1" x2="220.6" y2="715" stroke="#000" stroke-width="0.9"/>
<line x1="210.4" y1="723.2" x2="221.9" y2="717.1" stroke="#000" stroke-width="0.9"/>
<line x1="211.6" y1="723.3" x2="223.1" y2="717.2" stroke="#000" stroke-width="0.9"/>
<line x1="213.1" y1="725.2" x2="224.6" y2="719.1" stroke="#000" stroke-width="0.9"/>
<line x1="214.2" y1="724.8" x2="225.6" y2="718.7" stroke="#000" stroke-width="0.9"/>
<line x1="215.8" y1="726.3" x2="227.2" y2="720.2" stroke="#000" stroke-width="0.9"/>
<line x1="216.5" y1="725.5" x2="228" y2="719.4" stroke="#000" stroke-width="0.9"/>
<line x1="218.2" y1="726.5" x2="229.6" y2="720.4" stroke="#000" stroke-width="0.9"/>
<line x1="218.7" y1="725.4" x2="230.1" y2="719.3" stroke="#000" stroke-width="0.9"/>
<polygon points="219,724.1 220.2,725.9 220.9,725.4 219.9,723.4 220.4,722.8 221.8,724.3 222.2,723.6 221,721.7 221.3,720.9 222.8,722 223,721 221.6,719.4 221.7,718.4 223.2,719.1 223.1,717.8 221.7,716.6 221.5,715.4 222.9,715.7 222.6,714.3 221.2,713.5 220.8,712.3 222,712 221.5,710.6 220.1,710.2 219.6,709 220.5,708.2 219.8,706.8 218.6,707 217.9,705.8 218.5,704.7 217.7,703.4 216.7,704 215.9,703 216.2,701.4 215.2,700.3 214.5,701.4 213.6,700.6 213.6,698.8 212.5,697.9 212.2,699.4 211.3,698.8 210.9,696.8 209.9,696.3 209.9,698.1 209,697.8 208.2,695.7 207.3,695.5 207.7,697.5 206.9,697.4 205.8,695.5 205,695.6 205.7,697.7 205,697.9 203.8,696.1 203.1,696.6 204.1,698.6 203.6,699.2 202.2,697.7 201.8,698.4 203,700.3 202.7,701.1 201.2,700 201,701 202.4,702.6 202.3,703.6 200.8,702.9 200.9,704.2 202.3,705.4 202.5,706.6 201.1,706.3 201.4,707.7 202.8,708.5 203.2,709.7 202,710 202.5,711.4 203.9,711.8 204.4,713 203.5,713.8 204.2,715.2 205.4,715 206.1,716.2 205.5,717.3 206.3,718.6 207.3,718 208.1,719 207.8,720.6 208.8,721.7 209.5,720.6 210.4,721.4 210.4,723.2 211.5,724.1 211.8,722.6 212.7,723.2 213.1,725.2 214.1,725.7 214.1,723.9 215,724.2 215.8,726.3 216.7,726.5 216.3,724.5 217.1,724.6 218.2,726.5 219,726.4 218.3,724.3" fill="#fff" stroke="#000" stroke-width="0.9" stroke-linejoin="round"/>
<ellipse class="t" cx="212" cy="711" rx="12.5" ry="6.5" transform="rotate(62 212 711)" />
<polygon points="682.2,641.6 683.6,643.5 684.3,643.1 683.2,640.9 683.8,640.4 685.3,642.3 685.9,641.7 684.7,639.6 685.2,639 686.8,640.7 687.3,640 686,638 686.4,637.3 688.1,638.8 688.5,638.1 687.1,636.1 687.4,635.3 689.1,636.7 689.4,635.8 687.9,634 688.2,633.1 689.9,634.3 690.1,633.3 688.5,631.6 688.7,630.7 690.4,631.7 690.5,630.6 688.9,629.1 689,628 690.7,628.8 690.7,627.7 689,626.3 689,625.2 690.7,625.8 690.6,624.6 688.9,623.4 688.8,622.3 690.4,622.7 690.2,621.4 688.6,620.4 688.3,619.2 689.9,619.4 689.6,618.1 687.9,617.3 687.6,616.1 689.1,616 688.7,614.7 687.1,614.1 686.7,612.9 688.1,612.6 687.6,611.3 686,611 685.6,609.7 686.8,609.2 686.3,607.9 684.7,607.8 684.2,606.6 685.3,605.8 684.7,604.5 683.2,604.6 682.6,603.4 683.6,602.5 682.9,601.2 681.6,601.6 680.9,600.4 681.7,599.3 681,598.1 679.7,598.6 679,597.5 679.7,596.1 678.9,595 677.7,595.7 676.9,594.7 677.5,593.2 676.6,592.1 675.6,593.1 674.7,592.1 675.1,590.4 674.2,589.4 673.3,590.6 672.5,589.7 672.7,587.9 671.7,587 671,588.3 670.1,587.5 670.2,585.6 669.2,584.8 668.6,586.3 667.7,585.6 667.6,583.5 666.6,582.8 666.2,584.5 665.3,583.9 665,581.8 664,581.2 663.8,583 662.8,582.5 662.4,580.3 661.4,579.9 661.3,581.8 660.4,581.4 659.8,579.2 658.8,578.9 658.9,580.9 658,580.7 657.3,578.4 656.3,578.2 656.6,580.3 655.8,580.2 654.8,578 653.9,577.9 654.4,580.1 653.5,580.1 652.5,577.9 651.6,577.9 652.2,580.1 651.5,580.2 650.3,578.1 649.5,578.3 650.2,580.5 649.5,580.7 648.2,578.7 647.5,579 648.4,581.2 647.7,581.6 646.3,579.6 645.6,580.1 646.7,582.2 646.1,582.7 644.6,580.9 644,581.4 645.2,583.6 644.7,584.1 643.1,582.4 642.6,583.1 643.9,585.2 643.5,585.8 641.9,584.3 641.4,585.1 642.9,587 642.5,587.8 640.8,586.4 640.5,587.3 642,589.2 641.7,590 640.1,588.8 639.8,589.8 641.4,591.5 641.2,592.5 639.5,591.5 639.4,592.5 641,594.1 640.9,595.1 639.3,594.3 639.2,595.4 640.9,596.8 640.9,597.9 639.3,597.3 639.3,598.5 641,599.7 641.1,600.8 639.5,600.5 639.7,601.7 641.4,602.7 641.6,603.9 640,603.8 640.3,605 642,605.8 642.3,607 640.8,607.1 641.2,608.4 642.8,609 643.2,610.2 641.9,610.5 642.3,611.8 643.9,612.2 644.4,613.4 643.1,613.9 643.7,615.2 645.2,615.4 645.8,616.6 644.6,617.3 645.2,618.6 646.7,618.5 647.3,619.7 646.3,620.7 647,621.9 648.4,621.6 649.1,622.7 648.2,623.9 649,625.1 650.2,624.6 651,625.7 650.3,627 651.1,628.1 652.2,627.4 653,628.4 652.5,630 653.3,631 654.4,630.1 655.2,631 654.8,632.7 655.7,633.7 656.6,632.6 657.5,633.4 657.3,635.3 658.2,636.2 658.9,634.8 659.8,635.6 659.8,637.6 660.8,638.4 661.3,636.9 662.2,637.6 662.4,639.6 663.3,640.3 663.7,638.6 664.7,639.2 665,641.3 666,641.9 666.2,640.1 667.1,640.6 667.6,642.8 668.6,643.3 668.6,641.3 669.5,641.7 670.1,643.9 671.1,644.3 671,642.2 671.9,642.5 672.7,644.7 673.6,644.9 673.3,642.8 674.2,642.9 675.1,645.2 676,645.2 675.6,643.1 676.4,643.1 677.5,645.3 678.3,645.2 677.7,643 678.5,642.9 679.7,645 680.5,644.8 679.7,642.6 680.4,642.4 681.7,644.4 682.5,644.1 681.6,641.9" fill="#fff" stroke="#000" stroke-width="0.9" stroke-linejoin="round"/>
<polygon points="672.2,647.3 682.2,641.6 647.7,581.6 637.8,587.3" fill="#fff" stroke="none"/>
<line x1="673.7" y1="649.3" x2="683.6" y2="643.5" stroke="#000" stroke-width="0.9"/>
<line x1="673.8" y1="647.7" x2="683.8" y2="642" stroke="#000" stroke-width="0.9"/>
<line x1="675.4" y1="648" x2="685.3" y2="642.3" stroke="#000" stroke-width="0.9"/>
<line x1="675.4" y1="646.4" x2="685.3" y2="640.6" stroke="#000" stroke-width="0.9"/>
<line x1="676.8" y1="646.4" x2="686.8" y2="640.7" stroke="#000" stroke-width="0.9"/>
<line x1="676.7" y1="644.7" x2="686.7" y2="639" stroke="#000" stroke-width="0.9"/>
<line x1="678.1" y1="644.6" x2="688.1" y2="638.8" stroke="#000" stroke-width="0.9"/>
<line x1="677.8" y1="642.8" x2="687.8" y2="637.1" stroke="#000" stroke-width="0.9"/>
<line x1="679.1" y1="642.4" x2="689.1" y2="636.7" stroke="#000" stroke-width="0.9"/>
<line x1="678.7" y1="640.6" x2="688.7" y2="634.9" stroke="#000" stroke-width="0.9"/>
<line x1="679.9" y1="640" x2="689.9" y2="634.3" stroke="#000" stroke-width="0.9"/>
<line x1="679.4" y1="638.2" x2="689.3" y2="632.5" stroke="#000" stroke-width="0.9"/>
<line x1="680.4" y1="637.4" x2="690.4" y2="631.7" stroke="#000" stroke-width="0.9"/>
<line x1="679.8" y1="635.6" x2="689.7" y2="629.8" stroke="#000" stroke-width="0.9"/>
<line x1="680.7" y1="634.6" x2="690.7" y2="628.8" stroke="#000" stroke-width="0.9"/>
<line x1="679.9" y1="632.7" x2="689.9" y2="627" stroke="#000" stroke-width="0.9"/>
<line x1="680.7" y1="631.5" x2="690.7" y2="625.8" stroke="#000" stroke-width="0.9"/>
<line x1="679.8" y1="629.8" x2="689.8" y2="624" stroke="#000" stroke-width="0.9"/>
<line x1="680.4" y1="628.4" x2="690.4" y2="622.7" stroke="#000" stroke-width="0.9"/>
<line x1="679.4" y1="626.6" x2="689.4" y2="620.9" stroke="#000" stroke-width="0.9"/>
<line x1="679.9" y1="625.1" x2="689.9" y2="619.4" stroke="#000" stroke-width="0.9"/>
<line x1="678.8" y1="623.4" x2="688.8" y2="617.7" stroke="#000" stroke-width="0.9"/>
<line x1="679.1" y1="621.8" x2="689.1" y2="616" stroke="#000" stroke-width="0.9"/>
<line x1="677.9" y1="620.2" x2="687.9" y2="614.4" stroke="#000" stroke-width="0.9"/>
<line x1="678.1" y1="618.4" x2="688.1" y2="612.6" stroke="#000" stroke-width="0.9"/>
<line x1="676.9" y1="616.9" x2="686.8" y2="611.1" stroke="#000" stroke-width="0.9"/>
<line x1="676.8" y1="614.9" x2="686.8" y2="609.2" stroke="#000" stroke-width="0.9"/>
<line x1="675.5" y1="613.6" x2="685.5" y2="607.8" stroke="#000" stroke-width="0.9"/>
<line x1="675.4" y1="611.5" x2="685.3" y2="605.8" stroke="#000" stroke-width="0.9"/>
<line x1="674" y1="610.3" x2="684" y2="604.6" stroke="#000" stroke-width="0.9"/>
<line x1="673.7" y1="608.2" x2="683.6" y2="602.5" stroke="#000" stroke-width="0.9"/>
<line x1="672.3" y1="607.1" x2="682.2" y2="601.4" stroke="#000" stroke-width="0.9"/>
<line x1="671.8" y1="605" x2="681.7" y2="599.3" stroke="#000" stroke-width="0.9"/>
<line x1="670.4" y1="604" x2="680.3" y2="598.3" stroke="#000" stroke-width="0.9"/>
<line x1="669.7" y1="601.9" x2="679.7" y2="596.1" stroke="#000" stroke-width="0.9"/>
<line x1="668.3" y1="601.1" x2="678.3" y2="595.4" stroke="#000" stroke-width="0.9"/>
<line x1="667.5" y1="598.9" x2="677.5" y2="593.2" stroke="#000" stroke-width="0.9"/>
<line x1="666.1" y1="598.3" x2="676.1" y2="592.6" stroke="#000" stroke-width="0.9"/>
<line x1="665.2" y1="596.2" x2="675.1" y2="590.4" stroke="#000" stroke-width="0.9"/>
<line x1="663.8" y1="595.7" x2="673.8" y2="590" stroke="#000" stroke-width="0.9"/>
<line x1="662.7" y1="593.6" x2="672.7" y2="587.9" stroke="#000" stroke-width="0.9"/>
<line x1="661.4" y1="593.4" x2="671.4" y2="587.6" stroke="#000" stroke-width="0.9"/>
<line x1="660.2" y1="591.3" x2="670.2" y2="585.6" stroke="#000" stroke-width="0.9"/>
<line x1="658.9" y1="591.2" x2="668.9" y2="585.5" stroke="#000" stroke-width="0.9"/>
<line x1="657.6" y1="589.3" x2="667.6" y2="583.5" stroke="#000" stroke-width="0.9"/>
<line x1="656.4" y1="589.4" x2="666.4" y2="583.7" stroke="#000" stroke-width="0.9"/>
<line x1="655" y1="587.5" x2="665" y2="581.8" stroke="#000" stroke-width="0.9"/>
<line x1="653.9" y1="587.8" x2="663.9" y2="582.1" stroke="#000" stroke-width="0.9"/>
<line x1="652.4" y1="586.1" x2="662.4" y2="580.3" stroke="#000" stroke-width="0.9"/>
<line x1="651.4" y1="586.6" x2="661.4" y2="580.8" stroke="#000" stroke-width="0.9"/>
<line x1="649.8" y1="585" x2="659.8" y2="579.2" stroke="#000" stroke-width="0.9"/>
<line x1="648.9" y1="585.6" x2="658.9" y2="579.9" stroke="#000" stroke-width="0.9"/>
<line x1="647.3" y1="584.2" x2="657.3" y2="578.4" stroke="#000" stroke-width="0.9"/>
<line x1="646.5" y1="585" x2="656.5" y2="579.3" stroke="#000" stroke-width="0.9"/>
<line x1="644.9" y1="583.7" x2="654.8" y2="578" stroke="#000" stroke-width="0.9"/>
<line x1="644.2" y1="584.7" x2="654.1" y2="579" stroke="#000" stroke-width="0.9"/>
<line x1="642.5" y1="583.6" x2="652.5" y2="577.9" stroke="#000" stroke-width="0.9"/>
<line x1="642" y1="584.8" x2="651.9" y2="579" stroke="#000" stroke-width="0.9"/>
<line x1="640.3" y1="583.8" x2="650.3" y2="578.1" stroke="#000" stroke-width="0.9"/>
<line x1="639.9" y1="585.1" x2="649.8" y2="579.4" stroke="#000" stroke-width="0.9"/>
<line x1="638.2" y1="584.4" x2="648.2" y2="578.7" stroke="#000" stroke-width="0.9"/>
<line x1="638" y1="585.8" x2="647.9" y2="580.1" stroke="#000" stroke-width="0.9"/>
<line x1="636.3" y1="585.3" x2="646.3" y2="579.6" stroke="#000" stroke-width="0.9"/>
<line x1="636.2" y1="586.9" x2="646.2" y2="581.1" stroke="#000" stroke-width="0.9"/>
<line x1="634.6" y1="586.6" x2="644.6" y2="580.9" stroke="#000" stroke-width="0.9"/>
<line x1="634.6" y1="588.2" x2="644.6" y2="582.5" stroke="#000" stroke-width="0.9"/>
<line x1="633.2" y1="588.2" x2="643.1" y2="582.4" stroke="#000" stroke-width="0.9"/>
<line x1="633.3" y1="589.9" x2="643.3" y2="584.1" stroke="#000" stroke-width="0.9"/>
<line x1="631.9" y1="590" x2="641.9" y2="584.3" stroke="#000" stroke-width="0.9"/>
<line x1="632.2" y1="591.8" x2="642.1" y2="586.1" stroke="#000" stroke-width="0.9"/>
<line x1="630.9" y1="592.2" x2="640.8" y2="586.4" stroke="#000" stroke-width="0.9"/>
<line x1="631.3" y1="594" x2="641.3" y2="588.2" stroke="#000" stroke-width="0.9"/>
<line x1="630.1" y1="594.6" x2="640.1" y2="588.8" stroke="#000" stroke-width="0.9"/>
<line x1="630.6" y1="596.4" x2="640.6" y2="590.7" stroke="#000" stroke-width="0.9"/>
<line x1="629.6" y1="597.2" x2="639.5" y2="591.5" stroke="#000" stroke-width="0.9"/>
<line x1="630.2" y1="599" x2="640.2" y2="593.3" stroke="#000" stroke-width="0.9"/>
<line x1="629.3" y1="600" x2="639.3" y2="594.3" stroke="#000" stroke-width="0.9"/>
<line x1="630.1" y1="601.9" x2="640.1" y2="596.1" stroke="#000" stroke-width="0.9"/>
<line x1="629.3" y1="603.1" x2="639.3" y2="597.3" stroke="#000" stroke-width="0.9"/>
<line x1="630.2" y1="604.8" x2="640.2" y2="599.1" stroke="#000" stroke-width="0.9"/>
<line x1="629.6" y1="606.2" x2="639.5" y2="600.5" stroke="#000" stroke-width="0.9"/>
<line x1="630.6" y1="608" x2="640.5" y2="602.2" stroke="#000" stroke-width="0.9"/>
<line x1="630.1" y1="609.5" x2="640" y2="603.8" stroke="#000" stroke-width="0.9"/>
<line x1="631.2" y1="611.2" x2="641.2" y2="605.4" stroke="#000" stroke-width="0.9"/>
<line x1="630.9" y1="612.8" x2="640.8" y2="607.1" stroke="#000" stroke-width="0.9"/>
<line x1="632.1" y1="614.4" x2="642" y2="608.7" stroke="#000" stroke-width="0.9"/>
<line x1="631.9" y1="616.2" x2="641.9" y2="610.5" stroke="#000" stroke-width="0.9"/>
<line x1="633.1" y1="617.7" x2="643.1" y2="612" stroke="#000" stroke-width="0.9"/>
<line x1="633.2" y1="619.7" x2="643.1" y2="613.9" stroke="#000" stroke-width="0.9"/>
<line x1="634.5" y1="621" x2="644.4" y2="615.3" stroke="#000" stroke-width="0.9"/>
<line x1="634.6" y1="623.1" x2="644.6" y2="617.3" stroke="#000" stroke-width="0.9"/>
<line x1="636" y1="624.3" x2="646" y2="618.6" stroke="#000" stroke-width="0.9"/>
<line x1="636.3" y1="626.4" x2="646.3" y2="620.7" stroke="#000" stroke-width="0.9"/>
<line x1="637.7" y1="627.5" x2="647.7" y2="621.7" stroke="#000" stroke-width="0.9"/>
<line x1="638.2" y1="629.6" x2="648.2" y2="623.9" stroke="#000" stroke-width="0.9"/>
<line x1="639.6" y1="630.6" x2="649.6" y2="624.8" stroke="#000" stroke-width="0.9"/>
<line x1="640.3" y1="632.7" x2="650.3" y2="627" stroke="#000" stroke-width="0.9"/>
<line x1="641.7" y1="633.5" x2="651.7" y2="627.8" stroke="#000" stroke-width="0.9"/>
<line x1="642.5" y1="635.7" x2="652.5" y2="630" stroke="#000" stroke-width="0.9"/>
<line x1="643.9" y1="636.3" x2="653.9" y2="630.6" stroke="#000" stroke-width="0.9"/>
<line x1="644.8" y1="638.4" x2="654.8" y2="632.7" stroke="#000" stroke-width="0.9"/>
<line x1="646.2" y1="638.9" x2="656.2" y2="633.1" stroke="#000" stroke-width="0.9"/>
<line x1="647.3" y1="641" x2="657.3" y2="635.3" stroke="#000" stroke-width="0.9"/>
<line x1="648.6" y1="641.2" x2="658.6" y2="635.5" stroke="#000" stroke-width="0.9"/>
<line x1="649.8" y1="643.3" x2="659.8" y2="637.6" stroke="#000" stroke-width="0.9"/>
<line x1="651.1" y1="643.4" x2="661" y2="637.6" stroke="#000" stroke-width="0.9"/>
<line x1="652.4" y1="645.3" x2="662.4" y2="639.6" stroke="#000" stroke-width="0.9"/>
<line x1="653.6" y1="645.2" x2="663.6" y2="639.5" stroke="#000" stroke-width="0.9"/>
<line x1="655" y1="647.1" x2="665" y2="641.3" stroke="#000" stroke-width="0.9"/>
<line x1="656.1" y1="646.8" x2="666.1" y2="641" stroke="#000" stroke-width="0.9"/>
<line x1="657.6" y1="648.5" x2="667.6" y2="642.8" stroke="#000" stroke-width="0.9"/>
<line x1="658.6" y1="648" x2="668.6" y2="642.3" stroke="#000" stroke-width="0.9"/>
<line x1="660.2" y1="649.6" x2="670.1" y2="643.9" stroke="#000" stroke-width="0.9"/>
<line x1="661.1" y1="649" x2="671.1" y2="643.2" stroke="#000" stroke-width="0.9"/>
<line x1="662.7" y1="650.4" x2="672.7" y2="644.7" stroke="#000" stroke-width="0.9"/>
<line x1="663.5" y1="649.6" x2="673.5" y2="643.9" stroke="#000" stroke-width="0.9"/>
<line x1="665.1" y1="650.9" x2="675.1" y2="645.2" stroke="#000" stroke-width="0.9"/>
<line x1="665.8" y1="649.9" x2="675.8" y2="644.2" stroke="#000" stroke-width="0.9"/>
<line x1="667.5" y1="651" x2="677.5" y2="645.3" stroke="#000" stroke-width="0.9"/>
<line x1="668" y1="649.8" x2="678" y2="644.1" stroke="#000" stroke-width="0.9"/>
<line x1="669.7" y1="650.8" x2="679.7" y2="645" stroke="#000" stroke-width="0.9"/>
<line x1="670.1" y1="649.5" x2="680.1" y2="643.7" stroke="#000" stroke-width="0.9"/>
<line x1="671.8" y1="650.2" x2="681.7" y2="644.4" stroke="#000" stroke-width="0.9"/>
<line x1="672" y1="648.8" x2="682" y2="643" stroke="#000" stroke-width="0.9"/>
<polygon points="672.2,647.3 673.7,649.3 674.3,648.8 673.3,646.6 673.9,646.2 675.4,648 675.9,647.4 674.8,645.3 675.3,644.7 676.8,646.4 677.4,645.8 676,643.7 676.5,643 678.1,644.6 678.5,643.8 677.1,641.8 677.5,641.1 679.1,642.4 679.5,641.6 678,639.7 678.2,638.8 679.9,640 680.1,639.1 678.6,637.4 678.7,636.4 680.4,637.4 680.6,636.3 678.9,634.8 679,633.8 680.7,634.6 680.7,633.4 679.1,632.1 679.1,631 680.7,631.5 680.6,630.4 678.9,629.2 678.8,628 680.4,628.4 680.3,627.2 678.6,626.1 678.4,625 679.9,625.1 679.7,623.8 678,623 677.7,621.8 679.1,621.8 678.8,620.5 677.1,619.9 676.7,618.7 678.1,618.4 677.7,617.1 676,616.7 675.6,615.5 676.8,614.9 676.3,613.6 674.8,613.5 674.2,612.3 675.4,611.5 674.7,610.3 673.3,610.4 672.7,609.2 673.7,608.2 673,607 671.6,607.3 670.9,606.1 671.8,605 671,603.8 669.7,604.3 669,603.2 669.7,601.9 668.9,600.7 667.7,601.5 666.9,600.4 667.5,598.9 666.6,597.8 665.6,598.8 664.8,597.8 665.2,596.2 664.2,595.2 663.4,596.3 662.5,595.4 662.7,593.6 661.8,592.7 661,594 660.1,593.2 660.2,591.3 659.2,590.5 658.7,592 657.7,591.3 657.6,589.3 656.6,588.6 656.2,590.2 655.3,589.6 655,587.5 654,586.9 653.8,588.7 652.9,588.2 652.4,586.1 651.4,585.6 651.4,587.5 650.4,587.2 649.8,585 648.9,584.6 649,586.6 648.1,586.4 647.3,584.2 646.4,584 646.6,586.1 645.8,585.9 644.9,583.7 644,583.6 644.4,585.8 643.6,585.8 642.5,583.6 641.7,583.7 642.3,585.9 641.5,586 640.3,583.8 639.5,584 640.3,586.2 639.5,586.5 638.2,584.4 637.5,584.7 638.4,587 637.8,587.3 636.3,585.3 635.7,585.8 636.7,588 636.1,588.4 634.6,586.6 634.1,587.2 635.2,589.3 634.7,589.9 633.2,588.2 632.6,588.8 634,590.9 633.5,591.6 631.9,590 631.5,590.8 632.9,592.8 632.5,593.5 630.9,592.2 630.5,593 632,594.9 631.8,595.8 630.1,594.6 629.9,595.5 631.4,597.2 631.3,598.2 629.6,597.2 629.4,598.3 631.1,599.8 631,600.8 629.3,600 629.3,601.2 630.9,602.5 630.9,603.6 629.3,603.1 629.4,604.2 631.1,605.4 631.2,606.6 629.6,606.2 629.7,607.4 631.4,608.5 631.6,609.6 630.1,609.5 630.3,610.8 632,611.6 632.3,612.8 630.9,612.8 631.2,614.1 632.9,614.7 633.3,615.9 631.9,616.2 632.3,617.5 634,617.9 634.4,619.1 633.2,619.7 633.7,621 635.2,621.1 635.8,622.3 634.6,623.1 635.3,624.3 636.7,624.2 637.3,625.4 636.3,626.4 637,627.6 638.4,627.3 639.1,628.5 638.2,629.6 639,630.8 640.3,630.3 641,631.4 640.3,632.7 641.1,633.9 642.3,633.1 643.1,634.2 642.5,635.7 643.4,636.8 644.4,635.8 645.2,636.8 644.8,638.4 645.8,639.4 646.6,638.3 647.5,639.2 647.3,641 648.2,641.9 649,640.6 649.9,641.4 649.8,643.3 650.8,644.1 651.3,642.6 652.3,643.3 652.4,645.3 653.4,646 653.8,644.4 654.7,645 655,647.1 656,647.7 656.2,645.9 657.1,646.4 657.6,648.5 658.6,649 658.6,647.1 659.6,647.4 660.2,649.6 661.1,650 661,648 661.9,648.2 662.7,650.4 663.6,650.6 663.4,648.5 664.2,648.7 665.1,650.9 666,651 665.6,648.8 666.4,648.8 667.5,651 668.3,650.9 667.7,648.7 668.5,648.6 669.7,650.8 670.5,650.6 669.7,648.4 670.5,648.1 671.8,650.2 672.5,649.9 671.6,647.6" fill="#fff" stroke="#000" stroke-width="0.9" stroke-linejoin="round"/>
<ellipse class="t" cx="655" cy="617.3" rx="32" ry="17.9" transform="rotate(60.1 655 617.3)" />
<ellipse class="l" cx="655" cy="617.3" rx="29.5" ry="16.5" transform="rotate(60.1 655 617.3)" />
<ellipse class="t" cx="658.5" cy="615.3" rx="27" ry="15.1" transform="rotate(60.1 658.5 615.3)" />
<ellipse class="l" cx="672.3" cy="621.7" rx="3.4" ry="1.7" transform="rotate(60 672.3 621.7)" />
<ellipse class="l" cx="656.3" cy="598.1" rx="3.4" ry="1.7" transform="rotate(60 656.3 598.1)" />
<ellipse class="l" cx="644.6" cy="608.2" rx="3.4" ry="1.7" transform="rotate(-50 644.6 608.2)" />
<ellipse class="l" cx="660.1" cy="632.3" rx="3.4" ry="1.7" transform="rotate(-50 660.1 632.3)" />
<ellipse class="l" cx="658.5" cy="615.3" rx="15.5" ry="8.7" transform="rotate(60.1 658.5 615.3)" />
<ellipse class="t" cx="658.5" cy="615.3" rx="13" ry="7.3" transform="rotate(60.1 658.5 615.3)" />
<ellipse cx="652.8" cy="620" rx="12.3" ry="7.4" transform="rotate(60.1 652.8 620)" fill="#fff" stroke="#000" stroke-width="1.0" stroke-linejoin="round" stroke-linecap="round"/>
<polygon points="651.1,635.2 658.9,630.7 646.7,609.4 638.9,613.8" fill="#fff" stroke="none"/>
<line x1="651.1" y1="635.2" x2="658.9" y2="630.7" stroke="#000" stroke-width="1.0" stroke-linejoin="round" stroke-linecap="round"/>
<line x1="638.9" y1="613.8" x2="646.7" y2="609.4" stroke="#000" stroke-width="1.0" stroke-linejoin="round" stroke-linecap="round"/>
<ellipse cx="645" cy="624.5" rx="12.3" ry="7.4" transform="rotate(60.1 645 624.5)" fill="#fff" stroke="#000" stroke-width="1.0" stroke-linejoin="round" stroke-linecap="round"/>
<ellipse class="t" cx="645" cy="624.5" rx="10.5" ry="6.3" transform="rotate(60.1 645 624.5)" />
<ellipse class="l" cx="645" cy="624.5" rx="8" ry="4.8" transform="rotate(60.1 645 624.5)" />
<ellipse class="l" cx="645.7" cy="624.1" rx="6" ry="3.6" transform="rotate(60.1 645.7 624.1)" style="fill:#666"/>
<ellipse cx="253.2" cy="882.8" rx="37.5" ry="25" transform="rotate(59.5 253.2 882.8)" fill="#fff" stroke="#000" stroke-width="1.0" stroke-linejoin="round" stroke-linecap="round"/>
<polygon points="252.8,926.6 272.2,915.1 234.2,850.5 214.7,861.9" fill="#fff" stroke="none"/>
<line x1="252.8" y1="926.6" x2="272.2" y2="915.1" stroke="#000" stroke-width="1.0" stroke-linejoin="round" stroke-linecap="round"/>
<line x1="214.7" y1="861.9" x2="234.2" y2="850.5" stroke="#000" stroke-width="1.0" stroke-linejoin="round" stroke-linecap="round"/>
<ellipse cx="233.8" cy="894.2" rx="37.5" ry="25" transform="rotate(59.5 233.8 894.2)" fill="#fff" stroke="#000" stroke-width="1.0" stroke-linejoin="round" stroke-linecap="round"/>
<ellipse class="l" cx="239.6" cy="854.8" rx="1.6" ry="2.4" transform="rotate(20 239.6 854.8)" />
<ellipse class="t" cx="239.9" cy="854.8" rx="1" ry="1.7" transform="rotate(20 239.9 854.8)" />
<ellipse class="l" cx="248.5" cy="850.8" rx="1.6" ry="2.4" transform="rotate(20 248.5 850.8)" />
<ellipse class="t" cx="248.8" cy="850.8" rx="1" ry="1.7" transform="rotate(20 248.8 850.8)" />
<ellipse class="l" cx="260.5" cy="870.8" rx="1.6" ry="2.4" transform="rotate(20 260.5 870.8)" />
<ellipse class="t" cx="260.8" cy="870.8" rx="1" ry="1.7" transform="rotate(20 260.8 870.8)" />
<ellipse class="l" cx="270" cy="866" rx="1.6" ry="2.4" transform="rotate(20 270 866)" />
<ellipse class="t" cx="270.3" cy="866" rx="1" ry="1.7" transform="rotate(20 270.3 866)" />
<ellipse class="l" cx="270.9" cy="900.4" rx="1.6" ry="2.4" transform="rotate(20 270.9 900.4)" />
<ellipse class="t" cx="271.2" cy="900.4" rx="1" ry="1.7" transform="rotate(20 271.2 900.4)" />
<ellipse class="l" cx="280.5" cy="895.6" rx="1.6" ry="2.4" transform="rotate(20 280.5 895.6)" />
<ellipse class="t" cx="280.8" cy="895.6" rx="1" ry="1.7" transform="rotate(20 280.8 895.6)" />
<polygon points="254.5,929.6 256.4,932 257.5,931.2 256.2,928.5 257.1,927.7 259.2,929.9 260.1,929 258.6,926.4 259.4,925.4 261.6,927.4 262.4,926.3 260.7,923.8 261.4,922.7 263.6,924.4 264.3,923.2 262.4,920.8 262.9,919.6 265.2,921 265.7,919.6 263.7,917.5 264.1,916.1 266.4,917.3 266.8,915.8 264.6,913.9 264.8,912.4 267.2,913.2 267.3,911.6 265.1,909.9 265.2,908.4 267.5,908.9 267.5,907.2 265.2,905.8 265.1,904.2 267.3,904.4 267.2,902.6 264.8,901.6 264.6,899.9 266.7,899.8 266.4,898 264,897.2 263.6,895.5 265.7,895 265.2,893.2 262.9,892.8 262.3,891.1 264.2,890.3 263.5,888.5 261.3,888.4 260.6,886.7 262.3,885.6 261.5,883.9 259.3,884.1 258.5,882.5 260,881 259.1,879.4 257,879.9 256.1,878.3 257.4,876.7 256.3,875.1 254.4,875.9 253.4,874.4 254.4,872.5 253.2,871 251.5,872.2 250.4,870.8 251.2,868.7 249.9,867.3 248.4,868.7 247.2,867.5 247.7,865.2 246.4,863.9 245.1,865.6 243.8,864.6 244.1,862 242.6,861 241.6,862.9 240.3,862 240.3,859.4 238.8,858.5 238,860.6 236.6,859.9 236.4,857.1 234.9,856.4 234.4,858.8 233,858.3 232.5,855.4 231,854.9 230.7,857.5 229.3,857.1 228.6,854.3 227.1,854 227.1,856.6 225.8,856.4 224.7,853.6 223.3,853.5 223.6,856.3 222.3,856.3 221,853.5 219.6,853.6 220.2,856.5 219,856.7 217.5,854 216.2,854.3 217,857.1 215.8,857.5 214.2,855 213,855.5 214,858.3 213,858.9 211.1,856.5 210,857.2 211.3,860 210.4,860.7 208.4,858.6 207.4,859.5 208.9,862.1 208.1,863 205.9,861.1 205.1,862.2 206.9,864.7 206.2,865.8 203.9,864.1 203.3,865.3 205.2,867.7 204.6,868.9 202.3,867.4 201.8,868.8 203.8,871 203.4,872.3 201.1,871.2 200.8,872.7 202.9,874.6 202.7,876.1 200.3,875.2 200.2,876.9 202.4,878.5 202.3,880.1 200,879.6 200,881.3 202.4,882.6 202.4,884.3 200.2,884.1 200.4,885.8 202.7,886.9 203,888.6 200.8,888.7 201.1,890.5 203.5,891.3 203.9,893 201.8,893.4 202.4,895.2 204.7,895.7 205.2,897.4 203.3,898.2 204,900 206.2,900.1 206.9,901.8 205.2,902.9 206,904.6 208.2,904.4 209,906 207.5,907.4 208.5,909.1 210.5,908.6 211.4,910.1 210.1,911.8 211.2,913.4 213.1,912.6 214.2,914 213.1,916 214.3,917.5 216,916.3 217.1,917.7 216.3,919.8 217.6,921.2 219.1,919.7 220.3,921 219.8,923.3 221.2,924.6 222.4,922.8 223.7,923.9 223.5,926.4 224.9,927.5 225.9,925.5 227.3,926.5 227.2,929.1 228.7,930 229.5,927.8 230.9,928.6 231.1,931.3 232.6,932 233.1,929.7 234.5,930.2 235.1,933 236.5,933.5 236.8,931 238.2,931.4 239,934.2 240.4,934.5 240.4,931.9 241.8,932 242.8,934.9 244.2,935 243.9,932.2 245.2,932.2 246.5,934.9 247.9,934.8 247.3,932 248.5,931.8 250,934.5 251.3,934.2 250.5,931.3 251.7,930.9 253.4,933.5 254.6,933 253.5,930.2" fill="#fff" stroke="#000" stroke-width="0.9" stroke-linejoin="round"/>
<polygon points="246.8,934.1 254.5,929.6 213,858.9 205.2,863.5" fill="#fff" stroke="none"/>
<line x1="248.7" y1="936.5" x2="256.4" y2="932" stroke="#000" stroke-width="0.9"/>
<line x1="249.1" y1="934.4" x2="256.8" y2="929.9" stroke="#000" stroke-width="0.9"/>
<line x1="251.4" y1="934.5" x2="259.2" y2="929.9" stroke="#000" stroke-width="0.9"/>
<line x1="251.6" y1="932.2" x2="259.4" y2="927.7" stroke="#000" stroke-width="0.9"/>
<line x1="253.8" y1="931.9" x2="261.6" y2="927.4" stroke="#000" stroke-width="0.9"/>
<line x1="253.8" y1="929.6" x2="261.5" y2="925" stroke="#000" stroke-width="0.9"/>
<line x1="255.8" y1="929" x2="263.6" y2="924.4" stroke="#000" stroke-width="0.9"/>
<line x1="255.6" y1="926.6" x2="263.3" y2="922" stroke="#000" stroke-width="0.9"/>
<line x1="257.5" y1="925.6" x2="265.2" y2="921" stroke="#000" stroke-width="0.9"/>
<line x1="256.9" y1="923.1" x2="264.7" y2="918.6" stroke="#000" stroke-width="0.9"/>
<line x1="258.7" y1="921.8" x2="266.4" y2="917.3" stroke="#000" stroke-width="0.9"/>
<line x1="257.9" y1="919.4" x2="265.7" y2="914.8" stroke="#000" stroke-width="0.9"/>
<line x1="259.4" y1="917.8" x2="267.2" y2="913.2" stroke="#000" stroke-width="0.9"/>
<line x1="258.5" y1="915.3" x2="266.2" y2="910.8" stroke="#000" stroke-width="0.9"/>
<line x1="259.7" y1="913.5" x2="267.5" y2="908.9" stroke="#000" stroke-width="0.9"/>
<line x1="258.6" y1="911.1" x2="266.3" y2="906.5" stroke="#000" stroke-width="0.9"/>
<line x1="259.6" y1="909" x2="267.3" y2="904.4" stroke="#000" stroke-width="0.9"/>
<line x1="258.2" y1="906.7" x2="266" y2="902.1" stroke="#000" stroke-width="0.9"/>
<line x1="259" y1="904.3" x2="266.7" y2="899.8" stroke="#000" stroke-width="0.9"/>
<line x1="257.4" y1="902.1" x2="265.2" y2="897.6" stroke="#000" stroke-width="0.9"/>
<line x1="257.9" y1="899.6" x2="265.7" y2="895" stroke="#000" stroke-width="0.9"/>
<line x1="256.2" y1="897.5" x2="264" y2="893" stroke="#000" stroke-width="0.9"/>
<line x1="256.4" y1="894.9" x2="264.2" y2="890.3" stroke="#000" stroke-width="0.9"/>
<line x1="254.6" y1="893" x2="262.4" y2="888.4" stroke="#000" stroke-width="0.9"/>
<line x1="254.5" y1="890.2" x2="262.3" y2="885.6" stroke="#000" stroke-width="0.9"/>
<line x1="252.6" y1="888.5" x2="260.4" y2="884" stroke="#000" stroke-width="0.9"/>
<line x1="252.3" y1="885.6" x2="260" y2="881" stroke="#000" stroke-width="0.9"/>
<line x1="250.3" y1="884.2" x2="258" y2="879.6" stroke="#000" stroke-width="0.9"/>
<line x1="249.6" y1="881.2" x2="257.4" y2="876.7" stroke="#000" stroke-width="0.9"/>
<line x1="247.6" y1="880" x2="255.4" y2="875.5" stroke="#000" stroke-width="0.9"/>
<line x1="246.7" y1="877.1" x2="254.4" y2="872.5" stroke="#000" stroke-width="0.9"/>
<line x1="244.6" y1="876.1" x2="252.4" y2="871.6" stroke="#000" stroke-width="0.9"/>
<line x1="243.4" y1="873.2" x2="251.2" y2="868.7" stroke="#000" stroke-width="0.9"/>
<line x1="241.4" y1="872.6" x2="249.1" y2="868" stroke="#000" stroke-width="0.9"/>
<line x1="240" y1="869.7" x2="247.7" y2="865.2" stroke="#000" stroke-width="0.9"/>
<line x1="238" y1="869.3" x2="245.7" y2="864.8" stroke="#000" stroke-width="0.9"/>
<line x1="236.3" y1="866.6" x2="244.1" y2="862" stroke="#000" stroke-width="0.9"/>
<line x1="234.4" y1="866.5" x2="242.1" y2="861.9" stroke="#000" stroke-width="0.9"/>
<line x1="232.5" y1="863.9" x2="240.3" y2="859.4" stroke="#000" stroke-width="0.9"/>
<line x1="230.6" y1="864.1" x2="238.4" y2="859.5" stroke="#000" stroke-width="0.9"/>
<line x1="228.6" y1="861.7" x2="236.4" y2="857.1" stroke="#000" stroke-width="0.9"/>
<line x1="226.9" y1="862.2" x2="234.6" y2="857.6" stroke="#000" stroke-width="0.9"/>
<line x1="224.7" y1="860" x2="232.5" y2="855.4" stroke="#000" stroke-width="0.9"/>
<line x1="223.1" y1="860.8" x2="230.8" y2="856.2" stroke="#000" stroke-width="0.9"/>
<line x1="220.8" y1="858.8" x2="228.6" y2="854.3" stroke="#000" stroke-width="0.9"/>
<line x1="219.3" y1="859.8" x2="227.1" y2="855.3" stroke="#000" stroke-width="0.9"/>
<line x1="217" y1="858.2" x2="224.7" y2="853.6" stroke="#000" stroke-width="0.9"/>
<line x1="215.7" y1="859.5" x2="223.4" y2="854.9" stroke="#000" stroke-width="0.9"/>
<line x1="213.3" y1="858.1" x2="221" y2="853.5" stroke="#000" stroke-width="0.9"/>
<line x1="212.2" y1="859.6" x2="219.9" y2="855" stroke="#000" stroke-width="0.9"/>
<line x1="209.7" y1="858.5" x2="217.5" y2="854" stroke="#000" stroke-width="0.9"/>
<line x1="208.8" y1="860.3" x2="216.6" y2="855.7" stroke="#000" stroke-width="0.9"/>
<line x1="206.4" y1="859.6" x2="214.2" y2="855" stroke="#000" stroke-width="0.9"/>
<line x1="205.7" y1="861.5" x2="213.5" y2="856.9" stroke="#000" stroke-width="0.9"/>
<line x1="203.3" y1="861.1" x2="211.1" y2="856.5" stroke="#000" stroke-width="0.9"/>
<line x1="202.9" y1="863.2" x2="210.7" y2="858.6" stroke="#000" stroke-width="0.9"/>
<line x1="200.6" y1="863.1" x2="208.4" y2="858.6" stroke="#000" stroke-width="0.9"/>
<line x1="200.4" y1="865.4" x2="208.2" y2="860.8" stroke="#000" stroke-width="0.9"/>
<line x1="198.2" y1="865.7" x2="205.9" y2="861.1" stroke="#000" stroke-width="0.9"/>
<line x1="198.2" y1="868" x2="206" y2="863.4" stroke="#000" stroke-width="0.9"/>
<line x1="196.2" y1="868.6" x2="203.9" y2="864.1" stroke="#000" stroke-width="0.9"/>
<line x1="196.4" y1="871" x2="204.2" y2="866.5" stroke="#000" stroke-width="0.9"/>
<line x1="194.5" y1="872" x2="202.3" y2="867.4" stroke="#000" stroke-width="0.9"/>
<line x1="195.1" y1="874.5" x2="202.8" y2="869.9" stroke="#000" stroke-width="0.9"/>
<line x1="193.3" y1="875.8" x2="201.1" y2="871.2" stroke="#000" stroke-width="0.9"/>
<line x1="194.1" y1="878.2" x2="201.8" y2="873.7" stroke="#000" stroke-width="0.9"/>
<line x1="192.6" y1="879.8" x2="200.3" y2="875.2" stroke="#000" stroke-width="0.9"/>
<line x1="193.5" y1="882.3" x2="201.3" y2="877.7" stroke="#000" stroke-width="0.9"/>
<line x1="192.3" y1="884.1" x2="200" y2="879.6" stroke="#000" stroke-width="0.9"/>
<line x1="193.4" y1="886.5" x2="201.2" y2="882" stroke="#000" stroke-width="0.9"/>
<line x1="192.4" y1="888.6" x2="200.2" y2="884.1" stroke="#000" stroke-width="0.9"/>
<line x1="193.8" y1="890.9" x2="201.5" y2="886.4" stroke="#000" stroke-width="0.9"/>
<line x1="193" y1="893.3" x2="200.8" y2="888.7" stroke="#000" stroke-width="0.9"/>
<line x1="194.6" y1="895.5" x2="202.3" y2="890.9" stroke="#000" stroke-width="0.9"/>
<line x1="194.1" y1="898" x2="201.8" y2="893.4" stroke="#000" stroke-width="0.9"/>
<line x1="195.8" y1="900.1" x2="203.5" y2="895.5" stroke="#000" stroke-width="0.9"/>
<line x1="195.6" y1="902.7" x2="203.3" y2="898.2" stroke="#000" stroke-width="0.9"/>
<line x1="197.4" y1="904.6" x2="205.1" y2="900" stroke="#000" stroke-width="0.9"/>
<line x1="197.5" y1="907.4" x2="205.2" y2="902.9" stroke="#000" stroke-width="0.9"/>
<line x1="199.4" y1="909.1" x2="207.1" y2="904.5" stroke="#000" stroke-width="0.9"/>
<line x1="199.7" y1="912" x2="207.5" y2="907.4" stroke="#000" stroke-width="0.9"/>
<line x1="201.7" y1="913.4" x2="209.5" y2="908.9" stroke="#000" stroke-width="0.9"/>
<line x1="202.4" y1="916.4" x2="210.1" y2="911.8" stroke="#000" stroke-width="0.9"/>
<line x1="204.4" y1="917.6" x2="212.2" y2="913" stroke="#000" stroke-width="0.9"/>
<line x1="205.3" y1="920.5" x2="213.1" y2="916" stroke="#000" stroke-width="0.9"/>
<line x1="207.4" y1="921.5" x2="215.1" y2="916.9" stroke="#000" stroke-width="0.9"/>
<line x1="208.6" y1="924.4" x2="216.3" y2="919.8" stroke="#000" stroke-width="0.9"/>
<line x1="210.6" y1="925" x2="218.4" y2="920.5" stroke="#000" stroke-width="0.9"/>
<line x1="212" y1="927.9" x2="219.8" y2="923.3" stroke="#000" stroke-width="0.9"/>
<line x1="214" y1="928.3" x2="221.8" y2="923.7" stroke="#000" stroke-width="0.9"/>
<line x1="215.7" y1="931" x2="223.5" y2="926.4" stroke="#000" stroke-width="0.9"/>
<line x1="217.6" y1="931.1" x2="225.4" y2="926.5" stroke="#000" stroke-width="0.9"/>
<line x1="219.5" y1="933.7" x2="227.2" y2="929.1" stroke="#000" stroke-width="0.9"/>
<line x1="221.4" y1="933.5" x2="229.1" y2="928.9" stroke="#000" stroke-width="0.9"/>
<line x1="223.4" y1="935.9" x2="231.1" y2="931.3" stroke="#000" stroke-width="0.9"/>
<line x1="225.1" y1="935.4" x2="232.9" y2="930.8" stroke="#000" stroke-width="0.9"/>
<line x1="227.3" y1="937.6" x2="235.1" y2="933" stroke="#000" stroke-width="0.9"/>
<line x1="228.9" y1="936.8" x2="236.7" y2="932.3" stroke="#000" stroke-width="0.9"/>
<line x1="231.2" y1="938.8" x2="239" y2="934.2" stroke="#000" stroke-width="0.9"/>
<line x1="232.7" y1="937.8" x2="240.4" y2="933.2" stroke="#000" stroke-width="0.9"/>
<line x1="235" y1="939.4" x2="242.8" y2="934.9" stroke="#000" stroke-width="0.9"/>
<line x1="236.3" y1="938.1" x2="244.1" y2="933.6" stroke="#000" stroke-width="0.9"/>
<line x1="238.7" y1="939.5" x2="246.5" y2="934.9" stroke="#000" stroke-width="0.9"/>
<line x1="239.8" y1="938" x2="247.6" y2="933.4" stroke="#000" stroke-width="0.9"/>
<line x1="242.3" y1="939.1" x2="250" y2="934.5" stroke="#000" stroke-width="0.9"/>
<line x1="243.2" y1="937.3" x2="250.9" y2="932.8" stroke="#000" stroke-width="0.9"/>
<line x1="245.6" y1="938" x2="253.4" y2="933.5" stroke="#000" stroke-width="0.9"/>
<line x1="246.3" y1="936.1" x2="254" y2="931.6" stroke="#000" stroke-width="0.9"/>
<polygon points="246.8,934.1 248.7,936.5 249.7,935.8 248.4,933 249.4,932.3 251.4,934.5 252.4,933.6 250.8,930.9 251.7,930 253.8,931.9 254.6,930.9 252.9,928.3 253.6,927.3 255.8,929 256.5,927.7 254.6,925.4 255.2,924.2 257.5,925.6 258,924.2 255.9,922.1 256.3,920.7 258.7,921.8 259,920.3 256.8,918.4 257.1,917 259.4,917.8 259.6,916.2 257.3,914.5 257.4,913 259.7,913.5 259.7,911.8 257.4,910.4 257.3,908.8 259.6,909 259.4,907.2 257.1,906.1 256.8,904.5 259,904.3 258.6,902.5 256.3,901.7 255.9,900.1 257.9,899.6 257.4,897.8 255.1,897.3 254.5,895.7 256.4,894.9 255.8,893.1 253.5,892.9 252.8,891.3 254.5,890.2 253.7,888.4 251.6,888.6 250.7,887 252.3,885.6 251.3,883.9 249.3,884.4 248.3,882.9 249.6,881.2 248.5,879.6 246.7,880.5 245.6,879 246.7,877.1 245.5,875.6 243.8,876.7 242.6,875.4 243.4,873.2 242.1,871.8 240.7,873.3 239.4,872.1 240,869.7 238.6,868.5 237.3,870.2 236,869.1 236.3,866.6 234.9,865.5 233.8,867.5 232.5,866.6 232.5,863.9 231,863 230.3,865.2 228.9,864.5 228.6,861.7 227.1,861 226.6,863.4 225.2,862.8 224.7,860 223.2,859.5 223,862 221.6,861.7 220.8,858.8 219.3,858.5 219.4,861.2 218,861 217,858.2 215.5,858.1 215.8,860.8 214.5,860.8 213.3,858.1 211.9,858.2 212.5,861 211.2,861.2 209.7,858.5 208.4,858.9 209.3,861.7 208.1,862.1 206.4,859.6 205.2,860.1 206.3,862.9 205.2,863.5 203.3,861.1 202.3,861.8 203.6,864.6 202.6,865.3 200.6,863.1 199.6,864 201.2,866.7 200.3,867.6 198.2,865.7 197.4,866.7 199.1,869.3 198.4,870.3 196.2,868.6 195.5,869.9 197.4,872.2 196.8,873.4 194.5,872 194,873.4 196.1,875.5 195.7,876.9 193.3,875.8 193,877.3 195.2,879.2 194.9,880.6 192.6,879.8 192.4,881.4 194.7,883.1 194.6,884.6 192.3,884.1 192.3,885.8 194.6,887.2 194.7,888.8 192.4,888.6 192.6,890.4 194.9,891.5 195.2,893.1 193,893.3 193.4,895.1 195.7,895.9 196.1,897.5 194.1,898 194.6,899.8 196.9,900.3 197.5,901.9 195.6,902.7 196.2,904.5 198.5,904.7 199.2,906.3 197.5,907.4 198.3,909.2 200.4,909 201.3,910.6 199.7,912 200.7,913.7 202.7,913.2 203.7,914.7 202.4,916.4 203.5,918 205.3,917.1 206.4,918.6 205.3,920.5 206.5,922 208.2,920.9 209.4,922.2 208.6,924.4 209.9,925.8 211.3,924.3 212.6,925.5 212,927.9 213.4,929.1 214.7,927.4 216,928.5 215.7,931 217.1,932.1 218.2,930.1 219.5,931 219.5,933.7 221,934.6 221.7,932.4 223.1,933.1 223.4,935.9 224.9,936.6 225.4,934.2 226.8,934.8 227.3,937.6 228.8,938.1 229,935.6 230.4,935.9 231.2,938.8 232.7,939.1 232.6,936.4 234,936.6 235,939.4 236.5,939.5 236.2,936.8 237.5,936.8 238.7,939.5 240.1,939.4 239.5,936.6 240.8,936.4 242.3,939.1 243.6,938.7 242.7,935.9 243.9,935.5 245.6,938 246.8,937.5 245.7,934.7" fill="#fff" stroke="#000" stroke-width="0.9" stroke-linejoin="round"/>
<ellipse class="t" cx="226" cy="898.8" rx="39.5" ry="26.3" transform="rotate(59.5 226 898.8)" />
<ellipse class="l" cx="226" cy="898.8" rx="37" ry="24.7" transform="rotate(59.5 226 898.8)" />
<ellipse class="l" cx="227.7" cy="897.8" rx="32" ry="21.3" transform="rotate(59.5 227.7 897.8)" />
<ellipse class="t" cx="227.7" cy="897.8" rx="30.5" ry="20.3" transform="rotate(59.5 227.7 897.8)" />
<ellipse class="l" cx="227.7" cy="897.8" rx="25" ry="16.7" transform="rotate(59.5 227.7 897.8)" />
<ellipse class="t" cx="227.7" cy="897.8" rx="19" ry="12.7" transform="rotate(59.5 227.7 897.8)" />
<ellipse cx="221.1" cy="900.7" rx="15.5" ry="10.3" transform="rotate(59.5 221.1 900.7)" fill="#fff" stroke="#000" stroke-width="1.0" stroke-linejoin="round" stroke-linecap="round"/>
<polygon points="218.7,920.2 229,914.1 213.3,887.4 202.9,893.4" fill="#fff" stroke="none"/>
<line x1="218.7" y1="920.2" x2="229" y2="914.1" stroke="#000" stroke-width="1.0" stroke-linejoin="round" stroke-linecap="round"/>
<line x1="202.9" y1="893.4" x2="213.3" y2="887.4" stroke="#000" stroke-width="1.0" stroke-linejoin="round" stroke-linecap="round"/>
<polyline points="219.7,919.6 222.1,917.3 223.4,913.9 223.7,909.8 222.7,905.3 220.7,901 217.9,897.1 214.4,894.1 210.7,892.3 207.1,891.9 204,892.8" fill="none" stroke="#000" stroke-width="1.15"/>
<polyline points="220.7,918.9 223.1,916.7 224.5,913.3 224.7,909.2 223.8,904.7 221.8,900.3 218.9,896.5 215.5,893.5 211.7,891.7 208.1,891.3 205,892.2" fill="none" stroke="#000" stroke-width="1.15"/>
<polyline points="221.8,918.3 224.1,916.1 225.5,912.7 225.7,908.6 224.8,904.1 222.8,899.7 219.9,895.9 216.5,892.9 212.8,891.1 209.2,890.6 206,891.6" fill="none" stroke="#000" stroke-width="1.15"/>
<polyline points="222.8,917.7 225.2,915.5 226.5,912.1 226.8,908 225.8,903.5 223.8,899.1 221,895.3 217.5,892.3 213.8,890.5 210.2,890 207.1,891" fill="none" stroke="#000" stroke-width="1.15"/>
<polyline points="223.8,917.1 226.2,914.8 227.6,911.5 227.8,907.4 226.9,902.9 224.9,898.5 222,894.6 218.6,891.7 214.9,889.9 211.3,889.4 208.1,890.4" fill="none" stroke="#000" stroke-width="1.15"/>
<polyline points="224.9,916.5 227.2,914.2 228.6,910.9 228.8,906.8 227.9,902.3 225.9,897.9 223.1,894 219.6,891.1 215.9,889.3 212.3,888.8 209.1,889.8" fill="none" stroke="#000" stroke-width="1.15"/>
<polyline points="225.9,915.9 228.3,913.6 229.6,910.3 229.9,906.2 228.9,901.7 227,897.3 224.1,893.4 220.6,890.4 216.9,888.7 213.3,888.2 210.2,889.2" fill="none" stroke="#000" stroke-width="1.15"/>
<polyline points="226.9,915.3 229.3,913 230.7,909.7 230.9,905.5 230,901.1 228,896.7 225.1,892.8 221.7,889.8 218,888 214.4,887.6 211.2,888.6" fill="none" stroke="#000" stroke-width="1.15"/>
<polyline points="228,914.7 230.3,912.4 231.7,909.1 231.9,904.9 231,900.5 229,896.1 226.2,892.2 222.7,889.2 219,887.4 215.4,887 212.3,888" fill="none" stroke="#000" stroke-width="1.15"/>
<ellipse cx="210.8" cy="906.8" rx="15.5" ry="10.3" transform="rotate(59.5 210.8 906.8)" fill="#fff" stroke="#000" stroke-width="1.0" stroke-linejoin="round" stroke-linecap="round"/>
<ellipse cx="210.2" cy="907.6" rx="11.5" ry="7.7" transform="rotate(59.5 210.2 907.6)" fill="#fff" stroke="#000" stroke-width="1.0" stroke-linejoin="round" stroke-linecap="round"/>
<polygon points="202.2,925.6 216,917.5 204.4,897.7 190.6,905.8" fill="#fff" stroke="none"/>
<line x1="202.2" y1="925.6" x2="216" y2="917.5" stroke="#000" stroke-width="1.0" stroke-linejoin="round" stroke-linecap="round"/>
<line x1="190.6" y1="905.8" x2="204.4" y2="897.7" stroke="#000" stroke-width="1.0" stroke-linejoin="round" stroke-linecap="round"/>
<ellipse cx="196.4" cy="915.7" rx="11.5" ry="7.7" transform="rotate(59.5 196.4 915.7)" fill="#fff" stroke="#000" stroke-width="1.0" stroke-linejoin="round" stroke-linecap="round"/>
<ellipse class="l" cx="196.4" cy="915.7" rx="8.6" ry="5.7" transform="rotate(59.5 196.4 915.7)" />
<ellipse class="t" cx="197.7" cy="914.9" rx="7.4" ry="4.9" transform="rotate(59.5 197.7 914.9)" />
<line class="t" x1="200.8" y1="923.1" x2="201.2" y2="921" />
<line class="t" x1="202.8" y1="920" x2="202.9" y2="918.4" />
<line class="t" x1="202.4" y1="915.2" x2="202.6" y2="914.6" />
<line class="t" x1="199.8" y1="910.6" x2="200.4" y2="910.8" />
<line class="t" x1="195.8" y1="908" x2="197.2" y2="908.7" />
<line class="t" x1="192" y1="908.3" x2="194.1" y2="908.9" />
<line class="t" x1="190" y1="911.4" x2="192.5" y2="911.4" />
<line class="t" x1="190.4" y1="916.2" x2="192.8" y2="915.3" />
<line class="t" x1="193" y1="920.8" x2="195" y2="919.1" />
<line class="t" x1="197" y1="923.4" x2="198.2" y2="921.2" />
<ellipse cx="758.1" cy="850.2" rx="8" ry="4" transform="rotate(60.9 758.1 850.2)" fill="#fff" stroke="#000" stroke-width="1.0" stroke-linejoin="round" stroke-linecap="round"/>
<polygon points="741.9,868.4 762,857.2 754.2,843.2 734.1,854.4" fill="#fff" stroke="none"/>
<line x1="741.9" y1="868.4" x2="762" y2="857.2" stroke="#000" stroke-width="1.0" stroke-linejoin="round" stroke-linecap="round"/>
<line x1="734.1" y1="854.4" x2="754.2" y2="843.2" stroke="#000" stroke-width="1.0" stroke-linejoin="round" stroke-linecap="round"/>
<ellipse cx="738" cy="861.4" rx="8" ry="4" transform="rotate(60.9 738 861.4)" fill="#fff" stroke="#000" stroke-width="1.0" stroke-linejoin="round" stroke-linecap="round"/>
<ellipse cx="735.5" cy="862.8" rx="30" ry="14.1" transform="rotate(60.9 735.5 862.8)" fill="#fff" stroke="#000" stroke-width="1.0" stroke-linejoin="round" stroke-linecap="round"/>
<polygon points="730.9,899.7 750.1,889 720.9,836.6 701.7,847.3" fill="#fff" stroke="none"/>
<line x1="730.9" y1="899.7" x2="750.1" y2="889" stroke="#000" stroke-width="1.0" stroke-linejoin="round" stroke-linecap="round"/>
<line x1="701.7" y1="847.3" x2="720.9" y2="836.6" stroke="#000" stroke-width="1.0" stroke-linejoin="round" stroke-linecap="round"/>
<ellipse cx="716.3" cy="873.5" rx="30" ry="14.1" transform="rotate(60.9 716.3 873.5)" fill="#fff" stroke="#000" stroke-width="1.0" stroke-linejoin="round" stroke-linecap="round"/>
<ellipse class="l" cx="730.3" cy="855.1" rx="1.5" ry="2.1" transform="rotate(15 730.3 855.1)" />
<ellipse class="l" cx="735.4" cy="851.7" rx="1.5" ry="2.1" transform="rotate(15 735.4 851.7)" />
<ellipse class="l" cx="740.4" cy="872.7" rx="1.5" ry="2.1" transform="rotate(15 740.4 872.7)" />
<ellipse class="l" cx="746.1" cy="869.6" rx="1.5" ry="2.1" transform="rotate(15 746.1 869.6)" />
<ellipse class="l" cx="745.2" cy="884.2" rx="1.5" ry="2.1" transform="rotate(15 745.2 884.2)" />
<polygon points="732.8,903.1 734.3,905.3 735,904.8 733.9,902.4 734.5,901.8 736.1,903.8 736.7,903 735.4,900.7 735.9,900 737.6,901.7 738,900.8 736.6,898.6 737,897.6 738.6,899.1 738.9,898 737.4,895.9 737.6,894.8 739.3,896 739.4,894.8 737.8,892.9 737.9,891.6 739.5,892.6 739.5,891.1 737.8,889.5 737.7,888.1 739.3,888.7 739.1,887.2 737.4,885.7 737.2,884.3 738.7,884.6 738.3,883 736.6,881.8 736.2,880.3 737.6,880.3 737.1,878.6 735.5,877.7 734.9,876.1 736.2,875.8 735.5,874.1 733.9,873.5 733.3,872 734.3,871.3 733.6,869.6 732.1,869.4 731.3,867.8 732.2,866.8 731.3,865.2 729.9,865.3 729.1,863.8 729.7,862.5 728.7,860.9 727.5,861.3 726.6,859.9 727,858.4 725.9,856.9 724.9,857.6 723.9,856.3 724.1,854.5 723,853.2 722.2,854.2 721.1,853 721.1,851 719.9,849.8 719.3,851.2 718.2,850.1 717.9,848 716.7,846.9 716.3,848.5 715.2,847.6 714.8,845.4 713.6,844.5 713.4,846.3 712.3,845.6 711.6,843.3 710.4,842.6 710.5,844.7 709.5,844.2 708.6,841.8 707.4,841.4 707.7,843.5 706.7,843.3 705.7,840.9 704.6,840.7 705.1,843 704.2,842.9 702.9,840.5 702,840.6 702.7,843 701.9,843.1 700.5,840.8 699.6,841.1 700.6,843.5 699.8,843.9 698.3,841.8 697.6,842.3 698.7,844.6 698.1,845.2 696.5,843.3 695.9,844 697.2,846.3 696.7,847.1 695,845.3 694.6,846.2 696,848.5 695.6,849.4 693.9,847.9 693.6,849 695.2,851.1 695,852.2 693.3,851 693.2,852.3 694.8,854.2 694.7,855.4 693.1,854.5 693.1,855.9 694.8,857.6 694.9,858.9 693.3,858.3 693.5,859.8 695.2,861.3 695.4,862.8 693.9,862.4 694.3,864.1 695.9,865.2 696.3,866.8 695,866.8 695.5,868.5 697.1,869.3 697.7,870.9 696.4,871.2 697.1,872.9 698.6,873.5 699.3,875.1 698.2,875.7 699,877.4 700.5,877.6 701.3,879.2 700.4,880.2 701.3,881.8 702.6,881.7 703.5,883.3 702.9,884.5 703.9,886.1 705,885.7 706,887.1 705.6,888.6 706.6,890.1 707.7,889.4 708.7,890.7 708.5,892.5 709.6,893.9 710.4,892.8 711.5,894 711.5,896 712.7,897.2 713.3,895.9 714.4,896.9 714.7,899.1 715.9,900.1 716.2,898.5 717.4,899.4 717.8,901.7 719,902.5 719.2,900.7 720.3,901.4 721,903.7 722.1,904.4 722.1,902.4 723.1,902.8 724,905.3 725.1,905.7 724.8,903.5 725.9,903.8 726.9,906.2 728,906.4 727.5,904.1 728.4,904.1 729.6,906.5 730.6,906.4 729.9,904.1 730.7,903.9 732.1,906.2 733,905.9 732,903.5" fill="#fff" stroke="#000" stroke-width="0.9" stroke-linejoin="round"/>
<polygon points="725.8,907 732.8,903.1 699.8,843.9 692.8,847.8" fill="#fff" stroke="none"/>
<line x1="727.3" y1="909.2" x2="734.3" y2="905.3" stroke="#000" stroke-width="0.9"/>
<line x1="727.5" y1="907.5" x2="734.5" y2="903.6" stroke="#000" stroke-width="0.9"/>
<line x1="729.1" y1="907.7" x2="736.1" y2="903.8" stroke="#000" stroke-width="0.9"/>
<line x1="729.1" y1="905.8" x2="736.1" y2="901.9" stroke="#000" stroke-width="0.9"/>
<line x1="730.6" y1="905.6" x2="737.6" y2="901.7" stroke="#000" stroke-width="0.9"/>
<line x1="730.3" y1="903.5" x2="737.3" y2="899.7" stroke="#000" stroke-width="0.9"/>
<line x1="731.6" y1="903" x2="738.6" y2="899.1" stroke="#000" stroke-width="0.9"/>
<line x1="731.2" y1="900.8" x2="738.2" y2="897" stroke="#000" stroke-width="0.9"/>
<line x1="732.3" y1="899.9" x2="739.3" y2="896" stroke="#000" stroke-width="0.9"/>
<line x1="731.6" y1="897.7" x2="738.6" y2="893.8" stroke="#000" stroke-width="0.9"/>
<line x1="732.5" y1="896.4" x2="739.5" y2="892.6" stroke="#000" stroke-width="0.9"/>
<line x1="731.7" y1="894.2" x2="738.7" y2="890.3" stroke="#000" stroke-width="0.9"/>
<line x1="732.3" y1="892.6" x2="739.3" y2="888.7" stroke="#000" stroke-width="0.9"/>
<line x1="731.3" y1="890.3" x2="738.3" y2="886.5" stroke="#000" stroke-width="0.9"/>
<line x1="731.7" y1="888.5" x2="738.7" y2="884.6" stroke="#000" stroke-width="0.9"/>
<line x1="730.5" y1="886.3" x2="737.5" y2="882.4" stroke="#000" stroke-width="0.9"/>
<line x1="730.6" y1="884.1" x2="737.6" y2="880.3" stroke="#000" stroke-width="0.9"/>
<line x1="729.3" y1="882" x2="736.3" y2="878.1" stroke="#000" stroke-width="0.9"/>
<line x1="729.2" y1="879.7" x2="736.2" y2="875.8" stroke="#000" stroke-width="0.9"/>
<line x1="727.7" y1="877.7" x2="734.7" y2="873.8" stroke="#000" stroke-width="0.9"/>
<line x1="727.4" y1="875.2" x2="734.3" y2="871.3" stroke="#000" stroke-width="0.9"/>
<line x1="725.8" y1="873.4" x2="732.8" y2="869.5" stroke="#000" stroke-width="0.9"/>
<line x1="725.2" y1="870.7" x2="732.2" y2="866.8" stroke="#000" stroke-width="0.9"/>
<line x1="723.6" y1="869.1" x2="730.6" y2="865.2" stroke="#000" stroke-width="0.9"/>
<line x1="722.7" y1="866.4" x2="729.7" y2="862.5" stroke="#000" stroke-width="0.9"/>
<line x1="721.1" y1="865" x2="728.1" y2="861.1" stroke="#000" stroke-width="0.9"/>
<line x1="720" y1="862.3" x2="727" y2="858.4" stroke="#000" stroke-width="0.9"/>
<line x1="718.4" y1="861.1" x2="725.4" y2="857.2" stroke="#000" stroke-width="0.9"/>
<line x1="717.1" y1="858.4" x2="724.1" y2="854.5" stroke="#000" stroke-width="0.9"/>
<line x1="715.6" y1="857.6" x2="722.6" y2="853.7" stroke="#000" stroke-width="0.9"/>
<line x1="714.1" y1="854.9" x2="721.1" y2="851" stroke="#000" stroke-width="0.9"/>
<line x1="712.6" y1="854.4" x2="719.6" y2="850.5" stroke="#000" stroke-width="0.9"/>
<line x1="710.9" y1="851.8" x2="717.9" y2="848" stroke="#000" stroke-width="0.9"/>
<line x1="709.5" y1="851.6" x2="716.5" y2="847.7" stroke="#000" stroke-width="0.9"/>
<line x1="707.8" y1="849.2" x2="714.8" y2="845.4" stroke="#000" stroke-width="0.9"/>
<line x1="706.5" y1="849.3" x2="713.5" y2="845.4" stroke="#000" stroke-width="0.9"/>
<line x1="704.6" y1="847.2" x2="711.6" y2="843.3" stroke="#000" stroke-width="0.9"/>
<line x1="703.5" y1="847.5" x2="710.5" y2="843.7" stroke="#000" stroke-width="0.9"/>
<line x1="701.6" y1="845.7" x2="708.6" y2="841.8" stroke="#000" stroke-width="0.9"/>
<line x1="700.6" y1="846.3" x2="707.6" y2="842.4" stroke="#000" stroke-width="0.9"/>
<line x1="698.7" y1="844.7" x2="705.7" y2="840.9" stroke="#000" stroke-width="0.9"/>
<line x1="697.9" y1="845.7" x2="704.9" y2="841.8" stroke="#000" stroke-width="0.9"/>
<line x1="696" y1="844.4" x2="702.9" y2="840.5" stroke="#000" stroke-width="0.9"/>
<line x1="695.3" y1="845.7" x2="702.3" y2="841.8" stroke="#000" stroke-width="0.9"/>
<line x1="693.5" y1="844.7" x2="700.5" y2="840.8" stroke="#000" stroke-width="0.9"/>
<line x1="693.1" y1="846.2" x2="700.1" y2="842.3" stroke="#000" stroke-width="0.9"/>
<line x1="691.3" y1="845.6" x2="698.3" y2="841.8" stroke="#000" stroke-width="0.9"/>
<line x1="691.1" y1="847.3" x2="698.1" y2="843.5" stroke="#000" stroke-width="0.9"/>
<line x1="689.5" y1="847.1" x2="696.5" y2="843.3" stroke="#000" stroke-width="0.9"/>
<line x1="689.5" y1="849" x2="696.5" y2="845.1" stroke="#000" stroke-width="0.9"/>
<line x1="688" y1="849.2" x2="695" y2="845.3" stroke="#000" stroke-width="0.9"/>
<line x1="688.3" y1="851.3" x2="695.3" y2="847.4" stroke="#000" stroke-width="0.9"/>
<line x1="687" y1="851.8" x2="693.9" y2="847.9" stroke="#000" stroke-width="0.9"/>
<line x1="687.4" y1="854" x2="694.4" y2="850.1" stroke="#000" stroke-width="0.9"/>
<line x1="686.3" y1="854.9" x2="693.3" y2="851" stroke="#000" stroke-width="0.9"/>
<line x1="687" y1="857.1" x2="694" y2="853.2" stroke="#000" stroke-width="0.9"/>
<line x1="686.1" y1="858.4" x2="693.1" y2="854.5" stroke="#000" stroke-width="0.9"/>
<line x1="686.9" y1="860.6" x2="693.9" y2="856.7" stroke="#000" stroke-width="0.9"/>
<line x1="686.3" y1="862.2" x2="693.3" y2="858.3" stroke="#000" stroke-width="0.9"/>
<line x1="687.3" y1="864.5" x2="694.3" y2="860.6" stroke="#000" stroke-width="0.9"/>
<line x1="686.9" y1="866.3" x2="693.9" y2="862.4" stroke="#000" stroke-width="0.9"/>
<line x1="688.1" y1="868.5" x2="695.1" y2="864.6" stroke="#000" stroke-width="0.9"/>
<line x1="688" y1="870.7" x2="695" y2="866.8" stroke="#000" stroke-width="0.9"/>
<line x1="689.3" y1="872.8" x2="696.3" y2="868.9" stroke="#000" stroke-width="0.9"/>
<line x1="689.4" y1="875.1" x2="696.4" y2="871.2" stroke="#000" stroke-width="0.9"/>
<line x1="690.9" y1="877.1" x2="697.9" y2="873.2" stroke="#000" stroke-width="0.9"/>
<line x1="691.2" y1="879.6" x2="698.2" y2="875.7" stroke="#000" stroke-width="0.9"/>
<line x1="692.8" y1="881.4" x2="699.8" y2="877.5" stroke="#000" stroke-width="0.9"/>
<line x1="693.4" y1="884.1" x2="700.4" y2="880.2" stroke="#000" stroke-width="0.9"/>
<line x1="695" y1="885.7" x2="702" y2="881.8" stroke="#000" stroke-width="0.9"/>
<line x1="695.9" y1="888.4" x2="702.9" y2="884.5" stroke="#000" stroke-width="0.9"/>
<line x1="697.5" y1="889.8" x2="704.5" y2="885.9" stroke="#000" stroke-width="0.9"/>
<line x1="698.6" y1="892.5" x2="705.6" y2="888.6" stroke="#000" stroke-width="0.9"/>
<line x1="700.2" y1="893.7" x2="707.2" y2="889.8" stroke="#000" stroke-width="0.9"/>
<line x1="701.5" y1="896.4" x2="708.5" y2="892.5" stroke="#000" stroke-width="0.9"/>
<line x1="703" y1="897.2" x2="710" y2="893.3" stroke="#000" stroke-width="0.9"/>
<line x1="704.5" y1="899.9" x2="711.5" y2="896" stroke="#000" stroke-width="0.9"/>
<line x1="706" y1="900.4" x2="713" y2="896.5" stroke="#000" stroke-width="0.9"/>
<line x1="707.7" y1="903" x2="714.7" y2="899.1" stroke="#000" stroke-width="0.9"/>
<line x1="709.1" y1="903.2" x2="716.1" y2="899.3" stroke="#000" stroke-width="0.9"/>
<line x1="710.8" y1="905.6" x2="717.8" y2="901.7" stroke="#000" stroke-width="0.9"/>
<line x1="712.1" y1="905.5" x2="719.1" y2="901.6" stroke="#000" stroke-width="0.9"/>
<line x1="714" y1="907.6" x2="721" y2="903.7" stroke="#000" stroke-width="0.9"/>
<line x1="715.1" y1="907.3" x2="722.1" y2="903.4" stroke="#000" stroke-width="0.9"/>
<line x1="717" y1="909.1" x2="724" y2="905.3" stroke="#000" stroke-width="0.9"/>
<line x1="718" y1="908.5" x2="725" y2="904.6" stroke="#000" stroke-width="0.9"/>
<line x1="719.9" y1="910.1" x2="726.9" y2="906.2" stroke="#000" stroke-width="0.9"/>
<line x1="720.7" y1="909.1" x2="727.7" y2="905.2" stroke="#000" stroke-width="0.9"/>
<line x1="722.6" y1="910.4" x2="729.6" y2="906.5" stroke="#000" stroke-width="0.9"/>
<line x1="723.3" y1="909.1" x2="730.2" y2="905.3" stroke="#000" stroke-width="0.9"/>
<line x1="725.1" y1="910.1" x2="732.1" y2="906.2" stroke="#000" stroke-width="0.9"/>
<line x1="725.5" y1="908.6" x2="732.5" y2="904.7" stroke="#000" stroke-width="0.9"/>
<polygon points="725.8,907 727.3,909.2 728,908.7 726.9,906.3 727.5,905.7 729.1,907.7 729.7,906.9 728.4,904.6 728.9,903.8 730.6,905.6 731,904.7 729.6,902.4 730,901.5 731.6,903 731.9,901.9 730.4,899.8 730.6,898.7 732.3,899.9 732.4,898.7 730.8,896.8 730.9,895.5 732.5,896.4 732.5,895 730.8,893.3 730.7,892 732.3,892.6 732.1,891.1 730.4,889.6 730.2,888.2 731.7,888.5 731.3,886.9 729.6,885.7 729.2,884.2 730.6,884.1 730.1,882.5 728.5,881.6 727.9,880 729.2,879.7 728.5,878 727,877.4 726.3,875.8 727.4,875.2 726.6,873.5 725.1,873.3 724.3,871.7 725.2,870.7 724.3,869.1 723,869.2 722.1,867.7 722.7,866.4 721.7,864.8 720.6,865.2 719.6,863.8 720,862.3 719,860.8 717.9,861.5 716.9,860.2 717.1,858.4 716,857 715.2,858.1 714.1,856.9 714.1,854.9 712.9,853.7 712.3,855 711.2,854 710.9,851.8 709.7,850.8 709.4,852.4 708.2,851.5 707.8,849.2 706.6,848.4 706.4,850.2 705.3,849.5 704.6,847.2 703.5,846.5 703.5,848.6 702.5,848.1 701.6,845.7 700.4,845.2 700.8,847.4 699.7,847.1 698.7,844.7 697.6,844.6 698.1,846.9 697.2,846.8 696,844.4 695,844.5 695.7,846.8 694.9,847 693.5,844.7 692.6,845 693.6,847.4 692.8,847.8 691.3,845.6 690.6,846.1 691.7,848.5 691.1,849.1 689.5,847.1 688.9,847.9 690.2,850.2 689.7,851 688,849.2 687.6,850.1 689,852.4 688.6,853.3 687,851.8 686.7,852.9 688.2,855 688,856.1 686.3,854.9 686.2,856.1 687.8,858 687.7,859.3 686.1,858.4 686.1,859.8 687.8,861.5 687.9,862.8 686.3,862.2 686.5,863.7 688.2,865.2 688.4,866.6 686.9,866.3 687.3,867.9 689,869.1 689.4,870.6 688,870.7 688.5,872.3 690.1,873.2 690.7,874.8 689.4,875.1 690.1,876.8 691.6,877.4 692.3,879 691.2,879.6 692,881.3 693.5,881.5 694.3,883.1 693.4,884.1 694.3,885.7 695.6,885.6 696.5,887.1 695.9,888.4 696.9,890 698,889.6 699,891 698.6,892.5 699.6,894 700.7,893.3 701.7,894.6 701.5,896.4 702.6,897.8 703.4,896.7 704.5,897.9 704.5,899.9 705.7,901.1 706.3,899.8 707.4,900.8 707.7,903 708.9,904 709.2,902.4 710.4,903.3 710.8,905.6 712,906.4 712.2,904.6 713.3,905.3 714,907.6 715.1,908.3 715.1,906.2 716.1,906.7 717,909.1 718.2,909.6 717.8,907.4 718.9,907.7 719.9,910.1 721,910.2 720.5,907.9 721.4,908 722.6,910.4 723.6,910.3 722.9,908 723.7,907.8 725.1,910.1 726,909.8 725,907.4" fill="#fff" stroke="#000" stroke-width="0.9" stroke-linejoin="round"/>
<ellipse class="t" cx="709.3" cy="877.4" rx="32.5" ry="15.3" transform="rotate(60.9 709.3 877.4)" />
<ellipse class="l" cx="709.3" cy="877.4" rx="30.5" ry="14.3" transform="rotate(60.9 709.3 877.4)" />
<ellipse class="l" cx="711" cy="876.4" rx="25.5" ry="12" transform="rotate(60.9 711 876.4)" />
<ellipse class="t" cx="711" cy="876.4" rx="24" ry="11.3" transform="rotate(60.9 711 876.4)" />
<ellipse class="l" cx="711" cy="876.4" rx="17" ry="8" transform="rotate(60.9 711 876.4)" />
<ellipse cx="709.1" cy="881.3" rx="10.5" ry="5.2" transform="rotate(60.9 709.1 881.3)" fill="#fff" stroke="#000" stroke-width="1.0" stroke-linejoin="round" stroke-linecap="round"/>
<polygon points="704.6,895.8 714.2,890.4 704,872.1 694.4,877.4" fill="#fff" stroke="none"/>
<line x1="704.6" y1="895.8" x2="714.2" y2="890.4" stroke="#000" stroke-width="1.0" stroke-linejoin="round" stroke-linecap="round"/>
<line x1="694.4" y1="877.4" x2="704" y2="872.1" stroke="#000" stroke-width="1.0" stroke-linejoin="round" stroke-linecap="round"/>
<polyline points="705.7,895.2 706.8,893.9 707.4,891.9 707.3,889.3 706.5,886.4 705.2,883.5 703.4,880.7 701.3,878.5 699.1,877.1 697.1,876.5 695.5,876.8" fill="none" stroke="#000" stroke-width="1.15"/>
<polyline points="706.7,894.6 707.9,893.4 708.5,891.3 708.3,888.7 707.6,885.8 706.2,882.9 704.4,880.1 702.3,878 700.2,876.5 698.2,875.9 696.5,876.2" fill="none" stroke="#000" stroke-width="1.15"/>
<polyline points="707.8,894 709,892.8 709.5,890.7 709.4,888.1 708.6,885.2 707.3,882.3 705.5,879.6 703.4,877.4 701.3,875.9 699.3,875.3 697.6,875.6" fill="none" stroke="#000" stroke-width="1.15"/>
<polyline points="708.9,893.4 710,892.2 710.6,890.1 710.5,887.6 709.7,884.6 708.4,881.7 706.6,879 704.5,876.8 702.3,875.3 700.3,874.7 698.7,875" fill="none" stroke="#000" stroke-width="1.15"/>
<polyline points="709.9,892.8 711.1,891.6 711.7,889.6 711.6,887 710.8,884 709.4,881.1 707.6,878.4 705.6,876.2 703.4,874.7 701.4,874.1 699.7,874.5" fill="none" stroke="#000" stroke-width="1.15"/>
<polyline points="711,892.2 712.2,891 712.7,889 712.6,886.4 711.8,883.4 710.5,880.5 708.7,877.8 706.6,875.6 704.5,874.1 702.5,873.5 700.8,873.9" fill="none" stroke="#000" stroke-width="1.15"/>
<polyline points="712.1,891.6 713.2,890.4 713.8,888.4 713.7,885.8 712.9,882.9 711.6,879.9 709.8,877.2 707.7,875 705.5,873.5 703.5,872.9 701.9,873.3" fill="none" stroke="#000" stroke-width="1.15"/>
<polyline points="713.1,891 714.3,889.8 714.9,887.8 714.8,885.2 714,882.3 712.6,879.3 710.8,876.6 708.8,874.4 706.6,872.9 704.6,872.3 702.9,872.7" fill="none" stroke="#000" stroke-width="1.15"/>
<ellipse cx="699.5" cy="886.6" rx="10.5" ry="5.2" transform="rotate(60.9 699.5 886.6)" fill="#fff" stroke="#000" stroke-width="1.0" stroke-linejoin="round" stroke-linecap="round"/>
<ellipse cx="699.5" cy="886.4" rx="8.4" ry="4.2" transform="rotate(60.9 699.5 886.4)" fill="#fff" stroke="#000" stroke-width="1.0" stroke-linejoin="round" stroke-linecap="round"/>
<polygon points="697,897.4 703.5,893.8 695.4,879.1 688.8,882.7" fill="#fff" stroke="none"/>
<line x1="697" y1="897.4" x2="703.5" y2="893.8" stroke="#000" stroke-width="1.0" stroke-linejoin="round" stroke-linecap="round"/>
<line x1="688.8" y1="882.7" x2="695.4" y2="879.1" stroke="#000" stroke-width="1.0" stroke-linejoin="round" stroke-linecap="round"/>
<ellipse cx="692.9" cy="890.1" rx="8.4" ry="4.2" transform="rotate(60.9 692.9 890.1)" fill="#fff" stroke="#000" stroke-width="1.0" stroke-linejoin="round" stroke-linecap="round"/>
<ellipse cx="699.5" cy="886.4" rx="8.4" ry="4.2" transform="rotate(60.9 699.5 886.4)" fill="#fff" stroke="#000" stroke-width="1.0" stroke-linejoin="round" stroke-linecap="round"/>
<polygon points="695.7,898.1 703.5,893.8 695.4,879.1 687.5,883.5" fill="#fff" stroke="none"/>
<line x1="695.7" y1="898.1" x2="703.5" y2="893.8" stroke="#000" stroke-width="1.0" stroke-linejoin="round" stroke-linecap="round"/>
<line x1="687.5" y1="883.5" x2="695.4" y2="879.1" stroke="#000" stroke-width="1.0" stroke-linejoin="round" stroke-linecap="round"/>
<ellipse cx="691.6" cy="890.8" rx="8.4" ry="4.2" transform="rotate(60.9 691.6 890.8)" fill="#fff" stroke="#000" stroke-width="1.0" stroke-linejoin="round" stroke-linecap="round"/>
<ellipse cx="692.8" cy="889.9" rx="5.6" ry="3.1" transform="rotate(60.9 692.8 889.9)" fill="#fff" stroke="#000" stroke-width="1.0" stroke-linejoin="round" stroke-linecap="round"/>
<polygon points="687.6,899.2 695.5,894.8 690,885 682.2,889.4" fill="#fff" stroke="none"/>
<line x1="687.6" y1="899.2" x2="695.5" y2="894.8" stroke="#000" stroke-width="1.0" stroke-linejoin="round" stroke-linecap="round"/>
<line x1="682.2" y1="889.4" x2="690" y2="885" stroke="#000" stroke-width="1.0" stroke-linejoin="round" stroke-linecap="round"/>
<ellipse cx="684.9" cy="894.3" rx="5.6" ry="3.1" transform="rotate(60.9 684.9 894.3)" fill="#fff" stroke="#000" stroke-width="1.0" stroke-linejoin="round" stroke-linecap="round"/>
<ellipse class="t" cx="684.9" cy="894.3" rx="4.3" ry="2.4" transform="rotate(60.9 684.9 894.3)" />
<ellipse class="w" cx="652.1" cy="906.3" rx="24.4" ry="17.7" transform="rotate(59 652.1 906.3)" />
<ellipse class="w" cx="650.8" cy="907.1" rx="24.4" ry="17.7" transform="rotate(59 650.8 907.1)" />
<polyline class="t" points="657.1,929.2 659.7,928.6 662.1,927.4 664.2,925.8 665.9,923.7 667.2,921.3 668.2,918.5 668.6,915.4 668.7,912.2 668.2,908.8 667.4,905.5 666.1,902.1 664.4,898.9 662.4,896 660,893.3 657.5,890.9 654.7,889 651.8,887.5 648.9,886.5 646,886 643.2,886 640.6,886.6 638.2,887.6 636.1,889.2 634.3,891.2" style="stroke-dasharray:1.2 1.2"/>
<ellipse class="l" cx="647.4" cy="909.2" rx="24.4" ry="17.7" transform="rotate(59 647.4 909.2)" style="fill:url(#xd)"/>
<ellipse class="l" cx="646.3" cy="909.8" rx="24.4" ry="17.7" transform="rotate(59 646.3 909.8)" style="fill:url(#xd)"/>
<ellipse class="l" cx="645.2" cy="910.5" rx="24.4" ry="17.7" transform="rotate(59 645.2 910.5)" style="fill:url(#xd)"/>
<ellipse class="w" cx="642" cy="912.4" rx="24.4" ry="17.7" transform="rotate(59 642 912.4)" />
<ellipse class="w" cx="640.7" cy="913.2" rx="24.4" ry="17.7" transform="rotate(59 640.7 913.2)" />
<polyline class="t" points="647,935.3 649.6,934.6 652,933.5 654,931.9 655.8,929.8 657.1,927.3 658,924.6 658.5,921.5 658.6,918.3 658.1,914.9 657.3,911.5 656,908.2 654.3,905 652.3,902 649.9,899.3 647.4,897 644.6,895 641.7,893.6 638.8,892.5 635.9,892.1 633.1,892.1 630.5,892.6 628.1,893.7 626,895.3 624.2,897.3" style="stroke-dasharray:1.2 1.2"/>
<ellipse class="l" cx="637.3" cy="915.2" rx="24.4" ry="17.7" transform="rotate(59 637.3 915.2)" style="fill:url(#xd)"/>
<ellipse class="l" cx="636.2" cy="915.9" rx="24.4" ry="17.7" transform="rotate(59 636.2 915.9)" style="fill:url(#xd)"/>
<ellipse class="l" cx="635.1" cy="916.6" rx="24.4" ry="17.7" transform="rotate(59 635.1 916.6)" style="fill:url(#xd)"/>
<ellipse class="w" cx="631.9" cy="918.5" rx="24.4" ry="17.7" transform="rotate(59 631.9 918.5)" />
<ellipse class="w" cx="630.6" cy="919.3" rx="24.4" ry="17.7" transform="rotate(59 630.6 919.3)" />
<polyline class="t" points="636.9,941.3 639.5,940.7 641.9,939.6 643.9,937.9 645.7,935.9 647,933.4 647.9,930.6 648.4,927.6 648.4,924.4 648,921 647.1,917.6 645.9,914.3 644.2,911.1 642.1,908.1 639.8,905.4 637.2,903.1 634.5,901.1 631.6,899.6 628.7,898.6 625.8,898.1 623,898.2 620.4,898.7 618,899.8 615.8,901.3 614.1,903.3" style="stroke-dasharray:1.2 1.2"/>
<ellipse class="l" cx="627.2" cy="921.3" rx="24.4" ry="17.7" transform="rotate(59 627.2 921.3)" style="fill:url(#xd)"/>
<ellipse class="l" cx="626.1" cy="922" rx="24.4" ry="17.7" transform="rotate(59 626.1 922)" style="fill:url(#xd)"/>
<ellipse class="l" cx="624.9" cy="922.7" rx="24.4" ry="17.7" transform="rotate(59 624.9 922.7)" style="fill:url(#xd)"/>
<ellipse class="w" cx="621.8" cy="924.6" rx="24.4" ry="17.7" transform="rotate(59 621.8 924.6)" />
<ellipse class="w" cx="620.5" cy="925.3" rx="24.4" ry="17.7" transform="rotate(59 620.5 925.3)" />
<polyline class="t" points="626.8,947.4 629.4,946.8 631.7,945.6 633.8,944 635.5,942 636.9,939.5 637.8,936.7 638.3,933.7 638.3,930.4 637.9,927.1 637,923.7 635.7,920.4 634.1,917.2 632,914.2 629.7,911.5 627.1,909.2 624.4,907.2 621.5,905.7 618.6,904.7 615.7,904.2 612.9,904.2 610.3,904.8 607.8,905.9 605.7,907.4 603.9,909.4" style="stroke-dasharray:1.2 1.2"/>
<ellipse class="l" cx="617.1" cy="927.4" rx="24.4" ry="17.7" transform="rotate(59 617.1 927.4)" style="fill:url(#xd)"/>
<ellipse class="l" cx="615.9" cy="928.1" rx="24.4" ry="17.7" transform="rotate(59 615.9 928.1)" style="fill:url(#xd)"/>
<ellipse class="l" cx="614.8" cy="928.7" rx="24.4" ry="17.7" transform="rotate(59 614.8 928.7)" style="fill:url(#xd)"/>
<ellipse class="w" cx="611.7" cy="930.6" rx="24.4" ry="17.7" transform="rotate(59 611.7 930.6)" />
<ellipse class="w" cx="610.4" cy="931.4" rx="24.4" ry="17.7" transform="rotate(59 610.4 931.4)" />
<polyline class="t" points="616.7,953.5 619.3,952.9 621.6,951.7 623.7,950.1 625.4,948 626.8,945.6 627.7,942.8 628.2,939.7 628.2,936.5 627.8,933.2 626.9,929.8 625.6,926.5 624,923.3 621.9,920.3 619.6,917.6 617,915.2 614.3,913.3 611.4,911.8 608.5,910.8 605.6,910.3 602.8,910.3 600.1,910.9 597.7,912 595.6,913.5 593.8,915.5" style="stroke-dasharray:1.2 1.2"/>
<ellipse class="l" cx="606.9" cy="933.5" rx="24.4" ry="17.7" transform="rotate(59 606.9 933.5)" style="fill:url(#xd)"/>
<ellipse class="l" cx="605.8" cy="934.2" rx="24.4" ry="17.7" transform="rotate(59 605.8 934.2)" style="fill:url(#xd)"/>
<ellipse class="l" cx="604.7" cy="934.8" rx="24.4" ry="17.7" transform="rotate(59 604.7 934.8)" style="fill:url(#xd)"/>
<ellipse class="w" cx="601.5" cy="936.7" rx="24.4" ry="17.7" transform="rotate(59 601.5 936.7)" />
<ellipse class="w" cx="600.3" cy="937.5" rx="24.4" ry="17.7" transform="rotate(59 600.3 937.5)" />
<polyline class="t" points="606.5,959.6 609.2,958.9 611.5,957.8 613.6,956.2 615.3,954.1 616.7,951.7 617.6,948.9 618.1,945.8 618.1,942.6 617.7,939.2 616.8,935.9 615.5,932.5 613.8,929.3 611.8,926.4 609.5,923.7 606.9,921.3 604.1,919.4 601.3,917.9 598.4,916.9 595.5,916.4 592.7,916.4 590,917 587.6,918 585.5,919.6 583.7,921.6" style="stroke-dasharray:1.2 1.2"/>
<ellipse class="l" cx="596.8" cy="939.6" rx="24.4" ry="17.7" transform="rotate(59 596.8 939.6)" style="fill:url(#xd)"/>
<ellipse class="l" cx="595.7" cy="940.2" rx="24.4" ry="17.7" transform="rotate(59 595.7 940.2)" style="fill:url(#xd)"/>
<ellipse class="l" cx="594.6" cy="940.9" rx="24.4" ry="17.7" transform="rotate(59 594.6 940.9)" style="fill:url(#xd)"/>
<ellipse class="t" cx="594.6" cy="940.9" rx="23.2" ry="16.8" transform="rotate(59 594.6 940.9)" style="stroke:#fff;stroke-width:0.6"/>
<ellipse class="w" cx="594.6" cy="940.9" rx="18.3" ry="13.3" transform="rotate(59 594.6 940.9)" />
<clipPath id="cpst"><path d="M604 956.6 L605.4 955.6 L606.7 954.3 L607.7 952.8 L608.5 951.1 L609 949.2 L609.3 947.2 L609.4 945 L609.2 942.8 L608.7 940.6 L608 938.3 L607.1 936.2 L606 934.1 L604.7 932.1 L603.2 930.2 L601.5 928.6 L599.7 927.1 L597.9 925.9 L596 925 L594.1 924.3 L592.1 923.9 L590.2 923.8 L588.4 924 L586.7 924.5 L585.2 925.2 L583.8 926.2 L582.5 927.5 L581.5 929 L580.7 930.7 L580.2 932.6 L579.9 934.6 L579.8 936.8 L580 939 L580.5 941.2 L581.2 943.5 L582.1 945.6 L583.2 947.7 L584.5 949.7 L586 951.6 L587.7 953.2 L589.5 954.7 L591.3 955.9 L593.2 956.8 L595.1 957.5 L597.1 957.9 L599 958 L600.8 957.8 L602.5 957.3Z"/></clipPath>
<g clip-path="url(#cpst)"><ellipse class="l" cx="597.2" cy="939.4" rx="17.6" ry="12.8" transform="rotate(59 597.2 939.4)" /><ellipse class="l" cx="600.6" cy="937.3" rx="19.5" ry="14.2" transform="rotate(59 600.6 937.3)" style="fill:url(#xd)"/><ellipse class="w" cx="602.3" cy="936.3" rx="16.5" ry="12" transform="rotate(59 602.3 936.3)" /><ellipse class="l" cx="605.7" cy="934.2" rx="18.5" ry="13.4" transform="rotate(59 605.7 934.2)" style="fill:url(#xd)"/><ellipse class="w" cx="607.5" cy="933.2" rx="14.5" ry="10.5" transform="rotate(59 607.5 933.2)" /><ellipse class="l" cx="613.5" cy="929.6" rx="16.5" ry="12" transform="rotate(59 613.5 929.6)" style="fill:url(#xd)"/></g>
<ellipse class="l" cx="594.6" cy="940.9" rx="18.3" ry="13.3" transform="rotate(59 594.6 940.9)" />
</g>
<g id="shafts">
<ellipse cx="528.4" cy="564.4" rx="7" ry="3.5" transform="rotate(60.3 528.4 564.4)" fill="#fff" stroke="#000" stroke-width="1.0" stroke-linejoin="round" stroke-linecap="round"/>
<polygon points="517.1,578.9 531.8,570.5 524.9,558.4 510.1,566.8" fill="#fff" stroke="none"/>
<line x1="517.1" y1="578.9" x2="531.8" y2="570.5" stroke="#000" stroke-width="1.0" stroke-linejoin="round" stroke-linecap="round"/>
<line x1="510.1" y1="566.8" x2="524.9" y2="558.4" stroke="#000" stroke-width="1.0" stroke-linejoin="round" stroke-linecap="round"/>
<line x1="511.4" y1="566.5" x2="526.1" y2="558.1" stroke="#000" stroke-width="1.0"/>
<line x1="512.9" y1="567.1" x2="527.7" y2="558.7" stroke="#000" stroke-width="1.0"/>
<line x1="514.5" y1="568.3" x2="529.3" y2="559.9" stroke="#000" stroke-width="1.0"/>
<line x1="516" y1="570.1" x2="530.8" y2="561.7" stroke="#000" stroke-width="1.0"/>
<line x1="517.2" y1="572.2" x2="532" y2="563.8" stroke="#000" stroke-width="1.0"/>
<line x1="518" y1="574.4" x2="532.7" y2="566" stroke="#000" stroke-width="1.0"/>
<line x1="518.2" y1="576.4" x2="533" y2="568" stroke="#000" stroke-width="1.0"/>
<line x1="517.9" y1="578" x2="532.7" y2="569.6" stroke="#000" stroke-width="1.0"/>
<ellipse cx="513.6" cy="572.9" rx="7" ry="3.5" transform="rotate(60.3 513.6 572.9)" fill="#fff" stroke="#000" stroke-width="1.0" stroke-linejoin="round" stroke-linecap="round"/>
<ellipse cx="513.6" cy="572.9" rx="4.2" ry="2.1" transform="rotate(60.3 513.6 572.9)" fill="#fff" stroke="#000" stroke-width="1.0" stroke-linejoin="round" stroke-linecap="round"/>
<polygon points="481.8,595.8 515.7,576.5 511.5,569.2 477.6,588.5" fill="#fff" stroke="none"/>
<line x1="481.8" y1="595.8" x2="515.7" y2="576.5" stroke="#000" stroke-width="1.0" stroke-linejoin="round" stroke-linecap="round"/>
<line x1="477.6" y1="588.5" x2="511.5" y2="569.2" stroke="#000" stroke-width="1.0" stroke-linejoin="round" stroke-linecap="round"/>
<ellipse cx="479.7" cy="592.2" rx="4.2" ry="2.1" transform="rotate(60.3 479.7 592.2)" fill="#fff" stroke="#000" stroke-width="1.0" stroke-linejoin="round" stroke-linecap="round"/>
<ellipse cx="479.7" cy="592.2" rx="7" ry="3.5" transform="rotate(60.3 479.7 592.2)" fill="#fff" stroke="#000" stroke-width="1.0" stroke-linejoin="round" stroke-linecap="round"/>
<polygon points="476.2,602.2 483.2,598.2 476.2,586.1 469.3,590" fill="#fff" stroke="none"/>
<line x1="476.2" y1="602.2" x2="483.2" y2="598.2" stroke="#000" stroke-width="1.0" stroke-linejoin="round" stroke-linecap="round"/>
<line x1="469.3" y1="590" x2="476.2" y2="586.1" stroke="#000" stroke-width="1.0" stroke-linejoin="round" stroke-linecap="round"/>
<ellipse cx="472.8" cy="596.1" rx="7" ry="3.5" transform="rotate(60.3 472.8 596.1)" fill="#fff" stroke="#000" stroke-width="1.0" stroke-linejoin="round" stroke-linecap="round"/>
<ellipse cx="472.8" cy="596.1" rx="7.5" ry="3.8" transform="rotate(60.3 472.8 596.1)" fill="#fff" stroke="#000" stroke-width="1.0" stroke-linejoin="round" stroke-linecap="round"/>
<polygon points="469.5,606.6 476.5,602.6 469,589.6 462.1,593.6" fill="#fff" stroke="none"/>
<line x1="469.5" y1="606.6" x2="476.5" y2="602.6" stroke="#000" stroke-width="1.0" stroke-linejoin="round" stroke-linecap="round"/>
<line x1="462.1" y1="593.6" x2="469" y2="589.6" stroke="#000" stroke-width="1.0" stroke-linejoin="round" stroke-linecap="round"/>
<ellipse cx="465.8" cy="600.1" rx="7.5" ry="3.8" transform="rotate(60.3 465.8 600.1)" fill="#fff" stroke="#000" stroke-width="1.0" stroke-linejoin="round" stroke-linecap="round"/>
<ellipse cx="465.8" cy="600.1" rx="8.6" ry="4.3" transform="rotate(60.3 465.8 600.1)" fill="#fff" stroke="#000" stroke-width="1.0" stroke-linejoin="round" stroke-linecap="round"/>
<polygon points="448.3,619.9 470.1,607.5 461.5,592.6 439.8,605" fill="#fff" stroke="none"/>
<line x1="448.3" y1="619.9" x2="470.1" y2="607.5" stroke="#000" stroke-width="1.0" stroke-linejoin="round" stroke-linecap="round"/>
<line x1="439.8" y1="605" x2="461.5" y2="592.6" stroke="#000" stroke-width="1.0" stroke-linejoin="round" stroke-linecap="round"/>
<line x1="441" y1="604.7" x2="462.8" y2="592.3" stroke="#000" stroke-width="1.0"/>
<line x1="442.5" y1="605" x2="464.2" y2="592.6" stroke="#000" stroke-width="1.0"/>
<line x1="444.1" y1="605.9" x2="465.8" y2="593.6" stroke="#000" stroke-width="1.0"/>
<line x1="445.7" y1="607.4" x2="467.4" y2="595" stroke="#000" stroke-width="1.0"/>
<line x1="447.2" y1="609.3" x2="468.9" y2="596.9" stroke="#000" stroke-width="1.0"/>
<line x1="448.4" y1="611.4" x2="470.1" y2="599" stroke="#000" stroke-width="1.0"/>
<line x1="449.2" y1="613.6" x2="471" y2="601.2" stroke="#000" stroke-width="1.0"/>
<line x1="449.7" y1="615.7" x2="471.4" y2="603.4" stroke="#000" stroke-width="1.0"/>
<line x1="449.7" y1="617.6" x2="471.4" y2="605.2" stroke="#000" stroke-width="1.0"/>
<line x1="449.2" y1="619" x2="470.9" y2="606.6" stroke="#000" stroke-width="1.0"/>
<ellipse cx="444.1" cy="612.4" rx="8.6" ry="4.3" transform="rotate(60.3 444.1 612.4)" fill="#fff" stroke="#000" stroke-width="1.0" stroke-linejoin="round" stroke-linecap="round"/>
<ellipse cx="444.1" cy="612.4" rx="5.1" ry="2.5" transform="rotate(60.3 444.1 612.4)" fill="#fff" stroke="#000" stroke-width="1.0" stroke-linejoin="round" stroke-linecap="round"/>
<polygon points="406.6,639.6 446.6,616.9 441.6,608 401.6,630.8" fill="#fff" stroke="none"/>
<line x1="406.6" y1="639.6" x2="446.6" y2="616.9" stroke="#000" stroke-width="1.0" stroke-linejoin="round" stroke-linecap="round"/>
<line x1="401.6" y1="630.8" x2="441.6" y2="608" stroke="#000" stroke-width="1.0" stroke-linejoin="round" stroke-linecap="round"/>
<ellipse cx="404.1" cy="635.2" rx="5.1" ry="2.5" transform="rotate(60.3 404.1 635.2)" fill="#fff" stroke="#000" stroke-width="1.0" stroke-linejoin="round" stroke-linecap="round"/>
<ellipse cx="399.8" cy="637.7" rx="6.3" ry="3.1" transform="rotate(60.3 399.8 637.7)" fill="#fff" stroke="#000" stroke-width="1.0" stroke-linejoin="round" stroke-linecap="round"/>
<polygon points="388.1,651.6 402.9,643.2 396.6,632.2 381.9,640.6" fill="#fff" stroke="none"/>
<line x1="388.1" y1="651.6" x2="402.9" y2="643.2" stroke="#000" stroke-width="1.0" stroke-linejoin="round" stroke-linecap="round"/>
<line x1="381.9" y1="640.6" x2="396.6" y2="632.2" stroke="#000" stroke-width="1.0" stroke-linejoin="round" stroke-linecap="round"/>
<ellipse cx="385" cy="646.1" rx="6.3" ry="3.1" transform="rotate(60.3 385 646.1)" fill="#fff" stroke="#000" stroke-width="1.0" stroke-linejoin="round" stroke-linecap="round"/>
<ellipse cx="404.1" cy="635.2" rx="6.3" ry="3.1" transform="rotate(60.3 404.1 635.2)" fill="#fff" stroke="#000" stroke-width="1.0" stroke-linejoin="round" stroke-linecap="round"/>
<polygon points="377.7,657.5 407.2,640.7 401,629.7 371.4,646.6" fill="#fff" stroke="none"/>
<line x1="377.7" y1="657.5" x2="407.2" y2="640.7" stroke="#000" stroke-width="1.0" stroke-linejoin="round" stroke-linecap="round"/>
<line x1="371.4" y1="646.6" x2="401" y2="629.7" stroke="#000" stroke-width="1.0" stroke-linejoin="round" stroke-linecap="round"/>
<ellipse cx="374.6" cy="652" rx="6.3" ry="3.1" transform="rotate(60.3 374.6 652)" fill="#fff" stroke="#000" stroke-width="1.0" stroke-linejoin="round" stroke-linecap="round"/>
<ellipse cx="374.6" cy="652" rx="5.1" ry="2.5" transform="rotate(60.3 374.6 652)" fill="#fff" stroke="#000" stroke-width="1.0" stroke-linejoin="round" stroke-linecap="round"/>
<polygon points="322.3,687.7 377.1,656.5 372,647.6 317.3,678.8" fill="#fff" stroke="none"/>
<line x1="322.3" y1="687.7" x2="377.1" y2="656.5" stroke="#000" stroke-width="1.0" stroke-linejoin="round" stroke-linecap="round"/>
<line x1="317.3" y1="678.8" x2="372" y2="647.6" stroke="#000" stroke-width="1.0" stroke-linejoin="round" stroke-linecap="round"/>
<ellipse cx="319.8" cy="683.2" rx="5.1" ry="2.5" transform="rotate(60.3 319.8 683.2)" fill="#fff" stroke="#000" stroke-width="1.0" stroke-linejoin="round" stroke-linecap="round"/>
<ellipse cx="319.8" cy="683.2" rx="7.6" ry="3.8" transform="rotate(60.3 319.8 683.2)" fill="#fff" stroke="#000" stroke-width="1.0" stroke-linejoin="round" stroke-linecap="round"/>
<polygon points="301.9,702.2 323.6,689.8 316.1,676.6 294.3,689" fill="#fff" stroke="none"/>
<line x1="301.9" y1="702.2" x2="323.6" y2="689.8" stroke="#000" stroke-width="1.0" stroke-linejoin="round" stroke-linecap="round"/>
<line x1="294.3" y1="689" x2="316.1" y2="676.6" stroke="#000" stroke-width="1.0" stroke-linejoin="round" stroke-linecap="round"/>
<line x1="295.7" y1="688.8" x2="317.4" y2="676.4" stroke="#000" stroke-width="1.0"/>
<line x1="297.3" y1="689.3" x2="319.1" y2="677" stroke="#000" stroke-width="1.0"/>
<line x1="299.1" y1="690.7" x2="320.8" y2="678.3" stroke="#000" stroke-width="1.0"/>
<line x1="300.7" y1="692.6" x2="322.4" y2="680.2" stroke="#000" stroke-width="1.0"/>
<line x1="302" y1="694.9" x2="323.7" y2="682.5" stroke="#000" stroke-width="1.0"/>
<line x1="302.8" y1="697.3" x2="324.6" y2="684.9" stroke="#000" stroke-width="1.0"/>
<line x1="303.1" y1="699.4" x2="324.8" y2="687.1" stroke="#000" stroke-width="1.0"/>
<line x1="302.8" y1="701.2" x2="324.5" y2="688.8" stroke="#000" stroke-width="1.0"/>
<ellipse cx="298.1" cy="695.6" rx="7.6" ry="3.8" transform="rotate(60.3 298.1 695.6)" fill="#fff" stroke="#000" stroke-width="1.0" stroke-linejoin="round" stroke-linecap="round"/>
<ellipse cx="613.4" cy="642.9" rx="4.8" ry="2.4" transform="rotate(60.1 613.4 642.9)" fill="#fff" stroke="#000" stroke-width="1.0" stroke-linejoin="round" stroke-linecap="round"/>
<polygon points="603.7,654 615.8,647.1 611.1,638.7 598.9,645.7" fill="#fff" stroke="none"/>
<line x1="603.7" y1="654" x2="615.8" y2="647.1" stroke="#000" stroke-width="1.0" stroke-linejoin="round" stroke-linecap="round"/>
<line x1="598.9" y1="645.7" x2="611.1" y2="638.7" stroke="#000" stroke-width="1.0" stroke-linejoin="round" stroke-linecap="round"/>
<line x1="600.3" y1="645.7" x2="612.4" y2="638.7" stroke="#000" stroke-width="1.0"/>
<line x1="601.9" y1="646.8" x2="614.1" y2="639.8" stroke="#000" stroke-width="1.0"/>
<line x1="603.4" y1="648.7" x2="615.5" y2="641.7" stroke="#000" stroke-width="1.0"/>
<line x1="604.3" y1="650.9" x2="616.4" y2="644" stroke="#000" stroke-width="1.0"/>
<line x1="604.4" y1="652.9" x2="616.6" y2="645.9" stroke="#000" stroke-width="1.0"/>
<ellipse cx="601.3" cy="649.9" rx="4.8" ry="2.4" transform="rotate(60.1 601.3 649.9)" fill="#fff" stroke="#000" stroke-width="1.0" stroke-linejoin="round" stroke-linecap="round"/>
<ellipse cx="601.3" cy="649.9" rx="3.8" ry="1.9" transform="rotate(60.1 601.3 649.9)" fill="#fff" stroke="#000" stroke-width="1.0" stroke-linejoin="round" stroke-linecap="round"/>
<polygon points="599.7,655.2 603.2,653.2 599.4,646.6 595.9,648.6" fill="#fff" stroke="none"/>
<line x1="599.7" y1="655.2" x2="603.2" y2="653.2" stroke="#000" stroke-width="1.0" stroke-linejoin="round" stroke-linecap="round"/>
<line x1="595.9" y1="648.6" x2="599.4" y2="646.6" stroke="#000" stroke-width="1.0" stroke-linejoin="round" stroke-linecap="round"/>
<ellipse cx="597.8" cy="651.9" rx="3.8" ry="1.9" transform="rotate(60.1 597.8 651.9)" fill="#fff" stroke="#000" stroke-width="1.0" stroke-linejoin="round" stroke-linecap="round"/>
<ellipse cx="597.8" cy="651.9" rx="4.8" ry="2.4" transform="rotate(60.1 597.8 651.9)" fill="#fff" stroke="#000" stroke-width="1.0" stroke-linejoin="round" stroke-linecap="round"/>
<polygon points="578.6,668.5 600.2,656 595.4,647.7 573.8,660.2" fill="#fff" stroke="none"/>
<line x1="578.6" y1="668.5" x2="600.2" y2="656" stroke="#000" stroke-width="1.0" stroke-linejoin="round" stroke-linecap="round"/>
<line x1="573.8" y1="660.2" x2="595.4" y2="647.7" stroke="#000" stroke-width="1.0" stroke-linejoin="round" stroke-linecap="round"/>
<ellipse cx="576.2" cy="664.3" rx="4.8" ry="2.4" transform="rotate(60.1 576.2 664.3)" fill="#fff" stroke="#000" stroke-width="1.0" stroke-linejoin="round" stroke-linecap="round"/>
<ellipse cx="576.2" cy="664.3" rx="5.4" ry="2.7" transform="rotate(60.1 576.2 664.3)" fill="#fff" stroke="#000" stroke-width="1.0" stroke-linejoin="round" stroke-linecap="round"/>
<polygon points="565,677 578.9,669 573.5,659.6 559.6,667.6" fill="#fff" stroke="none"/>
<line x1="565" y1="677" x2="578.9" y2="669" stroke="#000" stroke-width="1.0" stroke-linejoin="round" stroke-linecap="round"/>
<line x1="559.6" y1="667.6" x2="573.5" y2="659.6" stroke="#000" stroke-width="1.0" stroke-linejoin="round" stroke-linecap="round"/>
<ellipse cx="562.3" cy="672.3" rx="5.4" ry="2.7" transform="rotate(60.1 562.3 672.3)" fill="#fff" stroke="#000" stroke-width="1.0" stroke-linejoin="round" stroke-linecap="round"/>
<ellipse cx="562.3" cy="672.3" rx="4.8" ry="2.4" transform="rotate(60.1 562.3 672.3)" fill="#fff" stroke="#000" stroke-width="1.0" stroke-linejoin="round" stroke-linecap="round"/>
<polygon points="523.1,700.4 564.7,676.5 559.9,668.1 518.3,692" fill="#fff" stroke="none"/>
<line x1="523.1" y1="700.4" x2="564.7" y2="676.5" stroke="#000" stroke-width="1.0" stroke-linejoin="round" stroke-linecap="round"/>
<line x1="518.3" y1="692" x2="559.9" y2="668.1" stroke="#000" stroke-width="1.0" stroke-linejoin="round" stroke-linecap="round"/>
<ellipse cx="520.7" cy="696.2" rx="4.8" ry="2.4" transform="rotate(60.1 520.7 696.2)" fill="#fff" stroke="#000" stroke-width="1.0" stroke-linejoin="round" stroke-linecap="round"/>
<ellipse cx="520.7" cy="696.2" rx="5.4" ry="2.7" transform="rotate(60.1 520.7 696.2)" fill="#fff" stroke="#000" stroke-width="1.0" stroke-linejoin="round" stroke-linecap="round"/>
<polygon points="507.7,709.9 523.4,700.9 518,691.5 502.4,700.5" fill="#fff" stroke="none"/>
<line x1="507.7" y1="709.9" x2="523.4" y2="700.9" stroke="#000" stroke-width="1.0" stroke-linejoin="round" stroke-linecap="round"/>
<line x1="502.4" y1="700.5" x2="518" y2="691.5" stroke="#000" stroke-width="1.0" stroke-linejoin="round" stroke-linecap="round"/>
<ellipse cx="505.1" cy="705.2" rx="5.4" ry="2.7" transform="rotate(60.1 505.1 705.2)" fill="#fff" stroke="#000" stroke-width="1.0" stroke-linejoin="round" stroke-linecap="round"/>
<ellipse cx="505.1" cy="705.2" rx="4.8" ry="2.4" transform="rotate(60.1 505.1 705.2)" fill="#fff" stroke="#000" stroke-width="1.0" stroke-linejoin="round" stroke-linecap="round"/>
<polygon points="350.5,799.5 507.4,709.3 502.7,701 345.7,791.2" fill="#fff" stroke="none"/>
<line x1="350.5" y1="799.5" x2="507.4" y2="709.3" stroke="#000" stroke-width="1.0" stroke-linejoin="round" stroke-linecap="round"/>
<line x1="345.7" y1="791.2" x2="502.7" y2="701" stroke="#000" stroke-width="1.0" stroke-linejoin="round" stroke-linecap="round"/>
<ellipse cx="348.1" cy="795.3" rx="4.8" ry="2.4" transform="rotate(60.1 348.1 795.3)" fill="#fff" stroke="#000" stroke-width="1.0" stroke-linejoin="round" stroke-linecap="round"/>
<ellipse cx="348.1" cy="795.3" rx="4.4" ry="2.2" transform="rotate(60.1 348.1 795.3)" fill="#fff" stroke="#000" stroke-width="1.0" stroke-linejoin="round" stroke-linecap="round"/>
<polygon points="339.9,805.1 350.3,799.1 345.9,791.5 335.5,797.5" fill="#fff" stroke="none"/>
<line x1="339.9" y1="805.1" x2="350.3" y2="799.1" stroke="#000" stroke-width="1.0" stroke-linejoin="round" stroke-linecap="round"/>
<line x1="335.5" y1="797.5" x2="345.9" y2="791.5" stroke="#000" stroke-width="1.0" stroke-linejoin="round" stroke-linecap="round"/>
<line x1="337" y1="797.6" x2="347.5" y2="791.6" stroke="#000" stroke-width="1.0"/>
<line x1="338.8" y1="799.1" x2="349.2" y2="793.1" stroke="#000" stroke-width="1.0"/>
<line x1="340.2" y1="801.4" x2="350.6" y2="795.5" stroke="#000" stroke-width="1.0"/>
<line x1="340.6" y1="803.7" x2="351" y2="797.8" stroke="#000" stroke-width="1.0"/>
<ellipse cx="337.7" cy="801.3" rx="4.4" ry="2.2" transform="rotate(60.1 337.7 801.3)" fill="#fff" stroke="#000" stroke-width="1.0" stroke-linejoin="round" stroke-linecap="round"/>
<ellipse cx="337.7" cy="801.3" rx="2" ry="1" transform="rotate(60.1 337.7 801.3)" fill="#fff" stroke="#000" stroke-width="1.0" stroke-linejoin="round" stroke-linecap="round"/>
<ellipse cx="247.4" cy="765.1" rx="5.6" ry="2.8" transform="rotate(59.9 247.4 765.1)" fill="#fff" stroke="#000" stroke-width="1.0" stroke-linejoin="round" stroke-linecap="round"/>
<polygon points="230.4,781.5 250.3,769.9 244.6,760.3 224.7,771.8" fill="#fff" stroke="none"/>
<line x1="230.4" y1="781.5" x2="250.3" y2="769.9" stroke="#000" stroke-width="1.0" stroke-linejoin="round" stroke-linecap="round"/>
<line x1="224.7" y1="771.8" x2="244.6" y2="760.3" stroke="#000" stroke-width="1.0" stroke-linejoin="round" stroke-linecap="round"/>
<ellipse cx="227.5" cy="776.6" rx="5.6" ry="2.8" transform="rotate(59.9 227.5 776.6)" fill="#fff" stroke="#000" stroke-width="1.0" stroke-linejoin="round" stroke-linecap="round"/>
<ellipse cx="227.5" cy="776.6" rx="7.4" ry="3.7" transform="rotate(59.9 227.5 776.6)" fill="#fff" stroke="#000" stroke-width="1.0" stroke-linejoin="round" stroke-linecap="round"/>
<polygon points="208.8,796.1 231.3,783 223.8,770.2 201.3,783.3" fill="#fff" stroke="none"/>
<line x1="208.8" y1="796.1" x2="231.3" y2="783" stroke="#000" stroke-width="1.0" stroke-linejoin="round" stroke-linecap="round"/>
<line x1="201.3" y1="783.3" x2="223.8" y2="770.2" stroke="#000" stroke-width="1.0" stroke-linejoin="round" stroke-linecap="round"/>
<line x1="202.7" y1="783" x2="225.2" y2="770" stroke="#000" stroke-width="1.0"/>
<line x1="204.3" y1="783.6" x2="226.8" y2="770.6" stroke="#000" stroke-width="1.0"/>
<line x1="206" y1="784.9" x2="228.5" y2="771.8" stroke="#000" stroke-width="1.0"/>
<line x1="207.6" y1="786.8" x2="230.1" y2="773.7" stroke="#000" stroke-width="1.0"/>
<line x1="208.9" y1="789" x2="231.3" y2="775.9" stroke="#000" stroke-width="1.0"/>
<line x1="209.7" y1="791.3" x2="232.2" y2="778.2" stroke="#000" stroke-width="1.0"/>
<line x1="210" y1="793.4" x2="232.4" y2="780.4" stroke="#000" stroke-width="1.0"/>
<line x1="209.6" y1="795.1" x2="232.1" y2="782" stroke="#000" stroke-width="1.0"/>
<ellipse cx="205.1" cy="789.7" rx="7.4" ry="3.7" transform="rotate(59.9 205.1 789.7)" fill="#fff" stroke="#000" stroke-width="1.0" stroke-linejoin="round" stroke-linecap="round"/>
<ellipse cx="205.1" cy="789.7" rx="7" ry="3.5" transform="rotate(59.9 205.1 789.7)" fill="#fff" stroke="#000" stroke-width="1.0" stroke-linejoin="round" stroke-linecap="round"/>
<polygon points="190.4,806.3 208.6,795.8 201.5,783.6 183.4,794.2" fill="#fff" stroke="none"/>
<line x1="190.4" y1="806.3" x2="208.6" y2="795.8" stroke="#000" stroke-width="1.0" stroke-linejoin="round" stroke-linecap="round"/>
<line x1="183.4" y1="794.2" x2="201.5" y2="783.6" stroke="#000" stroke-width="1.0" stroke-linejoin="round" stroke-linecap="round"/>
<ellipse cx="186.9" cy="800.2" rx="7" ry="3.5" transform="rotate(59.9 186.9 800.2)" fill="#fff" stroke="#000" stroke-width="1.0" stroke-linejoin="round" stroke-linecap="round"/>
<ellipse cx="186.9" cy="800.2" rx="4.8" ry="2.4" transform="rotate(59.9 186.9 800.2)" fill="#fff" stroke="#000" stroke-width="1.0" stroke-linejoin="round" stroke-linecap="round"/>
<polygon points="90.7,861.6 189.3,804.4 184.5,796.1 85.9,853.3" fill="#fff" stroke="none"/>
<line x1="90.7" y1="861.6" x2="189.3" y2="804.4" stroke="#000" stroke-width="1.0" stroke-linejoin="round" stroke-linecap="round"/>
<line x1="85.9" y1="853.3" x2="184.5" y2="796.1" stroke="#000" stroke-width="1.0" stroke-linejoin="round" stroke-linecap="round"/>
<ellipse cx="88.3" cy="857.5" rx="4.8" ry="2.4" transform="rotate(59.9 88.3 857.5)" fill="#fff" stroke="#000" stroke-width="1.0" stroke-linejoin="round" stroke-linecap="round"/>
<ellipse cx="88.3" cy="857.5" rx="5.6" ry="2.8" transform="rotate(59.9 88.3 857.5)" fill="#fff" stroke="#000" stroke-width="1.0" stroke-linejoin="round" stroke-linecap="round"/>
<polygon points="73.8,872.3 91.1,862.3 85.5,852.6 68.2,862.7" fill="#fff" stroke="none"/>
<line x1="73.8" y1="872.3" x2="91.1" y2="862.3" stroke="#000" stroke-width="1.0" stroke-linejoin="round" stroke-linecap="round"/>
<line x1="68.2" y1="862.7" x2="85.5" y2="852.6" stroke="#000" stroke-width="1.0" stroke-linejoin="round" stroke-linecap="round"/>
<line x1="69.5" y1="862.5" x2="86.8" y2="852.5" stroke="#000" stroke-width="1.0"/>
<line x1="71.1" y1="863.4" x2="88.4" y2="853.3" stroke="#000" stroke-width="1.0"/>
<line x1="72.7" y1="865.1" x2="90" y2="855" stroke="#000" stroke-width="1.0"/>
<line x1="74" y1="867.2" x2="91.3" y2="857.2" stroke="#000" stroke-width="1.0"/>
<line x1="74.6" y1="869.4" x2="91.9" y2="859.4" stroke="#000" stroke-width="1.0"/>
<line x1="74.6" y1="871.3" x2="91.9" y2="861.2" stroke="#000" stroke-width="1.0"/>
<ellipse cx="71" cy="867.5" rx="5.6" ry="2.8" transform="rotate(59.9 71 867.5)" fill="#fff" stroke="#000" stroke-width="1.0" stroke-linejoin="round" stroke-linecap="round"/>
<ellipse class="t" cx="235.5" cy="764.5" rx="1.2" ry="0.9" />
<ellipse cx="209.2" cy="713.1" rx="7.3" ry="3.6" transform="rotate(62 209.2 713.1)" fill="#fff" stroke="#000" stroke-width="1.0" stroke-linejoin="round" stroke-linecap="round"/>
<polygon points="183.5,735.1 212.6,719.6 205.8,706.7 176.6,722.2" fill="#fff" stroke="none"/>
<line x1="183.5" y1="735.1" x2="212.6" y2="719.6" stroke="#000" stroke-width="1.0" stroke-linejoin="round" stroke-linecap="round"/>
<line x1="176.6" y1="722.2" x2="205.8" y2="706.7" stroke="#000" stroke-width="1.0" stroke-linejoin="round" stroke-linecap="round"/>
<ellipse cx="180.1" cy="728.6" rx="7.3" ry="3.6" transform="rotate(62 180.1 728.6)" fill="#fff" stroke="#000" stroke-width="1.0" stroke-linejoin="round" stroke-linecap="round"/>
<ellipse cx="180.1" cy="728.6" rx="7.8" ry="3.9" transform="rotate(62 180.1 728.6)" fill="#fff" stroke="#000" stroke-width="1.0" stroke-linejoin="round" stroke-linecap="round"/>
<polygon points="161.7,747.3 183.7,735.5 176.4,721.8 154.3,733.5" fill="#fff" stroke="none"/>
<line x1="161.7" y1="747.3" x2="183.7" y2="735.5" stroke="#000" stroke-width="1.0" stroke-linejoin="round" stroke-linecap="round"/>
<line x1="154.3" y1="733.5" x2="176.4" y2="721.8" stroke="#000" stroke-width="1.0" stroke-linejoin="round" stroke-linecap="round"/>
<line x1="155.6" y1="733.3" x2="177.6" y2="721.5" stroke="#000" stroke-width="1.0"/>
<line x1="157" y1="733.7" x2="179.1" y2="722" stroke="#000" stroke-width="1.0"/>
<line x1="158.6" y1="734.9" x2="180.7" y2="723.1" stroke="#000" stroke-width="1.0"/>
<line x1="160.1" y1="736.5" x2="182.2" y2="724.8" stroke="#000" stroke-width="1.0"/>
<line x1="161.4" y1="738.6" x2="183.5" y2="726.8" stroke="#000" stroke-width="1.0"/>
<line x1="162.4" y1="740.8" x2="184.5" y2="729" stroke="#000" stroke-width="1.0"/>
<line x1="162.9" y1="743" x2="185" y2="731.2" stroke="#000" stroke-width="1.0"/>
<line x1="163" y1="744.9" x2="185" y2="733.1" stroke="#000" stroke-width="1.0"/>
<line x1="162.5" y1="746.4" x2="184.6" y2="734.6" stroke="#000" stroke-width="1.0"/>
<ellipse cx="158" cy="740.4" rx="7.8" ry="3.9" transform="rotate(62 158 740.4)" fill="#fff" stroke="#000" stroke-width="1.0" stroke-linejoin="round" stroke-linecap="round"/>
<ellipse cx="158" cy="740.4" rx="7.8" ry="3.9" transform="rotate(62 158 740.4)" fill="#fff" stroke="#000" stroke-width="1.0" stroke-linejoin="round" stroke-linecap="round"/>
<polygon points="144.9,756.2 161.7,747.3 154.3,733.5 137.6,742.4" fill="#fff" stroke="none"/>
<line x1="144.9" y1="756.2" x2="161.7" y2="747.3" stroke="#000" stroke-width="1.0" stroke-linejoin="round" stroke-linecap="round"/>
<line x1="137.6" y1="742.4" x2="154.3" y2="733.5" stroke="#000" stroke-width="1.0" stroke-linejoin="round" stroke-linecap="round"/>
<line x1="138.8" y1="742.2" x2="155.6" y2="733.3" stroke="#000" stroke-width="1.0"/>
<line x1="140.3" y1="742.7" x2="157" y2="733.7" stroke="#000" stroke-width="1.0"/>
<line x1="141.8" y1="743.8" x2="158.6" y2="734.9" stroke="#000" stroke-width="1.0"/>
<line x1="143.4" y1="745.4" x2="160.1" y2="736.5" stroke="#000" stroke-width="1.0"/>
<line x1="144.7" y1="747.5" x2="161.4" y2="738.6" stroke="#000" stroke-width="1.0"/>
<line x1="145.6" y1="749.7" x2="162.4" y2="740.8" stroke="#000" stroke-width="1.0"/>
<line x1="146.2" y1="751.9" x2="162.9" y2="743" stroke="#000" stroke-width="1.0"/>
<line x1="146.2" y1="753.8" x2="163" y2="744.9" stroke="#000" stroke-width="1.0"/>
<line x1="145.8" y1="755.3" x2="162.5" y2="746.4" stroke="#000" stroke-width="1.0"/>
<ellipse cx="141.2" cy="749.3" rx="7.8" ry="3.9" transform="rotate(62 141.2 749.3)" fill="#fff" stroke="#000" stroke-width="1.0" stroke-linejoin="round" stroke-linecap="round"/>
<ellipse cx="141.2" cy="749.3" rx="6" ry="3" transform="rotate(62 141.2 749.3)" fill="#fff" stroke="#000" stroke-width="1.0" stroke-linejoin="round" stroke-linecap="round"/>
<polygon points="115.8,769.6 144,754.6 138.4,744 110.1,759.1" fill="#fff" stroke="none"/>
<line x1="115.8" y1="769.6" x2="144" y2="754.6" stroke="#000" stroke-width="1.0" stroke-linejoin="round" stroke-linecap="round"/>
<line x1="110.1" y1="759.1" x2="138.4" y2="744" stroke="#000" stroke-width="1.0" stroke-linejoin="round" stroke-linecap="round"/>
<ellipse cx="113" cy="764.4" rx="6" ry="3" transform="rotate(62 113 764.4)" fill="#fff" stroke="#000" stroke-width="1.0" stroke-linejoin="round" stroke-linecap="round"/>
<ellipse cx="113" cy="764.4" rx="6" ry="3" transform="rotate(62 113 764.4)" fill="#fff" stroke="#000" stroke-width="1.0" stroke-linejoin="round" stroke-linecap="round"/>
<polygon points="106.1,774.8 115.8,769.6 110.1,759.1 100.4,764.2" fill="#fff" stroke="none"/>
<line x1="106.1" y1="774.8" x2="115.8" y2="769.6" stroke="#000" stroke-width="1.0" stroke-linejoin="round" stroke-linecap="round"/>
<line x1="100.4" y1="764.2" x2="110.1" y2="759.1" stroke="#000" stroke-width="1.0" stroke-linejoin="round" stroke-linecap="round"/>
<polyline points="107.7,774 108.4,773.3 108.7,772.1 108.7,770.6 108.3,769 107.5,767.3 106.5,765.7 105.4,764.4 104.2,763.5 103,763.2 102.1,763.4" fill="none" stroke="#000" stroke-width="1.3"/>
<polyline points="109.3,773.1 110,772.4 110.3,771.3 110.3,769.8 109.9,768.1 109.1,766.4 108.1,764.8 107,763.5 105.8,762.7 104.6,762.3 103.7,762.5" fill="none" stroke="#000" stroke-width="1.3"/>
<polyline points="110.9,772.2 111.6,771.5 112,770.4 111.9,768.9 111.5,767.2 110.8,765.5 109.8,764 108.6,762.7 107.4,761.8 106.3,761.5 105.3,761.6" fill="none" stroke="#000" stroke-width="1.3"/>
<polyline points="112.6,771.4 113.2,770.7 113.6,769.5 113.5,768 113.1,766.4 112.4,764.7 111.4,763.1 110.2,761.8 109,761 107.9,760.6 106.9,760.8" fill="none" stroke="#000" stroke-width="1.3"/>
<polyline points="114.2,770.5 114.8,769.8 115.2,768.7 115.1,767.2 114.7,765.5 114,763.8 113,762.2 111.8,761 110.6,760.1 109.5,759.7 108.5,759.9" fill="none" stroke="#000" stroke-width="1.3"/>
<ellipse cx="103.3" cy="769.5" rx="6" ry="3" transform="rotate(62 103.3 769.5)" fill="#fff" stroke="#000" stroke-width="1.0" stroke-linejoin="round" stroke-linecap="round"/>
<ellipse cx="103.3" cy="769.5" rx="6" ry="3" transform="rotate(62 103.3 769.5)" fill="#fff" stroke="#000" stroke-width="1.0" stroke-linejoin="round" stroke-linecap="round"/>
<polygon points="93.7,781.4 106.1,774.8 100.4,764.2 88.1,770.8" fill="#fff" stroke="none"/>
<line x1="93.7" y1="781.4" x2="106.1" y2="774.8" stroke="#000" stroke-width="1.0" stroke-linejoin="round" stroke-linecap="round"/>
<line x1="88.1" y1="770.8" x2="100.4" y2="764.2" stroke="#000" stroke-width="1.0" stroke-linejoin="round" stroke-linecap="round"/>
<ellipse cx="90.9" cy="776.1" rx="6" ry="3" transform="rotate(62 90.9 776.1)" fill="#fff" stroke="#000" stroke-width="1.0" stroke-linejoin="round" stroke-linecap="round"/>
<ellipse cx="90.9" cy="776.1" rx="4" ry="2" transform="rotate(62 90.9 776.1)" fill="#fff" stroke="#000" stroke-width="1.0" stroke-linejoin="round" stroke-linecap="round"/>
<ellipse cx="498.6" cy="855.8" rx="5.5" ry="3" transform="rotate(60.4 498.6 855.8)" fill="#fff" stroke="#000" stroke-width="1.0" stroke-linejoin="round" stroke-linecap="round"/>
<polygon points="494.3,864.5 501.3,860.6 495.8,851 488.9,855" fill="#fff" stroke="none"/>
<line x1="494.3" y1="864.5" x2="501.3" y2="860.6" stroke="#000" stroke-width="1.0" stroke-linejoin="round" stroke-linecap="round"/>
<line x1="488.9" y1="855" x2="495.8" y2="851" stroke="#000" stroke-width="1.0" stroke-linejoin="round" stroke-linecap="round"/>
<polyline points="496,863.5 496.7,862.8 497.1,861.7 497.1,860.4 496.7,858.8 496,857.3 495,855.9 493.9,854.7 492.7,854 491.6,853.7 490.6,854" fill="none" stroke="#000" stroke-width="1.3"/>
<polyline points="497.8,862.5 498.5,861.9 498.8,860.8 498.8,859.4 498.4,857.8 497.7,856.3 496.7,854.9 495.6,853.7 494.4,853 493.3,852.8 492.4,853" fill="none" stroke="#000" stroke-width="1.3"/>
<polyline points="499.5,861.6 500.2,860.9 500.6,859.8 500.5,858.4 500.2,856.8 499.4,855.3 498.5,853.9 497.3,852.8 496.2,852 495,851.8 494.1,852" fill="none" stroke="#000" stroke-width="1.3"/>
<ellipse cx="491.6" cy="859.7" rx="5.5" ry="3" transform="rotate(60.4 491.6 859.7)" fill="#fff" stroke="#000" stroke-width="1.0" stroke-linejoin="round" stroke-linecap="round"/>
<ellipse cx="491.6" cy="859.7" rx="6.6" ry="3.6" transform="rotate(60.4 491.6 859.7)" fill="#fff" stroke="#000" stroke-width="1.0" stroke-linejoin="round" stroke-linecap="round"/>
<polygon points="481.8,872.9 494.9,865.5 488.3,854 475.3,861.4" fill="#fff" stroke="none"/>
<line x1="481.8" y1="872.9" x2="494.9" y2="865.5" stroke="#000" stroke-width="1.0" stroke-linejoin="round" stroke-linecap="round"/>
<line x1="475.3" y1="861.4" x2="488.3" y2="854" stroke="#000" stroke-width="1.0" stroke-linejoin="round" stroke-linecap="round"/>
<ellipse cx="478.6" cy="867.1" rx="6.6" ry="3.6" transform="rotate(60.4 478.6 867.1)" fill="#fff" stroke="#000" stroke-width="1.0" stroke-linejoin="round" stroke-linecap="round"/>
<ellipse cx="473.3" cy="870.1" rx="9" ry="5" transform="rotate(60.4 473.3 870.1)" fill="#fff" stroke="#000" stroke-width="1.0" stroke-linejoin="round" stroke-linecap="round"/>
<polygon points="472.6,880.9 477.8,877.9 468.9,862.3 463.7,865.2" fill="#fff" stroke="none"/>
<line x1="472.6" y1="880.9" x2="477.8" y2="877.9" stroke="#000" stroke-width="1.0" stroke-linejoin="round" stroke-linecap="round"/>
<line x1="463.7" y1="865.2" x2="468.9" y2="862.3" stroke="#000" stroke-width="1.0" stroke-linejoin="round" stroke-linecap="round"/>
<ellipse cx="468.1" cy="873.1" rx="9" ry="5" transform="rotate(60.4 468.1 873.1)" fill="#fff" stroke="#000" stroke-width="1.0" stroke-linejoin="round" stroke-linecap="round"/>
<ellipse cx="478.6" cy="867.1" rx="9" ry="5" transform="rotate(60.4 478.6 867.1)" fill="#fff" stroke="#000" stroke-width="1.0" stroke-linejoin="round" stroke-linecap="round"/>
<polygon points="468.2,883.4 483,875 474.1,859.3 459.3,867.7" fill="#fff" stroke="none"/>
<line x1="468.2" y1="883.4" x2="483" y2="875" stroke="#000" stroke-width="1.0" stroke-linejoin="round" stroke-linecap="round"/>
<line x1="459.3" y1="867.7" x2="474.1" y2="859.3" stroke="#000" stroke-width="1.0" stroke-linejoin="round" stroke-linecap="round"/>
<ellipse cx="463.8" cy="875.5" rx="9" ry="5" transform="rotate(60.4 463.8 875.5)" fill="#fff" stroke="#000" stroke-width="1.0" stroke-linejoin="round" stroke-linecap="round"/>
<ellipse cx="463.8" cy="875.5" rx="7.5" ry="4.1" transform="rotate(60.4 463.8 875.5)" fill="#fff" stroke="#000" stroke-width="1.0" stroke-linejoin="round" stroke-linecap="round"/>
<polygon points="460.5,886 467.5,882.1 460.1,869 453.1,873" fill="#fff" stroke="none"/>
<line x1="460.5" y1="886" x2="467.5" y2="882.1" stroke="#000" stroke-width="1.0" stroke-linejoin="round" stroke-linecap="round"/>
<line x1="453.1" y1="873" x2="460.1" y2="869" stroke="#000" stroke-width="1.0" stroke-linejoin="round" stroke-linecap="round"/>
<ellipse cx="456.8" cy="879.5" rx="7.5" ry="4.1" transform="rotate(60.4 456.8 879.5)" fill="#fff" stroke="#000" stroke-width="1.0" stroke-linejoin="round" stroke-linecap="round"/>
<ellipse cx="456.8" cy="879.5" rx="11.3" ry="6.2" transform="rotate(60.4 456.8 879.5)" fill="#fff" stroke="#000" stroke-width="1.0" stroke-linejoin="round" stroke-linecap="round"/>
<polygon points="452,895.2 462.4,889.3 451.2,869.7 440.8,875.6" fill="#fff" stroke="none"/>
<line x1="452" y1="895.2" x2="462.4" y2="889.3" stroke="#000" stroke-width="1.0" stroke-linejoin="round" stroke-linecap="round"/>
<line x1="440.8" y1="875.6" x2="451.2" y2="869.7" stroke="#000" stroke-width="1.0" stroke-linejoin="round" stroke-linecap="round"/>
<line x1="442.1" y1="875.2" x2="452.6" y2="869.2" stroke="#000" stroke-width="1.0"/>
<line x1="443.7" y1="875.2" x2="454.1" y2="869.3" stroke="#000" stroke-width="1.0"/>
<line x1="445.4" y1="875.8" x2="455.8" y2="869.9" stroke="#000" stroke-width="1.0"/>
<line x1="447.1" y1="876.9" x2="457.6" y2="871" stroke="#000" stroke-width="1.0"/>
<line x1="448.8" y1="878.4" x2="459.3" y2="872.5" stroke="#000" stroke-width="1.0"/>
<line x1="450.4" y1="880.2" x2="460.8" y2="874.3" stroke="#000" stroke-width="1.0"/>
<line x1="451.8" y1="882.3" x2="462.2" y2="876.4" stroke="#000" stroke-width="1.0"/>
<line x1="452.9" y1="884.6" x2="463.3" y2="878.7" stroke="#000" stroke-width="1.0"/>
<line x1="453.7" y1="886.9" x2="464.1" y2="881" stroke="#000" stroke-width="1.0"/>
<line x1="454.1" y1="889.1" x2="464.5" y2="883.2" stroke="#000" stroke-width="1.0"/>
<line x1="454.1" y1="891.2" x2="464.5" y2="885.3" stroke="#000" stroke-width="1.0"/>
<line x1="453.7" y1="892.9" x2="464.2" y2="887" stroke="#000" stroke-width="1.0"/>
<line x1="453" y1="894.3" x2="463.5" y2="888.4" stroke="#000" stroke-width="1.0"/>
<ellipse cx="446.4" cy="885.4" rx="11.3" ry="6.2" transform="rotate(60.4 446.4 885.4)" fill="#fff" stroke="#000" stroke-width="1.0" stroke-linejoin="round" stroke-linecap="round"/>
<ellipse cx="446.4" cy="885.4" rx="11.5" ry="6.3" transform="rotate(60.4 446.4 885.4)" fill="#fff" stroke="#000" stroke-width="1.0" stroke-linejoin="round" stroke-linecap="round"/>
<polygon points="434.7,905.3 452.1,895.4 440.7,875.4 423.3,885.3" fill="#fff" stroke="none"/>
<line x1="434.7" y1="905.3" x2="452.1" y2="895.4" stroke="#000" stroke-width="1.0" stroke-linejoin="round" stroke-linecap="round"/>
<line x1="423.3" y1="885.3" x2="440.7" y2="875.4" stroke="#000" stroke-width="1.0" stroke-linejoin="round" stroke-linecap="round"/>
<ellipse cx="429" cy="895.3" rx="11.5" ry="6.3" transform="rotate(60.4 429 895.3)" fill="#fff" stroke="#000" stroke-width="1.0" stroke-linejoin="round" stroke-linecap="round"/>
<ellipse cx="429" cy="895.3" rx="13" ry="7.2" transform="rotate(60.4 429 895.3)" fill="#fff" stroke="#000" stroke-width="1.0" stroke-linejoin="round" stroke-linecap="round"/>
<polygon points="427.6,911 435.4,906.6 422.6,884 414.7,888.4" fill="#fff" stroke="none"/>
<line x1="427.6" y1="911" x2="435.4" y2="906.6" stroke="#000" stroke-width="1.0" stroke-linejoin="round" stroke-linecap="round"/>
<line x1="414.7" y1="888.4" x2="422.6" y2="884" stroke="#000" stroke-width="1.0" stroke-linejoin="round" stroke-linecap="round"/>
<ellipse cx="421.2" cy="899.7" rx="13" ry="7.2" transform="rotate(60.4 421.2 899.7)" fill="#fff" stroke="#000" stroke-width="1.0" stroke-linejoin="round" stroke-linecap="round"/>
<ellipse cx="421.2" cy="899.7" rx="14.5" ry="8" transform="rotate(60.4 421.2 899.7)" fill="#fff" stroke="#000" stroke-width="1.0" stroke-linejoin="round" stroke-linecap="round"/>
<polygon points="424,914.8 428.3,912.3 414,887.1 409.7,889.6" fill="#fff" stroke="none"/>
<line x1="424" y1="914.8" x2="428.3" y2="912.3" stroke="#000" stroke-width="1.0" stroke-linejoin="round" stroke-linecap="round"/>
<line x1="409.7" y1="889.6" x2="414" y2="887.1" stroke="#000" stroke-width="1.0" stroke-linejoin="round" stroke-linecap="round"/>
<ellipse cx="416.8" cy="902.2" rx="14.5" ry="8" transform="rotate(60.4 416.8 902.2)" fill="#fff" stroke="#000" stroke-width="1.0" stroke-linejoin="round" stroke-linecap="round"/>
<ellipse cx="416.8" cy="902.2" rx="9" ry="5" transform="rotate(60.4 416.8 902.2)" fill="#fff" stroke="#000" stroke-width="1.0" stroke-linejoin="round" stroke-linecap="round"/>
<polygon points="406.5,918.4 421.3,910 412.4,894.4 397.6,902.8" fill="#fff" stroke="none"/>
<line x1="406.5" y1="918.4" x2="421.3" y2="910" stroke="#000" stroke-width="1.0" stroke-linejoin="round" stroke-linecap="round"/>
<line x1="397.6" y1="902.8" x2="412.4" y2="894.4" stroke="#000" stroke-width="1.0" stroke-linejoin="round" stroke-linecap="round"/>
<ellipse cx="402" cy="910.6" rx="9" ry="5" transform="rotate(60.4 402 910.6)" fill="#fff" stroke="#000" stroke-width="1.0" stroke-linejoin="round" stroke-linecap="round"/>
<ellipse cx="402" cy="910.6" rx="7.2" ry="4" transform="rotate(60.4 402 910.6)" fill="#fff" stroke="#000" stroke-width="1.0" stroke-linejoin="round" stroke-linecap="round"/>
<polygon points="396.9,921.8 405.6,916.9 398.5,904.3 389.8,909.3" fill="#fff" stroke="none"/>
<line x1="396.9" y1="921.8" x2="405.6" y2="916.9" stroke="#000" stroke-width="1.0" stroke-linejoin="round" stroke-linecap="round"/>
<line x1="389.8" y1="909.3" x2="398.5" y2="904.3" stroke="#000" stroke-width="1.0" stroke-linejoin="round" stroke-linecap="round"/>
<ellipse cx="393.3" cy="915.5" rx="7.2" ry="4" transform="rotate(60.4 393.3 915.5)" fill="#fff" stroke="#000" stroke-width="1.0" stroke-linejoin="round" stroke-linecap="round"/>
<ellipse cx="393.3" cy="915.5" rx="6.2" ry="3.4" transform="rotate(60.4 393.3 915.5)" fill="#fff" stroke="#000" stroke-width="1.0" stroke-linejoin="round" stroke-linecap="round"/>
<polygon points="377.3,931.8 396.4,920.9 390.3,910.1 371.1,921" fill="#fff" stroke="none"/>
<line x1="377.3" y1="931.8" x2="396.4" y2="920.9" stroke="#000" stroke-width="1.0" stroke-linejoin="round" stroke-linecap="round"/>
<line x1="371.1" y1="921" x2="390.3" y2="910.1" stroke="#000" stroke-width="1.0" stroke-linejoin="round" stroke-linecap="round"/>
<line x1="372.5" y1="920.8" x2="391.6" y2="909.9" stroke="#000" stroke-width="1.0"/>
<line x1="374.1" y1="921.4" x2="393.3" y2="910.5" stroke="#000" stroke-width="1.0"/>
<line x1="375.8" y1="922.8" x2="394.9" y2="911.9" stroke="#000" stroke-width="1.0"/>
<line x1="377.2" y1="924.7" x2="396.3" y2="913.9" stroke="#000" stroke-width="1.0"/>
<line x1="378.1" y1="926.9" x2="397.2" y2="916" stroke="#000" stroke-width="1.0"/>
<line x1="378.5" y1="929" x2="397.6" y2="918.2" stroke="#000" stroke-width="1.0"/>
<line x1="378.2" y1="930.7" x2="397.3" y2="919.9" stroke="#000" stroke-width="1.0"/>
<ellipse cx="374.2" cy="926.4" rx="6.2" ry="3.4" transform="rotate(60.4 374.2 926.4)" fill="#fff" stroke="#000" stroke-width="1.0" stroke-linejoin="round" stroke-linecap="round"/>
<ellipse cx="374.2" cy="926.4" rx="2.2" ry="1.2" transform="rotate(60.4 374.2 926.4)" fill="#fff" stroke="#000" stroke-width="1.0" stroke-linejoin="round" stroke-linecap="round"/>
<ellipse class="l" cx="433.8" cy="882.7" rx="2.2" ry="1.6" transform="rotate(-30 433.8 882.7)" style="fill:#000"/>
</g>
<g id="fork">
<ellipse cx="676" cy="693.6" rx="3.3" ry="1.6" transform="rotate(-62.5 676 693.6)" fill="#fff" stroke="#000" stroke-width="1.0" stroke-linejoin="round" stroke-linecap="round"/>
<polygon points="757.5,732.3 677.5,690.7 674.4,696.5 754.5,738.1" fill="#fff" stroke="none"/>
<line x1="757.5" y1="732.3" x2="677.5" y2="690.7" stroke="#000" stroke-width="1.0" stroke-linejoin="round" stroke-linecap="round"/>
<line x1="754.5" y1="738.1" x2="674.4" y2="696.5" stroke="#000" stroke-width="1.0" stroke-linejoin="round" stroke-linecap="round"/>
<ellipse cx="756" cy="735.2" rx="3.3" ry="1.6" transform="rotate(-62.5 756 735.2)" fill="#fff" stroke="#000" stroke-width="1.0" stroke-linejoin="round" stroke-linecap="round"/>
<ellipse class="w" cx="676" cy="693.6" rx="3.3" ry="1.6" transform="rotate(117.5 676 693.6)" />
<polyline class="t" points="682.5,700.7 683.1,700.7 683.9,700.4 684.8,699.6 685.4,698.5 685.9,697.3 686.1,696.2 686,695.3 685.5,694.8" />
<polyline class="t" points="684.2,701.6 684.9,701.7 685.7,701.3 686.5,700.5 687.2,699.4 687.7,698.3 687.9,697.1 687.7,696.3 687.3,695.7" />
<polyline class="t" points="741,731.1 741.7,731.2 742.5,730.8 743.3,730 744,728.9 744.5,727.8 744.7,726.7 744.5,725.8 744.1,725.3" />
<polyline class="t" points="742.8,732 743.5,732.1 744.3,731.7 745.1,730.9 745.8,729.9 746.3,728.7 746.4,727.6 746.3,726.7 745.8,726.2" />
<ellipse class="t" cx="706.4" cy="709.6" rx="1.3" ry="1" />
<ellipse class="t" cx="720.5" cy="717.3" rx="1.2" ry="1" />
<path class="w" d="M750.5 736C750.4 733.5 750.6 733.1 751.6 732C752.5 731 754.2 729.7 756.1 729.6C757.9 729.6 759.1 732.9 762.5 731.6C765.8 730.2 773.2 723.2 776.1 721.6C779 720 778.7 721.4 779.8 721.9C780.8 722.5 782.1 723.7 782.5 724.8C782.9 726 784 726 782 728.8C780 731.6 773.1 739.7 770.5 741.6C767.8 743.6 767.1 740.1 766 740.5C764.9 740.9 764.3 740.8 764.1 744C763.8 747.3 764.5 756.4 764.4 760.1C764.3 763.7 764.2 764.7 763.3 765.7C762.4 766.6 760.1 766.1 758.9 765.7C757.7 765.3 757.2 766.3 756.1 763.3C754.9 760.2 753 751.8 752.1 747.2C751.1 742.7 750.5 738.6 750.5 736Z"/>
<polyline class="t" points="762.5,731.6 764.9,736 766,740.5" />
<polyline class="t" points="752.9,733.6 754.5,747.2 758.5,762.5" />
<ellipse class="l" cx="756.9" cy="735.7" rx="4.2" ry="3.6" />
<ellipse class="l" cx="778.2" cy="726.7" rx="1.6" ry="1.4" />
<ellipse class="l" cx="763.3" cy="762.5" rx="2.2" ry="1.8" />
<polygon class="w" points="764.1,760.9 767.6,762 767.3,764.5 763.7,764.1" />
<ellipse class="l" cx="767.3" cy="763.3" rx="1.4" ry="1.6" />
</g>
<g id="labels">
<text class="lab" text-anchor="middle" transform="translate(0 317.5) scale(0.62 1)" x="145.1 156 167 178 189 199.9 210.9 221.9 232.8" y="0">21.109.01</text>
<text class="lab" text-anchor="middle" transform="translate(0 342.5) scale(0.62 1)" x="145.1 156 167 178 189 199.9 210.9 221.9 232.8" y="0">21.135.02</text>
<text class="lab" text-anchor="middle" transform="translate(0 367.5) scale(0.62 1)" x="145.1 156 167 178 189 199.9 210.9 221.9 232.8" y="0">21.135.01</text>
<text class="lab" text-anchor="middle" transform="translate(0 392.5) scale(0.62 1)" x="120.9 132.1 143.3 154.5 165.7 176.9 188 199.2 210.4 221.6 232.8" y="0">21.135.0101</text>
<polyline class="l" points="153,317.5 166.5,317.5 188,296.7" />
<circle cx="188" cy="296.7" r="1.9" fill="#000"/>
<polyline class="l" points="153,342.5 166.5,342.5" />
<line class="t" x1="166.5" y1="342.5" x2="330" y2="359" />
<circle cx="330" cy="359" r="1.9" fill="#000"/>
<polyline class="b" points="153,367 167,367 167,392 153,392" />
<polyline class="l" points="167,379.8 180,379.8 219,420" />
<rect class="l" x="358" y="175" width="66.5" height="18"/>
<text class="lab" text-anchor="middle" transform="translate(0 189) scale(0.62 1)" x="584.6 595.8 606.9 618.1 629.3 640.4 651.6 662.8 674" y="0">10.000.00</text>
<polyline class="l" points="358,184 345,184 327,194.5" />
<circle cx="327" cy="194.5" r="1.9" fill="#000"/>
<text class="lab" text-anchor="middle" transform="translate(0 273.5) scale(0.62 1)" x="991 1001.9 1012.8 1023.6 1034.5 1045.4 1056.2 1067.1 1078" y="0">21.118.02</text>
<polyline class="l" points="607,273 594,273 563.7,252.2" />
<circle cx="563.7" cy="252.2" r="1.9" fill="#000"/>
<text class="lab" text-anchor="middle" transform="translate(0 451) scale(0.62 1)" x="1108 1118.9 1129.7 1140.6 1151.5 1162.3 1173.2 1184.1 1194.9" y="0">21.184.01</text>
<text class="lab" text-anchor="middle" transform="translate(0 476) scale(0.62 1)" x="1108 1118.9 1129.7 1140.6 1151.5 1162.3 1173.2 1184.1 1194.9" y="0">21.182.01</text>
<polyline class="l" points="679.5,451 667,451 633,485.8" />
<circle cx="633" cy="485.8" r="1.9" fill="#000"/>
<polyline class="l" points="679.5,476 667,476 692,525.5" />
<rect class="l" x="410" y="669" width="67" height="17"/>
<text class="lab" text-anchor="middle" transform="translate(0 682.5) scale(0.62 1)" x="668.5 679.8 691.2 702.6 714 725.3 736.7 748.1 759.4" y="0">18.000.00</text>
<polyline class="l" points="477,677 491.3,677 503,700" />
<circle cx="503" cy="700" r="1.9" fill="#000"/>
<text class="lab" text-anchor="middle" transform="translate(0 707.5) scale(0.62 1)" x="899.9 910.9 921.9 932.8 943.8 954.8 965.7 976.7 987.7" y="0">21.148.02</text>
<text class="lab" text-anchor="middle" transform="translate(0 732) scale(0.62 1)" x="876.5 887.6 898.8 909.9 921 932.1 943.2 954.3 965.4 976.5 987.7" y="0">21.148.0201</text>
<text class="lab" text-anchor="middle" transform="translate(0 756.7) scale(0.62 1)" x="899.9 910.9 921.9 932.8 943.8 954.8 965.7 976.7 987.7" y="0">21.160.01</text>
<polyline class="b" points="620.7,707 634.4,707 634.4,732 620.7,732" />
<polyline class="l" points="634.4,719.6 646,719.6 657,649" />
<polyline class="l" points="620.7,756.7 634,756.7 703.4,711" />
<circle cx="703.4" cy="711" r="1.9" fill="#000"/>
<text class="lab" text-anchor="middle" transform="translate(0 651) scale(0.62 1)" x="180.6 191.6 202.6 213.6 224.6 235.6 246.6 257.6 268.6" y="0">21.155.20</text>
<text class="lab" text-anchor="middle" transform="translate(0 675.8) scale(0.62 1)" x="180.6 191.6 202.6 213.6 224.6 235.6 246.6 257.6 268.6" y="0">21.155.11</text>
<polyline class="l" points="175.3,651 188.2,651 294.6,687.3" />
<circle cx="294.6" cy="687.3" r="1.9" fill="#000"/>
<polyline class="l" points="175.3,675.8 188.2,675.8 199.7,697.3" />
<circle cx="199.7" cy="697.3" r="1.9" fill="#000"/>
<text class="lab" text-anchor="middle" transform="translate(0 906.8) scale(0.62 1)" x="89.4 100.4 111.4 122.3 133.3 144.3 155.2 166.2 177.2" y="0">21.155.21</text>
<text class="lab" text-anchor="middle" transform="translate(0 931.6) scale(0.62 1)" x="89.4 100.4 111.4 122.3 133.3 144.3 155.2 166.2 177.2" y="0">21.148.03</text>
<polyline class="l" points="118.3,906.8 130.5,906.8 150.8,828" />
<circle cx="150.8" cy="828" r="1.9" fill="#000"/>
<polyline class="l" points="118.3,931.6 130.5,931.6 192.6,887.6" />
<circle cx="192.6" cy="887.6" r="1.9" fill="#000"/>
<text class="lab" text-anchor="middle" transform="translate(0 845) scale(0.62 1)" x="558 569 580 590.9 601.9 612.9 623.9 634.9 645.9" y="0">21.155.02</text>
<polyline class="l" points="411,843.5 426,843.5 504.8,809.4" />
<polyline class="l" points="426,843.5 452,871" />
<text class="lab" text-anchor="middle" transform="translate(0 809.4) scale(0.62 1)" x="1093.5 1104.5 1115.6 1126.7 1137.7 1148.8 1159.9 1170.9 1182" y="0">21.155.01</text>
<polyline class="l" points="671.5,809 658,809 632,893" />
<polyline class="l" points="658,809 689.7,859.7" />
<circle cx="452.6" cy="871.6" r="1.9" fill="#000"/>
<circle cx="506.5" cy="808.8" r="1.9" fill="#000"/>
<circle cx="691.7" cy="524.8" r="1.9" fill="#000"/>
<circle cx="633" cy="892.2" r="1.9" fill="#000"/>
<circle cx="690.6" cy="857.4" r="1.9" fill="#000"/>
<circle cx="657.6" cy="648.5" r="1.9" fill="#000"/>
<circle cx="218.7" cy="420.6" r="1.9" fill="#000"/>
</g>
</svg>
</body></html>
